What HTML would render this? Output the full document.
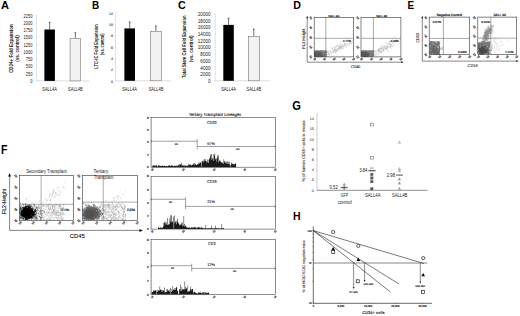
<!DOCTYPE html>
<html><head><meta charset="utf-8"><style>
html,body{margin:0;padding:0;background:#fff;width:520px;height:316px;overflow:hidden}
svg{display:block}
text{font-family:"Liberation Sans",sans-serif}
</style></head><body>
<svg width="520" height="316" viewBox="0 0 520 316">
<rect x="0" y="0" width="520" height="316" fill="#fff"/>
<text x="0.90" y="9.10" font-size="10.8" text-anchor="start" font-weight="bold" fill="#000" textLength="8.0" lengthAdjust="spacingAndGlyphs">A</text>
<text x="92.00" y="9.20" font-size="10.8" text-anchor="start" font-weight="bold" fill="#000" textLength="7.2" lengthAdjust="spacingAndGlyphs">B</text>
<text x="178.10" y="9.30" font-size="10.8" text-anchor="start" font-weight="bold" fill="#000" textLength="7.8" lengthAdjust="spacingAndGlyphs">C</text>
<text x="293.20" y="9.20" font-size="10.8" text-anchor="start" font-weight="bold" fill="#000" textLength="7.7" lengthAdjust="spacingAndGlyphs">D</text>
<text x="407.50" y="9.20" font-size="10.8" text-anchor="start" font-weight="bold" fill="#000" textLength="6.6" lengthAdjust="spacingAndGlyphs">E</text>
<text x="0.90" y="153.90" font-size="12.2" text-anchor="start" font-weight="bold" fill="#000" textLength="6.4" lengthAdjust="spacingAndGlyphs">F</text>
<text x="292.30" y="109.90" font-size="12.4" text-anchor="start" font-weight="bold" fill="#000" textLength="8.6" lengthAdjust="spacingAndGlyphs">G</text>
<text x="293.00" y="220.20" font-size="11.8" text-anchor="start" font-weight="bold" fill="#000" textLength="7.6" lengthAdjust="spacingAndGlyphs">H</text>
<line x1="36.50" y1="15.20" x2="36.50" y2="80.90" stroke="#c4c4c4" stroke-width="0.5"/>
<line x1="36.50" y1="80.90" x2="89.00" y2="80.90" stroke="#c4c4c4" stroke-width="0.6"/>
<line x1="35.50" y1="80.90" x2="36.50" y2="80.90" stroke="#c4c4c4" stroke-width="0.4"/>
<text x="32.50" y="82.92" font-size="4.5" text-anchor="end" font-weight="normal" fill="#222" textLength="2.25" lengthAdjust="spacingAndGlyphs">0</text>
<line x1="35.50" y1="73.66" x2="36.50" y2="73.66" stroke="#c4c4c4" stroke-width="0.4"/>
<text x="32.50" y="75.68" font-size="4.5" text-anchor="end" font-weight="normal" fill="#222" textLength="6.75" lengthAdjust="spacingAndGlyphs">250</text>
<line x1="35.50" y1="66.41" x2="36.50" y2="66.41" stroke="#c4c4c4" stroke-width="0.4"/>
<text x="32.50" y="68.43" font-size="4.5" text-anchor="end" font-weight="normal" fill="#222" textLength="6.75" lengthAdjust="spacingAndGlyphs">500</text>
<line x1="35.50" y1="59.17" x2="36.50" y2="59.17" stroke="#c4c4c4" stroke-width="0.4"/>
<text x="32.50" y="61.19" font-size="4.5" text-anchor="end" font-weight="normal" fill="#222" textLength="6.75" lengthAdjust="spacingAndGlyphs">750</text>
<line x1="35.50" y1="51.92" x2="36.50" y2="51.92" stroke="#c4c4c4" stroke-width="0.4"/>
<text x="32.50" y="53.94" font-size="4.5" text-anchor="end" font-weight="normal" fill="#222" textLength="9.0" lengthAdjust="spacingAndGlyphs">1000</text>
<line x1="35.50" y1="44.68" x2="36.50" y2="44.68" stroke="#c4c4c4" stroke-width="0.4"/>
<text x="32.50" y="46.70" font-size="4.5" text-anchor="end" font-weight="normal" fill="#222" textLength="9.0" lengthAdjust="spacingAndGlyphs">1250</text>
<line x1="35.50" y1="37.43" x2="36.50" y2="37.43" stroke="#c4c4c4" stroke-width="0.4"/>
<text x="32.50" y="39.45" font-size="4.5" text-anchor="end" font-weight="normal" fill="#222" textLength="9.0" lengthAdjust="spacingAndGlyphs">1500</text>
<line x1="35.50" y1="30.19" x2="36.50" y2="30.19" stroke="#c4c4c4" stroke-width="0.4"/>
<text x="32.50" y="32.21" font-size="4.5" text-anchor="end" font-weight="normal" fill="#222" textLength="9.0" lengthAdjust="spacingAndGlyphs">1750</text>
<line x1="35.50" y1="22.94" x2="36.50" y2="22.94" stroke="#c4c4c4" stroke-width="0.4"/>
<text x="32.50" y="24.96" font-size="4.5" text-anchor="end" font-weight="normal" fill="#222" textLength="9.0" lengthAdjust="spacingAndGlyphs">2000</text>
<line x1="35.50" y1="15.70" x2="36.50" y2="15.70" stroke="#c4c4c4" stroke-width="0.4"/>
<text x="32.50" y="17.72" font-size="4.5" text-anchor="end" font-weight="normal" fill="#222" textLength="9.0" lengthAdjust="spacingAndGlyphs">2250</text>
<line x1="49.65" y1="29.50" x2="49.65" y2="22.30" stroke="#111" stroke-width="0.6"/>
<line x1="48.75" y1="22.30" x2="50.55" y2="22.30" stroke="#111" stroke-width="0.6"/>
<rect x="44.40" y="29.50" width="10.50" height="51.40" fill="#000" stroke="none" stroke-width="0.6"/>
<line x1="75.35" y1="38.30" x2="75.35" y2="32.80" stroke="#111" stroke-width="0.6"/>
<line x1="74.45" y1="32.80" x2="76.25" y2="32.80" stroke="#111" stroke-width="0.6"/>
<rect x="70.10" y="38.60" width="10.50" height="42.30" fill="#f2f2f2" stroke="#777" stroke-width="0.6"/>
<text transform="translate(12.60 48.60) rotate(-90)" font-size="5.2" text-anchor="middle" font-weight="bold" fill="#111" textLength="48.5" lengthAdjust="spacingAndGlyphs">CD34+ Fold Expansion</text>
<text transform="translate(19.00 48.50) rotate(-90)" font-size="5.2" text-anchor="middle" font-weight="bold" fill="#111" textLength="26.5" lengthAdjust="spacingAndGlyphs">(vs. control)</text>
<text x="49.60" y="91.30" font-size="4.8" text-anchor="middle" font-weight="normal" fill="#111" textLength="14.6" lengthAdjust="spacingAndGlyphs">SALL4A</text>
<text x="75.40" y="91.30" font-size="4.8" text-anchor="middle" font-weight="normal" fill="#111" textLength="14.6" lengthAdjust="spacingAndGlyphs">SALL4B</text>
<line x1="115.60" y1="12.70" x2="115.60" y2="80.80" stroke="#c4c4c4" stroke-width="0.5"/>
<line x1="115.60" y1="80.80" x2="171.00" y2="80.80" stroke="#c4c4c4" stroke-width="0.6"/>
<line x1="114.60" y1="80.80" x2="115.60" y2="80.80" stroke="#c4c4c4" stroke-width="0.4"/>
<text x="113.00" y="82.50" font-size="3.6" text-anchor="end" font-weight="normal" fill="#222" textLength="1.95" lengthAdjust="spacingAndGlyphs" stroke="#222" stroke-width="0.09" text-rendering="geometricPrecision">0</text>
<line x1="114.60" y1="69.53" x2="115.60" y2="69.53" stroke="#c4c4c4" stroke-width="0.4"/>
<text x="113.00" y="71.23" font-size="3.6" text-anchor="end" font-weight="normal" fill="#222" textLength="1.95" lengthAdjust="spacingAndGlyphs" stroke="#222" stroke-width="0.09" text-rendering="geometricPrecision">2</text>
<line x1="114.60" y1="58.27" x2="115.60" y2="58.27" stroke="#c4c4c4" stroke-width="0.4"/>
<text x="113.00" y="59.96" font-size="3.6" text-anchor="end" font-weight="normal" fill="#222" textLength="1.95" lengthAdjust="spacingAndGlyphs" stroke="#222" stroke-width="0.09" text-rendering="geometricPrecision">4</text>
<line x1="114.60" y1="47.00" x2="115.60" y2="47.00" stroke="#c4c4c4" stroke-width="0.4"/>
<text x="113.00" y="48.70" font-size="3.6" text-anchor="end" font-weight="normal" fill="#222" textLength="1.95" lengthAdjust="spacingAndGlyphs" stroke="#222" stroke-width="0.09" text-rendering="geometricPrecision">6</text>
<line x1="114.60" y1="35.73" x2="115.60" y2="35.73" stroke="#c4c4c4" stroke-width="0.4"/>
<text x="113.00" y="37.43" font-size="3.6" text-anchor="end" font-weight="normal" fill="#222" textLength="1.95" lengthAdjust="spacingAndGlyphs" stroke="#222" stroke-width="0.09" text-rendering="geometricPrecision">8</text>
<line x1="114.60" y1="24.47" x2="115.60" y2="24.47" stroke="#c4c4c4" stroke-width="0.4"/>
<text x="113.00" y="26.16" font-size="3.6" text-anchor="end" font-weight="normal" fill="#222" textLength="3.9" lengthAdjust="spacingAndGlyphs" stroke="#222" stroke-width="0.09" text-rendering="geometricPrecision">10</text>
<line x1="114.60" y1="13.20" x2="115.60" y2="13.20" stroke="#c4c4c4" stroke-width="0.4"/>
<text x="113.00" y="14.90" font-size="3.6" text-anchor="end" font-weight="normal" fill="#222" textLength="3.9" lengthAdjust="spacingAndGlyphs" stroke="#222" stroke-width="0.09" text-rendering="geometricPrecision">12</text>
<line x1="129.70" y1="28.40" x2="129.70" y2="21.90" stroke="#111" stroke-width="0.6"/>
<line x1="128.80" y1="21.90" x2="130.60" y2="21.90" stroke="#111" stroke-width="0.6"/>
<rect x="124.40" y="28.40" width="10.60" height="52.40" fill="#000" stroke="none" stroke-width="0.6"/>
<line x1="155.90" y1="31.00" x2="155.90" y2="26.00" stroke="#111" stroke-width="0.6"/>
<line x1="155.00" y1="26.00" x2="156.80" y2="26.00" stroke="#111" stroke-width="0.6"/>
<rect x="150.50" y="31.30" width="10.80" height="49.50" fill="#f2f2f2" stroke="#777" stroke-width="0.6"/>
<text transform="translate(97.70 46.40) rotate(-90)" font-size="4.8" text-anchor="middle" font-weight="bold" fill="#111" textLength="44.5" lengthAdjust="spacingAndGlyphs">LTC-IC Fold Expansion</text>
<text transform="translate(104.40 44.20) rotate(-90)" font-size="4.8" text-anchor="middle" font-weight="bold" fill="#111" textLength="21.5" lengthAdjust="spacingAndGlyphs">(vs. control)</text>
<text x="129.50" y="91.20" font-size="4.8" text-anchor="middle" font-weight="normal" fill="#111" textLength="14.6" lengthAdjust="spacingAndGlyphs">SALL4A</text>
<text x="156.00" y="91.20" font-size="4.8" text-anchor="middle" font-weight="normal" fill="#111" textLength="14.6" lengthAdjust="spacingAndGlyphs">SALL4B</text>
<line x1="215.20" y1="13.50" x2="215.20" y2="80.80" stroke="#c4c4c4" stroke-width="0.5"/>
<line x1="215.20" y1="80.80" x2="270.00" y2="80.80" stroke="#c4c4c4" stroke-width="0.6"/>
<line x1="214.20" y1="80.80" x2="215.20" y2="80.80" stroke="#c4c4c4" stroke-width="0.4"/>
<text x="210.70" y="82.89" font-size="4.7" text-anchor="end" font-weight="normal" fill="#222" textLength="2.6" lengthAdjust="spacingAndGlyphs">0</text>
<line x1="214.20" y1="74.12" x2="215.20" y2="74.12" stroke="#c4c4c4" stroke-width="0.4"/>
<text x="210.70" y="76.21" font-size="4.7" text-anchor="end" font-weight="normal" fill="#222" textLength="10.4" lengthAdjust="spacingAndGlyphs">2000</text>
<line x1="214.20" y1="67.44" x2="215.20" y2="67.44" stroke="#c4c4c4" stroke-width="0.4"/>
<text x="210.70" y="69.53" font-size="4.7" text-anchor="end" font-weight="normal" fill="#222" textLength="10.4" lengthAdjust="spacingAndGlyphs">4000</text>
<line x1="214.20" y1="60.76" x2="215.20" y2="60.76" stroke="#c4c4c4" stroke-width="0.4"/>
<text x="210.70" y="62.85" font-size="4.7" text-anchor="end" font-weight="normal" fill="#222" textLength="10.4" lengthAdjust="spacingAndGlyphs">6000</text>
<line x1="214.20" y1="54.08" x2="215.20" y2="54.08" stroke="#c4c4c4" stroke-width="0.4"/>
<text x="210.70" y="56.17" font-size="4.7" text-anchor="end" font-weight="normal" fill="#222" textLength="10.4" lengthAdjust="spacingAndGlyphs">8000</text>
<line x1="214.20" y1="47.40" x2="215.20" y2="47.40" stroke="#c4c4c4" stroke-width="0.4"/>
<text x="210.70" y="49.49" font-size="4.7" text-anchor="end" font-weight="normal" fill="#222" textLength="13.0" lengthAdjust="spacingAndGlyphs">10000</text>
<line x1="214.20" y1="40.72" x2="215.20" y2="40.72" stroke="#c4c4c4" stroke-width="0.4"/>
<text x="210.70" y="42.81" font-size="4.7" text-anchor="end" font-weight="normal" fill="#222" textLength="13.0" lengthAdjust="spacingAndGlyphs">12000</text>
<line x1="214.20" y1="34.04" x2="215.20" y2="34.04" stroke="#c4c4c4" stroke-width="0.4"/>
<text x="210.70" y="36.13" font-size="4.7" text-anchor="end" font-weight="normal" fill="#222" textLength="13.0" lengthAdjust="spacingAndGlyphs">14000</text>
<line x1="214.20" y1="27.36" x2="215.20" y2="27.36" stroke="#c4c4c4" stroke-width="0.4"/>
<text x="210.70" y="29.45" font-size="4.7" text-anchor="end" font-weight="normal" fill="#222" textLength="13.0" lengthAdjust="spacingAndGlyphs">16000</text>
<line x1="214.20" y1="20.68" x2="215.20" y2="20.68" stroke="#c4c4c4" stroke-width="0.4"/>
<text x="210.70" y="22.77" font-size="4.7" text-anchor="end" font-weight="normal" fill="#222" textLength="13.0" lengthAdjust="spacingAndGlyphs">18000</text>
<line x1="214.20" y1="14.00" x2="215.20" y2="14.00" stroke="#c4c4c4" stroke-width="0.4"/>
<text x="210.70" y="16.09" font-size="4.7" text-anchor="end" font-weight="normal" fill="#222" textLength="13.0" lengthAdjust="spacingAndGlyphs">20000</text>
<line x1="228.55" y1="24.90" x2="228.55" y2="18.20" stroke="#111" stroke-width="0.6"/>
<line x1="227.65" y1="18.20" x2="229.45" y2="18.20" stroke="#111" stroke-width="0.6"/>
<rect x="223.30" y="24.90" width="10.50" height="55.90" fill="#000" stroke="none" stroke-width="0.6"/>
<line x1="253.80" y1="36.20" x2="253.80" y2="29.20" stroke="#111" stroke-width="0.6"/>
<line x1="252.90" y1="29.20" x2="254.70" y2="29.20" stroke="#111" stroke-width="0.6"/>
<rect x="248.30" y="36.50" width="11.00" height="44.30" fill="#f2f2f2" stroke="#777" stroke-width="0.6"/>
<text transform="translate(186.20 46.70) rotate(-90)" font-size="5.0" text-anchor="middle" font-weight="bold" fill="#111" textLength="62.5" lengthAdjust="spacingAndGlyphs">Total Stem Cell Fold Expansion</text>
<text transform="translate(192.90 48.80) rotate(-90)" font-size="5.0" text-anchor="middle" font-weight="bold" fill="#111" textLength="27.0" lengthAdjust="spacingAndGlyphs">(vs. control)</text>
<text x="228.50" y="91.20" font-size="4.8" text-anchor="middle" font-weight="normal" fill="#111" textLength="14.6" lengthAdjust="spacingAndGlyphs">SALL4A</text>
<text x="253.80" y="91.20" font-size="4.8" text-anchor="middle" font-weight="normal" fill="#111" textLength="14.6" lengthAdjust="spacingAndGlyphs">SALL4B</text>
<line x1="307.20" y1="17.60" x2="307.20" y2="62.20" stroke="#222" stroke-width="0.55"/>
<polygon points="307.20,15.80 306.30,18.20 308.10,18.20" fill="#000" stroke="none" stroke-width="0.6"/>
<line x1="307.20" y1="62.20" x2="401.80" y2="62.20" stroke="#222" stroke-width="0.55"/>
<polygon points="403.60,62.20 401.20,61.30 401.20,63.10" fill="#000" stroke="none" stroke-width="0.6"/>
<path d="M333.9 51.2h0M334.2 49.2h0M327.8 52.6h0M346.2 44.8h0M345.5 44.8h0M339.8 47.5h0M340.8 47.7h0M321.0 52.7h0M328.2 51.9h0M338.9 47.4h0M340.9 45.2h0M339.0 48.4h0M330.2 55.6h0M341.2 49.0h0M330.6 50.1h0M333.1 50.2h0M341.9 46.6h0M332.2 48.8h0M331.5 53.9h0M328.9 53.1h0M340.0 43.7h0M336.6 51.5h0M335.2 47.6h0M340.7 46.5h0M342.2 47.9h0M349.2 43.2h0M337.3 45.5h0M341.7 44.8h0M332.1 48.2h0M327.5 52.1h0M347.8 38.7h0M323.1 56.0h0M349.2 43.7h0M319.1 52.0h0M339.4 45.7h0M326.1 56.1h0M346.1 44.3h0M338.4 48.7h0M350.5 43.1h0M340.9 47.8h0M344.8 45.8h0M318.4 56.4h0M343.8 41.2h0M334.5 52.0h0M341.2 46.1h0M339.1 48.9h0M337.3 50.9h0M330.2 51.0h0M345.6 44.3h0M328.3 54.9h0M349.4 41.3h0M323.8 54.8h0M334.9 48.9h0M348.8 40.3h0M347.5 40.5h0M329.1 53.8h0M346.4 45.7h0M339.3 47.7h0M337.6 49.5h0M334.6 50.3h0M341.4 46.3h0M343.1 46.7h0M332.4 50.0h0M336.1 51.0h0M333.2 51.3h0M352.7 35.0h0M326.1 54.5h0M339.8 47.6h0M332.3 52.3h0M338.7 46.5h0M331.2 51.2h0M334.2 49.8h0M345.3 41.8h0M335.6 51.3h0M343.9 48.3h0M320.9 55.8h0M333.1 51.8h0M346.0 38.1h0M346.0 40.8h0M342.3 42.6h0M337.8 50.7h0M334.9 50.0h0M343.4 45.6h0M335.4 52.6h0M345.6 43.5h0M344.4 44.2h0M337.4 49.8h0M338.2 49.3h0M322.5 52.5h0M341.7 44.0h0M327.0 50.3h0M347.6 44.8h0M349.5 40.2h0M336.2 46.4h0M343.1 48.9h0M328.2 56.3h0M345.1 44.1h0M335.3 48.0h0M339.8 48.0h0M349.7 39.9h0M346.4 47.0h0M349.3 42.0h0M329.5 54.5h0M337.2 48.7h0M349.0 41.9h0M339.1 46.1h0M336.1 50.8h0M336.9 51.4h0M335.6 51.4h0M349.6 45.7h0M330.2 53.8h0M319.3 55.0h0M325.1 54.4h0M334.5 49.7h0M330.9 52.1h0M352.3 40.9h0M341.0 48.7h0M334.4 47.0h0M331.2 53.7h0M321.4 55.0h0M345.3 46.1h0M336.3 50.6h0M337.7 45.6h0M322.1 54.5h0M344.5 43.5h0M328.1 51.3h0M322.4 55.5h0M325.6 55.0h0M330.4 47.6h0M342.7 45.0h0M338.8 46.6h0M343.2 47.0h0M342.2 46.6h0M348.2 44.3h0M340.3 42.3h0M344.3 47.7h0M333.5 49.2h0M340.4 52.1h0M327.9 54.6h0M353.2 40.1h0M341.3 48.3h0M328.0 52.8h0M338.8 49.4h0M335.9 48.6h0M327.1 52.7h0M344.2 45.1h0M328.5 50.9h0M341.9 40.4h0M341.8 47.2h0M351.4 42.3h0M335.6 50.3h0M339.1 45.9h0M348.1 46.9h0M323.6 53.8h0M338.8 48.0h0M332.6 48.6h0M325.5 51.3h0M351.5 43.4h0M352.6 42.5h0M328.4 53.4h0M335.7 50.3h0M329.7 51.9h0M340.3 47.7h0M341.9 46.5h0M333.3 52.1h0M336.6 46.9h0M330.6 51.7h0M335.2 49.7h0M336.2 49.3h0M335.0 46.8h0M340.0 49.3h0M340.1 46.5h0M340.2 44.8h0M327.8 54.7h0M326.4 48.0h0M332.8 47.6h0M329.3 53.5h0M340.7 47.0h0M349.6 43.8h0M336.0 50.3h0M351.1 43.6h0M345.4 41.9h0M334.9 51.2h0M333.5 52.6h0M341.6 48.2h0M334.3 55.4h0M347.4 42.9h0M337.0 54.1h0M333.1 52.3h0M345.0 44.5h0M325.7 54.6h0M339.4 49.7h0M343.2 45.4h0M343.9 46.2h0M338.1 48.1h0M334.0 51.5h0M326.7 52.3h0M336.2 45.7h0" stroke="#b4b4b4" stroke-width="0.55" stroke-linecap="round"/>
<path d="M323.0 56.1h0M319.0 52.7h0M326.3 51.7h0M323.1 54.7h0M314.8 55.9h0M325.2 54.6h0M323.3 55.7h0M316.0 53.9h0M320.5 55.8h0M324.1 55.8h0M321.4 56.2h0M322.6 55.0h0M317.1 50.9h0M315.9 52.9h0M315.6 55.9h0M321.1 54.6h0M321.9 54.9h0M320.3 50.8h0M324.0 55.3h0M320.4 54.0h0M322.3 51.1h0M323.3 52.3h0M315.2 52.4h0M323.2 52.0h0M320.3 53.1h0M320.1 54.9h0M323.7 54.5h0M322.1 51.2h0M316.1 52.3h0M323.4 52.6h0M321.2 50.8h0M315.0 52.4h0M322.5 55.0h0M322.6 52.5h0M320.6 53.6h0M320.0 51.5h0M325.2 52.0h0M326.3 56.5h0M319.8 52.4h0M316.8 56.5h0M316.9 54.3h0M316.0 53.9h0M325.9 51.6h0M324.3 53.9h0M325.1 55.0h0M317.1 56.2h0M320.2 50.9h0M319.8 52.6h0M316.0 52.8h0M318.1 55.9h0M324.6 51.5h0M325.6 55.1h0M325.3 52.5h0M318.8 53.1h0M326.5 54.3h0M318.7 53.4h0M317.6 51.0h0M315.5 55.8h0M317.8 56.5h0M317.3 52.4h0M320.5 51.9h0M318.8 56.6h0M325.1 55.7h0M322.0 56.3h0M325.8 54.1h0M323.1 51.0h0M323.2 53.5h0M323.5 54.7h0M317.8 51.0h0M325.6 51.5h0M320.1 52.8h0M317.9 55.3h0M326.2 52.3h0M322.3 52.6h0M321.1 53.2h0M316.3 51.7h0M316.8 56.3h0M320.4 52.1h0M319.8 51.6h0M316.6 51.3h0M318.5 51.3h0M317.2 52.3h0M321.3 56.2h0M323.5 53.3h0M319.3 53.9h0M318.9 52.8h0M315.0 52.4h0M326.1 51.5h0M320.4 54.6h0M324.8 52.1h0M317.6 52.3h0M319.2 53.5h0M326.0 55.9h0M325.0 50.9h0M314.7 55.1h0M325.2 53.6h0M321.5 50.7h0M319.1 56.4h0M324.4 56.0h0M326.2 52.3h0M315.6 51.7h0M320.7 54.9h0M325.8 55.2h0M322.2 55.4h0M319.9 54.1h0M314.8 55.5h0M317.1 56.4h0M322.2 52.6h0M315.8 52.3h0M322.1 55.0h0M315.7 51.2h0M320.7 54.3h0M319.0 52.1h0M321.6 50.8h0M318.0 53.6h0M326.0 54.7h0M325.1 53.6h0M317.2 52.3h0M326.0 55.1h0M318.0 50.9h0M320.4 54.9h0M319.4 52.3h0M322.4 56.4h0M317.1 50.9h0M318.4 53.3h0M322.6 52.0h0M324.0 55.3h0M320.5 52.0h0M326.2 52.6h0M324.3 52.2h0M317.0 55.4h0M317.9 56.6h0M320.3 51.9h0M317.0 53.3h0M322.4 56.5h0M316.1 53.1h0M316.0 51.1h0M315.0 53.1h0M325.3 56.1h0M325.7 52.8h0M316.6 56.5h0M323.4 50.9h0M322.4 53.1h0M318.9 52.8h0M316.4 50.8h0M317.7 52.9h0M326.0 51.5h0M326.1 52.0h0M318.6 55.8h0M324.3 53.4h0M314.9 53.6h0M318.8 56.4h0M316.6 53.0h0M325.3 50.9h0M319.3 55.7h0M323.7 51.0h0M314.7 51.1h0M325.5 52.3h0M323.4 56.2h0M318.4 52.4h0M326.0 54.5h0M317.5 55.1h0M318.2 52.4h0M325.5 54.6h0M325.8 50.9h0M317.1 53.6h0M326.0 56.6h0M319.0 52.3h0M319.5 53.8h0M325.6 51.9h0M324.1 55.3h0M324.4 55.5h0M321.7 52.7h0M318.2 53.0h0M323.9 51.2h0M316.7 55.3h0M317.3 51.1h0M314.7 54.1h0M317.5 51.3h0M315.5 53.8h0M323.0 53.5h0M317.1 53.3h0M321.9 54.9h0M323.4 55.9h0M322.4 51.5h0M324.6 52.5h0M321.2 53.0h0M323.3 52.0h0M317.3 52.2h0M316.2 56.2h0M321.4 52.7h0M320.5 52.2h0M324.2 54.7h0M326.4 51.4h0M320.1 55.8h0M324.6 56.3h0M314.8 52.5h0M315.7 51.9h0M326.2 54.3h0M325.7 53.0h0M324.9 53.5h0M317.5 55.5h0M325.9 51.4h0M321.6 54.5h0M316.9 53.0h0M316.0 52.0h0M317.4 54.4h0M322.3 52.0h0M322.6 51.9h0M318.1 52.0h0M324.0 54.1h0M315.1 51.4h0M319.1 54.1h0M322.1 51.3h0M316.3 55.0h0M319.3 52.5h0M318.0 56.6h0M318.1 54.2h0M318.7 53.3h0M318.7 51.9h0M323.2 52.0h0M319.5 55.8h0M319.3 56.1h0M319.9 51.7h0M322.1 56.3h0M315.4 54.5h0M318.8 53.8h0M316.1 52.5h0M320.7 56.4h0M315.6 53.7h0M316.7 51.5h0M320.2 51.1h0M325.6 53.1h0M325.3 54.5h0M324.4 51.7h0M323.9 52.1h0M319.2 55.9h0M324.4 51.9h0M316.9 53.2h0M320.6 53.1h0M315.8 52.3h0M323.2 56.2h0M314.8 54.2h0M323.6 51.0h0M324.5 51.5h0M321.6 54.1h0M322.0 52.6h0M319.4 54.3h0M319.5 54.8h0M319.7 53.4h0M314.6 54.5h0M320.3 52.2h0M323.6 55.5h0M319.9 51.8h0M320.1 51.4h0M315.9 53.4h0M315.4 53.4h0M320.5 51.0h0M322.1 51.2h0M323.3 55.5h0M320.5 51.1h0M320.4 53.1h0M325.9 51.6h0M323.2 55.7h0M320.3 56.6h0M325.5 51.8h0M323.9 56.4h0M315.1 52.9h0M323.5 51.7h0M325.3 52.4h0M324.3 51.6h0M320.4 56.4h0M316.8 52.3h0M320.5 52.7h0M314.7 51.9h0M316.3 56.5h0M322.6 56.2h0M316.3 55.5h0M315.7 54.0h0M322.1 52.9h0M325.0 54.1h0M321.4 56.1h0M322.0 53.2h0M324.0 52.4h0M326.4 54.3h0M318.7 55.4h0M319.7 51.8h0M323.4 51.0h0M324.3 52.3h0M321.5 54.8h0M318.1 50.8h0M314.7 51.7h0M321.8 53.4h0M320.6 56.2h0M315.9 52.1h0M322.3 50.9h0M315.6 52.9h0M317.0 54.3h0M321.5 52.0h0M321.9 53.6h0M315.9 56.5h0M317.3 51.7h0M315.5 54.6h0M324.9 55.5h0M319.2 52.4h0M321.2 52.9h0M322.2 53.5h0M325.8 55.2h0M317.3 56.3h0M314.8 54.0h0M319.2 52.2h0M315.0 55.5h0M325.8 51.6h0M316.7 54.5h0M320.5 54.7h0M324.2 51.8h0M318.1 52.6h0M314.9 56.2h0M323.9 55.1h0M323.4 53.6h0M323.4 53.5h0M317.0 51.4h0M317.1 51.0h0M318.4 55.3h0M322.8 55.9h0M323.0 52.4h0M321.1 53.4h0M323.9 53.9h0M317.5 54.7h0M326.1 52.1h0M325.1 50.8h0M317.5 52.2h0M323.4 56.5h0M323.4 52.7h0M325.1 52.8h0M317.2 56.3h0M322.0 55.0h0M320.0 55.9h0M322.8 56.0h0M319.6 55.2h0M321.3 52.6h0M316.9 54.6h0M315.2 56.3h0M316.0 50.9h0M315.6 56.4h0M318.5 51.6h0M314.6 51.0h0M322.8 54.6h0M322.8 55.2h0M315.1 54.4h0M318.7 55.7h0M324.3 56.2h0M315.1 56.1h0M325.5 56.5h0M315.6 52.0h0M315.7 51.0h0M324.7 55.7h0M322.0 55.8h0M322.0 52.5h0M315.5 51.3h0M323.6 52.0h0M318.2 53.3h0M314.5 52.3h0M317.7 55.1h0M318.8 52.7h0M326.1 53.8h0M324.7 54.5h0M314.7 53.3h0M319.6 55.5h0M318.5 55.1h0M320.9 52.1h0M324.8 51.3h0M324.3 51.8h0M320.3 55.6h0M316.5 53.8h0M318.5 55.8h0M317.5 56.5h0M317.8 52.1h0M322.8 53.8h0M315.6 54.6h0M315.3 55.6h0M322.8 55.6h0M322.0 52.9h0M319.2 53.2h0M325.2 51.3h0M325.2 50.9h0M316.8 52.4h0M325.3 53.8h0M318.9 56.1h0M317.1 53.6h0M320.8 55.4h0M323.5 54.7h0M318.5 52.7h0M316.2 55.9h0M322.4 55.3h0M316.4 53.4h0M323.7 54.3h0M315.8 53.6h0M325.1 52.2h0M316.6 52.6h0M322.9 55.9h0M316.2 51.7h0M317.3 52.7h0M320.7 51.7h0M318.3 51.9h0M326.2 55.2h0M315.5 53.1h0M326.3 55.6h0M323.3 53.4h0M316.7 54.6h0M315.6 52.0h0M319.0 50.9h0M319.2 55.6h0M322.8 53.8h0M322.0 53.6h0M316.0 54.4h0M319.2 55.3h0M325.4 53.4h0M321.3 55.3h0M319.4 52.1h0M323.1 56.1h0M323.8 55.0h0M324.7 54.9h0M322.1 53.5h0M318.1 54.6h0M315.5 53.3h0M323.9 55.1h0M322.0 52.3h0M319.5 53.5h0M321.9 53.2h0M322.5 56.4h0M316.5 54.7h0M323.8 53.1h0M314.7 54.1h0M316.2 55.5h0M325.8 53.9h0M315.5 54.3h0M320.9 55.1h0M320.5 54.7h0M324.4 53.9h0M319.3 56.5h0M316.9 54.9h0M319.1 55.4h0M318.6 51.1h0M317.6 53.2h0M319.4 55.0h0M318.6 52.4h0M317.0 55.3h0M325.8 54.0h0M317.0 55.6h0M319.1 52.0h0M315.9 55.5h0M324.2 54.6h0M320.0 54.2h0M318.6 54.6h0M324.3 55.7h0M320.0 52.5h0M321.0 51.5h0M324.5 52.9h0M324.7 52.4h0M318.9 52.3h0M319.5 51.9h0M317.7 52.2h0M318.0 53.7h0" stroke="#808080" stroke-width="0.8" stroke-linecap="round"/>
<path d="M314.9 55.6h0M316.6 53.6h0M321.6 53.5h0M321.6 55.6h0M320.9 53.3h0M317.4 54.5h0M323.1 54.9h0M316.8 53.8h0M318.7 55.2h0M317.0 55.4h0M320.9 53.3h0M314.7 53.2h0M315.4 52.1h0M318.7 52.1h0M316.1 54.3h0M317.8 55.5h0M316.9 54.7h0M316.5 54.9h0M315.1 54.8h0M321.9 54.8h0M314.9 55.1h0M315.6 52.4h0M316.1 55.7h0M318.5 54.6h0M315.7 53.2h0M320.7 55.0h0M315.6 51.7h0M315.2 54.6h0M318.2 54.5h0M317.1 52.8h0M316.0 55.9h0M318.3 56.2h0M315.2 55.5h0M318.5 53.7h0M318.7 53.4h0M315.9 54.7h0M315.5 52.7h0M316.8 55.8h0M316.8 56.5h0M315.1 52.9h0M321.1 55.3h0M319.8 53.5h0M319.5 55.1h0M319.1 54.7h0M320.4 53.8h0M315.6 52.6h0M320.3 53.7h0M315.4 53.4h0M316.7 52.9h0M317.1 53.8h0M316.5 53.4h0M317.8 54.1h0M318.0 55.0h0M318.4 51.6h0M316.5 53.6h0M319.4 52.5h0M316.1 54.3h0M317.0 56.1h0M316.7 56.1h0M320.4 55.3h0M318.8 54.9h0M318.8 53.0h0M319.8 54.0h0M319.9 54.8h0M320.2 54.5h0M316.8 55.0h0M316.8 53.9h0M317.9 54.9h0M321.0 54.8h0M321.5 56.2h0M318.0 54.9h0M317.4 53.7h0M317.6 53.8h0M321.3 55.4h0M316.7 52.0h0M317.6 54.1h0M315.3 53.1h0M317.6 54.5h0M320.9 54.9h0M318.1 54.2h0M316.9 54.7h0M315.8 56.1h0M314.6 55.5h0M315.6 56.2h0M316.1 53.6h0M314.8 56.3h0M321.3 53.9h0M316.0 54.2h0M323.2 56.1h0M316.5 52.2h0M316.2 56.4h0M321.8 54.3h0M316.2 54.0h0M315.3 56.2h0M318.3 53.6h0M319.4 54.7h0M315.1 55.6h0M319.6 52.0h0M321.7 55.4h0M319.4 52.1h0M316.1 54.2h0M320.1 52.7h0M315.8 51.9h0M317.2 55.2h0M319.2 54.3h0M315.1 53.4h0M316.2 54.9h0M318.3 53.2h0M321.1 56.0h0M317.9 53.7h0M319.7 53.6h0M314.8 55.0h0M318.2 55.5h0M315.9 56.1h0M315.5 55.7h0M318.1 55.0h0M319.8 54.7h0M320.1 55.9h0M318.0 53.9h0M316.0 54.0h0M317.3 54.7h0M324.3 55.6h0M319.4 53.5h0M316.1 54.3h0M318.1 53.2h0M321.2 53.9h0M320.1 51.4h0M317.7 55.1h0M318.1 55.5h0M318.3 54.9h0M318.4 54.4h0M315.9 53.9h0M317.6 56.5h0M316.6 53.5h0M316.5 55.0h0M324.4 53.8h0M317.8 55.1h0M317.6 56.0h0M321.6 53.0h0M318.1 54.3h0M318.5 52.6h0M318.9 55.0h0M317.9 51.4h0M316.9 53.6h0M314.6 53.4h0M319.2 55.5h0M317.7 55.4h0M316.4 54.8h0M317.8 55.5h0M317.5 54.5h0M317.4 53.8h0M322.6 55.4h0M320.8 52.5h0M319.2 55.9h0M321.8 56.5h0M319.4 53.1h0M315.8 55.1h0M318.8 53.3h0M316.9 54.1h0M317.8 55.2h0M317.1 53.0h0M317.5 56.1h0M318.7 55.6h0M318.8 53.6h0M319.0 56.1h0M322.1 55.7h0M317.0 53.9h0M315.9 54.9h0M317.6 55.6h0M322.7 54.7h0M319.2 55.4h0M318.3 54.4h0M317.4 53.5h0M318.1 54.7h0M318.4 53.5h0M317.8 54.8h0M319.0 53.2h0M318.6 56.1h0M319.0 54.2h0M316.6 54.4h0M317.4 53.8h0M318.5 55.0h0M315.7 53.7h0M317.5 55.6h0M315.1 53.3h0M318.8 53.0h0M317.9 55.2h0M317.5 53.3h0M317.6 54.2h0M318.4 53.5h0M320.1 52.4h0M317.3 54.7h0M319.8 53.8h0M318.9 53.9h0M316.8 55.3h0M315.7 56.1h0M320.4 54.7h0M315.2 55.3h0M320.2 56.2h0M319.5 52.1h0M315.0 56.3h0M321.8 55.8h0M320.2 54.2h0M315.0 54.6h0M317.3 54.6h0M319.2 54.5h0M318.1 55.3h0M318.7 54.8h0M317.2 53.8h0M320.7 54.9h0" stroke="#5a5a5a" stroke-width="0.7" stroke-linecap="round"/>
<rect x="314.20" y="17.30" width="39.50" height="39.60" fill="none" stroke="#333" stroke-width="0.6"/>
<line x1="325.80" y1="17.30" x2="325.80" y2="56.90" stroke="#555" stroke-width="0.5"/>
<line x1="314.20" y1="38.30" x2="353.70" y2="38.30" stroke="#555" stroke-width="0.5"/>
<text x="333.80" y="16.50" font-size="2.9" text-anchor="middle" font-weight="normal" fill="#222" textLength="11.0" lengthAdjust="spacingAndGlyphs" stroke="#222" stroke-width="0.17" text-rendering="geometricPrecision">SALL 4A</text>
<text x="347.10" y="41.80" font-size="2.9" text-anchor="middle" font-weight="normal" fill="#222" textLength="8.2" lengthAdjust="spacingAndGlyphs" stroke="#222" stroke-width="0.17" text-rendering="geometricPrecision">2.77%</text>
<text transform="translate(310.80 17.80) rotate(50)" font-size="2.6" text-anchor="middle" dy="0.91" fill="#222" stroke="#222" stroke-width="0.2" text-rendering="geometricPrecision">10</text>
<text transform="translate(314.60 59.10) rotate(-50)" font-size="2.6" text-anchor="middle" dy="0.91" fill="#222" stroke="#222" stroke-width="0.2" text-rendering="geometricPrecision">10</text>
<text transform="translate(310.80 27.55) rotate(50)" font-size="2.6" text-anchor="middle" dy="0.91" fill="#222" stroke="#222" stroke-width="0.2" text-rendering="geometricPrecision">10</text>
<text transform="translate(324.32 59.10) rotate(-50)" font-size="2.6" text-anchor="middle" dy="0.91" fill="#222" stroke="#222" stroke-width="0.2" text-rendering="geometricPrecision">10</text>
<text transform="translate(310.80 37.30) rotate(50)" font-size="2.6" text-anchor="middle" dy="0.91" fill="#222" stroke="#222" stroke-width="0.2" text-rendering="geometricPrecision">10</text>
<text transform="translate(334.05 59.10) rotate(-50)" font-size="2.6" text-anchor="middle" dy="0.91" fill="#222" stroke="#222" stroke-width="0.2" text-rendering="geometricPrecision">10</text>
<text transform="translate(310.80 47.05) rotate(50)" font-size="2.6" text-anchor="middle" dy="0.91" fill="#222" stroke="#222" stroke-width="0.2" text-rendering="geometricPrecision">10</text>
<text transform="translate(343.77 59.10) rotate(-50)" font-size="2.6" text-anchor="middle" dy="0.91" fill="#222" stroke="#222" stroke-width="0.2" text-rendering="geometricPrecision">10</text>
<text transform="translate(310.80 56.80) rotate(50)" font-size="2.6" text-anchor="middle" dy="0.91" fill="#222" stroke="#222" stroke-width="0.2" text-rendering="geometricPrecision">10</text>
<text transform="translate(353.50 59.10) rotate(-50)" font-size="2.6" text-anchor="middle" dy="0.91" fill="#222" stroke="#222" stroke-width="0.2" text-rendering="geometricPrecision">10</text>
<path d="M373.3 52.5h0M381.8 48.5h0M392.8 41.5h0M387.4 47.0h0M372.4 54.3h0M382.2 50.4h0M378.9 51.6h0M368.0 54.0h0M390.1 47.6h0M382.9 47.7h0M392.7 39.5h0M375.8 54.0h0M388.9 43.7h0M384.4 46.3h0M383.5 50.6h0M389.7 41.0h0M389.9 41.6h0M393.3 44.6h0M383.0 51.2h0M377.2 50.2h0M379.7 50.4h0M373.3 54.8h0M387.9 46.6h0M398.3 40.5h0M394.8 41.8h0M389.8 41.3h0M384.8 47.6h0M378.5 49.8h0M379.9 48.9h0M378.1 50.2h0M373.5 53.4h0M390.1 44.8h0M378.6 54.1h0M391.8 46.5h0M393.4 43.0h0M381.8 51.9h0M378.0 51.1h0M386.4 48.0h0M380.5 52.3h0M381.4 51.3h0M392.6 45.5h0M389.6 43.1h0M371.2 53.5h0M387.3 50.0h0M372.0 55.1h0M375.3 51.1h0M380.5 51.7h0M384.9 50.5h0M374.1 55.3h0M391.4 44.9h0M387.3 45.5h0M373.2 52.9h0M378.6 54.7h0M384.8 48.7h0M389.7 43.9h0M391.2 45.6h0M388.0 47.4h0M397.3 40.9h0M387.6 48.2h0M374.9 55.6h0M369.9 52.6h0M387.7 44.2h0M382.0 45.8h0M383.6 46.1h0M386.1 44.0h0M387.0 46.3h0M383.6 48.5h0M384.2 45.4h0M374.6 52.1h0M386.8 42.7h0M376.1 51.0h0M373.5 54.4h0M381.7 47.7h0M374.1 55.1h0M377.1 53.1h0M387.0 42.8h0M373.2 53.8h0M386.1 49.1h0M390.2 47.5h0M379.6 50.1h0M390.0 44.5h0M392.5 40.7h0M388.9 45.6h0M385.8 47.5h0M373.3 52.7h0M396.6 40.3h0M372.2 54.0h0M379.5 48.7h0M375.4 55.0h0M378.1 49.0h0M390.1 46.6h0M373.6 55.2h0M366.4 55.2h0M393.1 43.3h0M371.3 55.9h0M391.3 44.7h0M366.7 56.3h0M386.8 48.7h0M399.7 40.0h0M378.7 51.0h0M393.9 41.4h0M394.7 37.0h0M390.2 43.8h0M387.1 48.3h0M372.4 54.0h0M385.2 49.1h0M374.6 50.9h0M381.3 49.3h0M378.2 54.4h0M390.7 45.1h0M389.5 43.2h0M380.1 49.1h0M371.6 54.6h0M381.7 52.7h0M374.7 52.0h0M386.8 47.9h0M383.3 47.7h0M387.5 47.5h0M370.6 52.5h0M384.3 48.4h0M384.0 46.5h0M381.2 47.8h0M386.4 48.7h0M398.8 43.8h0M375.8 51.5h0M374.6 53.8h0M363.2 56.1h0M371.4 55.8h0M383.0 49.5h0M399.0 39.1h0M386.1 45.7h0M364.7 54.7h0M383.4 50.9h0M381.7 48.0h0M376.3 56.4h0M383.2 50.1h0M379.4 51.8h0M390.3 44.9h0M378.9 50.6h0M374.3 52.8h0M380.3 50.7h0M395.0 45.7h0M379.0 52.2h0M385.7 49.2h0M383.2 49.4h0M378.8 49.3h0M390.8 47.8h0M389.0 46.9h0M385.4 46.7h0M384.8 46.8h0M374.3 56.0h0M388.8 51.2h0M376.5 52.1h0M378.4 51.5h0M381.1 48.2h0M392.7 42.4h0M378.4 52.4h0M378.2 50.4h0M386.2 46.5h0M371.8 54.3h0M381.0 53.6h0M373.1 55.9h0M375.9 51.7h0M380.1 51.0h0M390.8 48.8h0M377.3 54.7h0M392.0 46.2h0M376.2 54.3h0M382.0 50.2h0M380.6 51.6h0M393.0 46.3h0M381.2 52.0h0M396.1 40.3h0M396.3 39.4h0M387.9 47.8h0M396.3 42.8h0M378.7 49.3h0M371.7 56.2h0M380.9 48.4h0M387.8 44.8h0M379.1 49.9h0M397.9 44.6h0M381.6 46.2h0M385.5 47.8h0M386.1 48.6h0M380.1 52.4h0M390.5 45.6h0M379.3 49.7h0M389.2 43.4h0M381.6 48.0h0M370.5 56.5h0M382.8 49.1h0M390.9 41.7h0M382.4 49.8h0M390.5 42.8h0M389.4 46.2h0M395.2 45.3h0M387.9 51.1h0M383.0 48.0h0M379.9 48.4h0" stroke="#b4b4b4" stroke-width="0.55" stroke-linecap="round"/>
<path d="M370.2 55.8h0M364.5 51.3h0M372.7 53.3h0M372.5 55.0h0M370.1 55.8h0M368.8 53.5h0M361.7 55.0h0M366.3 53.9h0M372.4 51.5h0M370.4 51.0h0M369.7 55.7h0M364.3 54.1h0M372.9 54.6h0M367.7 52.3h0M361.8 52.9h0M366.1 52.0h0M364.9 51.6h0M369.7 54.8h0M364.0 52.2h0M367.4 53.5h0M372.5 52.9h0M364.7 56.2h0M362.8 54.2h0M365.2 55.7h0M367.8 55.4h0M363.2 54.8h0M368.4 53.6h0M370.5 55.8h0M362.5 52.5h0M365.5 52.0h0M361.8 52.5h0M363.5 55.0h0M366.6 51.4h0M365.1 53.6h0M365.5 51.8h0M362.0 50.8h0M373.2 55.3h0M362.1 55.1h0M373.1 54.2h0M362.4 53.7h0M366.4 51.9h0M367.7 50.8h0M372.3 54.7h0M368.8 56.5h0M369.1 52.3h0M364.1 51.6h0M361.4 55.5h0M371.4 52.6h0M363.4 54.6h0M371.4 56.4h0M363.1 55.5h0M371.2 55.3h0M365.1 51.9h0M371.2 52.7h0M365.6 54.1h0M365.6 55.8h0M364.0 51.0h0M368.0 54.6h0M371.1 55.1h0M372.2 56.5h0M367.1 53.8h0M363.0 52.6h0M368.2 51.2h0M369.5 51.7h0M362.2 51.0h0M366.5 51.9h0M369.9 50.8h0M371.4 56.0h0M370.7 53.3h0M364.5 54.8h0M367.4 53.3h0M365.2 53.4h0M369.2 55.8h0M372.1 51.7h0M364.7 53.5h0M368.0 52.9h0M363.5 51.3h0M365.0 53.6h0M373.0 56.3h0M372.9 54.5h0M371.0 51.1h0M369.4 54.5h0M364.7 54.2h0M372.7 53.7h0M369.0 52.6h0M365.3 56.2h0M361.4 51.9h0M369.4 53.5h0M362.1 54.8h0M365.6 54.3h0M366.2 54.0h0M368.0 53.2h0M362.5 51.8h0M372.0 54.1h0M362.5 56.0h0M364.2 51.3h0M367.6 52.3h0M367.1 54.1h0M363.9 54.2h0M362.5 53.9h0M368.3 51.2h0M366.1 51.2h0M366.5 56.0h0M367.8 55.1h0M370.3 51.4h0M373.2 55.2h0M362.3 55.8h0M365.9 51.8h0M372.8 54.2h0M370.6 51.6h0M370.6 51.1h0M364.0 53.0h0M363.7 52.6h0M369.7 53.3h0M372.0 54.5h0M371.8 54.2h0M372.3 56.1h0M363.1 55.3h0M365.3 55.4h0M369.4 55.8h0M362.6 53.0h0M370.1 56.5h0M369.9 51.0h0M368.5 51.3h0M367.8 55.7h0M362.5 56.4h0M369.3 52.3h0M363.4 53.5h0M371.3 54.3h0M362.5 50.9h0M362.4 55.6h0M363.3 54.1h0M364.6 54.9h0M365.7 51.6h0M371.8 54.0h0M369.5 55.7h0M372.7 50.8h0M365.3 51.7h0M367.2 56.1h0M370.9 51.0h0M363.3 55.7h0M369.4 53.1h0M366.9 51.7h0M371.4 53.1h0M371.8 54.5h0M362.0 52.8h0M363.7 56.2h0M368.3 51.0h0M363.2 52.9h0M366.8 54.3h0M365.8 52.9h0M365.2 50.9h0M361.6 51.6h0M369.3 52.4h0M364.4 53.8h0M364.3 54.2h0M367.5 56.6h0M373.2 50.9h0M367.9 55.5h0M371.8 55.5h0M368.8 54.6h0M365.5 52.5h0M370.8 56.1h0M372.6 54.9h0M364.8 55.4h0M370.1 53.9h0M368.9 52.9h0M367.8 53.2h0M361.8 52.8h0M367.0 53.0h0M364.1 52.2h0M365.4 51.6h0M366.6 53.5h0M368.0 52.6h0M363.1 51.1h0M364.8 52.6h0M370.0 54.1h0M372.6 52.8h0M372.4 54.3h0M362.1 51.8h0M365.4 55.5h0M366.3 56.1h0M361.9 53.7h0M372.1 52.4h0M364.2 50.9h0M363.1 52.4h0M369.7 52.1h0M366.0 52.0h0M368.5 56.0h0M369.0 51.9h0M368.4 51.2h0M371.0 56.1h0M365.3 51.6h0M363.4 54.0h0M371.8 54.7h0M372.4 52.0h0M365.1 55.3h0M369.0 53.2h0M369.4 52.8h0M361.8 53.3h0M361.6 54.6h0M365.2 53.8h0M368.4 52.3h0M366.8 50.8h0M372.4 54.2h0M373.2 51.1h0M368.6 55.2h0M365.1 51.3h0M363.0 51.6h0M370.5 51.3h0M371.0 53.3h0M367.7 54.3h0M367.9 54.8h0M368.4 52.8h0M370.2 52.3h0M369.8 55.4h0M370.6 52.6h0M366.6 52.4h0M367.5 56.5h0M362.7 50.8h0M366.9 54.8h0M370.6 53.0h0M373.2 52.1h0M370.3 51.3h0M361.4 51.6h0M361.8 53.8h0M367.9 51.9h0M372.6 53.0h0M362.9 51.8h0M370.1 56.4h0M363.1 50.9h0M370.6 52.2h0M373.1 53.8h0M368.9 52.8h0M370.9 53.6h0M365.0 56.3h0M362.4 55.2h0M361.9 54.7h0M366.0 56.0h0M361.8 54.2h0M366.1 56.4h0M372.6 54.6h0M363.8 52.3h0M364.3 53.4h0M363.9 52.0h0M370.4 54.7h0M363.7 54.2h0M363.0 56.0h0M371.7 52.4h0M370.3 55.8h0M364.5 52.8h0M367.0 56.2h0M363.1 54.9h0M368.4 53.5h0M368.2 56.1h0M363.6 56.1h0M365.5 55.5h0M371.6 51.9h0M364.7 50.9h0M362.9 55.2h0M362.3 51.8h0M369.4 51.3h0M365.2 56.4h0M369.8 56.1h0M373.1 50.9h0M364.0 55.6h0M369.5 51.0h0M367.3 52.2h0M366.3 51.4h0M365.0 56.1h0M362.6 53.7h0M362.7 53.4h0M363.3 54.9h0M362.9 55.3h0M367.2 51.4h0M365.4 53.8h0M372.3 52.9h0M371.9 55.2h0M364.4 51.8h0M364.3 51.2h0M361.6 53.9h0M366.1 54.1h0M365.5 50.8h0M369.5 54.7h0M367.7 54.1h0M371.8 55.1h0M366.0 52.7h0M365.8 53.1h0M366.1 51.6h0M373.3 50.8h0M368.5 56.4h0M364.2 54.5h0M365.7 52.2h0M363.5 51.5h0M371.4 55.5h0M372.2 51.0h0M369.6 52.7h0M369.0 54.1h0M371.5 53.9h0M363.9 54.6h0M370.2 53.1h0M369.8 53.1h0M367.5 54.5h0M369.4 52.7h0M368.8 54.1h0M363.8 54.5h0M364.3 56.3h0M366.9 55.2h0M367.5 53.7h0M363.8 51.6h0M372.4 54.0h0M367.5 54.0h0M371.0 52.2h0M363.2 55.8h0M366.7 54.7h0M371.2 56.2h0M371.7 51.0h0M365.7 55.8h0M371.1 51.5h0M363.0 52.3h0M362.3 52.9h0M370.9 53.9h0M366.6 51.3h0M369.6 53.5h0M366.9 55.6h0M370.4 51.7h0M369.4 53.0h0M367.5 52.2h0M365.6 52.8h0M365.7 50.8h0M363.5 54.2h0M361.8 51.8h0M369.9 52.4h0M365.0 52.2h0M371.3 51.3h0M368.9 56.0h0M363.5 53.3h0M370.8 54.5h0M365.6 51.0h0M366.5 53.0h0M369.8 52.5h0M366.1 54.7h0M371.0 52.9h0M365.8 54.3h0M372.4 51.9h0M373.0 55.1h0M365.6 54.8h0M365.1 51.2h0M370.3 53.1h0M367.5 53.8h0M372.1 55.4h0M361.4 54.4h0M366.7 53.6h0M371.4 53.3h0M366.9 56.2h0M366.5 53.7h0M367.3 55.8h0M369.3 55.3h0M366.0 51.0h0M369.4 54.1h0M370.5 55.5h0M362.5 52.1h0M362.0 55.7h0M362.3 51.3h0M370.3 54.2h0M361.8 54.9h0M369.8 53.7h0M361.8 55.0h0M366.2 54.3h0M373.3 55.7h0M371.8 51.6h0M365.2 53.9h0M364.4 52.3h0M364.9 52.3h0M371.6 54.1h0M367.3 53.3h0M361.7 52.6h0M371.7 55.6h0M371.6 52.3h0M363.6 51.1h0M367.7 53.0h0M366.8 53.7h0M368.2 53.0h0M370.9 52.0h0M372.3 54.1h0M361.7 52.7h0M367.6 53.2h0M368.0 52.7h0M364.4 55.6h0M364.6 55.1h0M370.9 54.4h0M366.6 56.5h0M366.5 56.1h0M361.8 53.4h0M368.9 51.0h0M371.6 51.2h0M368.4 51.8h0M372.4 54.2h0M370.9 53.8h0M369.3 54.9h0M364.7 52.0h0M371.3 51.6h0M372.3 52.0h0M362.3 51.3h0M370.7 56.6h0M366.2 54.8h0M364.2 56.3h0M369.5 51.7h0M361.8 55.0h0M361.6 55.9h0M364.7 52.2h0M368.2 52.7h0M367.9 51.7h0M372.2 52.7h0M371.4 51.7h0M365.9 50.9h0M365.7 54.7h0M363.8 54.1h0M362.2 53.6h0M370.0 53.4h0M369.4 51.4h0M371.2 51.5h0M372.6 54.0h0M364.6 52.9h0M370.3 53.8h0M372.5 51.3h0M367.0 56.0h0M368.4 54.0h0M362.2 51.6h0M364.4 56.2h0M371.4 52.1h0M372.4 50.9h0M365.3 56.5h0M369.1 51.0h0M365.2 53.5h0M364.1 55.3h0M363.3 55.6h0M364.7 51.2h0M367.9 51.3h0M367.8 55.6h0M368.4 53.6h0M361.5 53.9h0M362.3 54.7h0M362.7 54.3h0M365.4 53.0h0M369.2 51.7h0M363.2 56.5h0M365.1 55.9h0M371.8 53.7h0M362.9 51.3h0M371.8 51.5h0M367.2 54.0h0M362.5 53.6h0M363.1 54.0h0M367.3 53.0h0M363.5 53.2h0M363.6 51.5h0M364.0 56.1h0M367.2 56.2h0M367.1 55.6h0M368.1 55.0h0M363.9 55.3h0M363.0 52.4h0M361.5 53.1h0M367.4 52.5h0M372.0 51.3h0M368.2 52.2h0M368.4 55.5h0M369.8 51.1h0M364.1 54.4h0M373.1 51.0h0M368.6 55.0h0M371.1 52.8h0" stroke="#808080" stroke-width="0.8" stroke-linecap="round"/>
<path d="M365.4 53.3h0M364.8 54.6h0M366.6 54.2h0M363.7 55.0h0M364.0 54.0h0M363.8 55.3h0M365.0 55.6h0M368.4 54.7h0M361.9 54.9h0M365.4 51.7h0M364.5 52.7h0M365.5 56.6h0M366.7 52.7h0M367.4 55.9h0M363.7 55.4h0M367.7 54.3h0M364.5 53.9h0M366.9 51.8h0M367.5 53.4h0M366.5 52.5h0M362.5 53.9h0M366.3 52.5h0M365.8 53.8h0M367.1 54.3h0M365.5 54.5h0M368.3 54.2h0M364.7 55.6h0M362.9 55.0h0M363.1 52.7h0M361.5 56.2h0M365.4 52.7h0M368.3 53.8h0M363.7 55.0h0M362.1 52.5h0M362.9 56.3h0M366.5 52.6h0M367.0 54.7h0M365.6 54.8h0M365.4 53.4h0M362.6 53.8h0M363.7 55.5h0M363.2 53.9h0M366.0 55.3h0M363.8 53.3h0M362.4 52.5h0M366.9 56.2h0M368.5 55.4h0M365.2 55.7h0M366.5 54.4h0M362.5 55.7h0M367.0 54.2h0M365.9 54.6h0M365.1 54.0h0M364.4 54.7h0M364.5 56.0h0M366.7 55.8h0M366.2 53.4h0M367.1 53.4h0M367.2 55.6h0M362.4 56.3h0M363.1 53.7h0M366.7 53.8h0M368.4 55.6h0M363.4 53.1h0M367.3 53.3h0M364.5 54.3h0M364.0 55.4h0M368.9 53.8h0M366.3 56.2h0M363.9 54.5h0M361.7 56.2h0M363.4 53.8h0M364.6 53.5h0M362.3 54.3h0M367.7 54.4h0M365.6 52.7h0M363.7 52.6h0M364.3 55.5h0M365.1 53.5h0M366.2 56.0h0M365.4 54.1h0M364.4 53.8h0M364.2 55.1h0M363.9 56.0h0M370.0 54.0h0M365.2 55.8h0M365.9 54.4h0M363.5 56.1h0M365.8 55.4h0M362.8 55.6h0M366.2 54.4h0M362.0 52.9h0M364.0 55.4h0M364.6 53.1h0M361.4 53.9h0M364.5 53.6h0M362.7 54.5h0M363.3 53.9h0M364.6 54.3h0M365.8 53.1h0M364.3 55.7h0M367.0 55.5h0M364.6 52.6h0M365.9 55.5h0M362.2 53.1h0M364.8 53.3h0M367.9 53.9h0M363.3 55.9h0M365.2 53.5h0M361.9 54.4h0M362.2 52.1h0M365.8 55.6h0M366.6 55.3h0M363.1 53.1h0M362.1 55.7h0M365.5 52.1h0M366.4 56.4h0M364.6 53.1h0M368.3 52.9h0M364.3 52.1h0M361.8 52.4h0M366.8 56.3h0M363.6 52.9h0M364.4 55.2h0M364.3 55.7h0M364.7 55.3h0M361.8 51.3h0M365.2 53.4h0M364.2 54.2h0M365.5 53.6h0M367.6 54.7h0M365.6 55.6h0M366.7 55.3h0M368.5 55.3h0M365.7 55.3h0M363.1 53.8h0M363.1 56.3h0M365.5 53.1h0M368.2 55.2h0M367.1 55.0h0M363.8 54.9h0M362.1 53.1h0M362.6 54.0h0M361.6 54.6h0M368.5 54.6h0M366.4 54.4h0M365.3 54.7h0M363.3 54.8h0M361.3 55.3h0M363.9 53.2h0M363.7 55.5h0M363.0 55.4h0M362.1 54.5h0M365.1 55.7h0M361.3 53.9h0M368.1 54.3h0M369.2 53.7h0M363.9 52.5h0M365.9 55.1h0M368.9 54.9h0M364.0 52.8h0M364.3 56.0h0M366.1 56.4h0M366.4 54.6h0M365.8 54.9h0M365.3 53.2h0M365.3 55.1h0M367.8 53.4h0M365.2 55.2h0M362.1 54.1h0M364.9 55.7h0M369.3 55.1h0M363.2 51.4h0M366.8 54.5h0M364.3 53.3h0M366.1 52.2h0M364.7 54.9h0M365.2 56.5h0M364.3 54.8h0M366.4 52.5h0M363.9 54.8h0M366.6 53.6h0M366.3 55.2h0M361.4 54.9h0M365.0 55.7h0M366.3 53.9h0M366.8 55.8h0M365.5 55.4h0M361.7 55.2h0M362.2 53.0h0M363.7 54.9h0M364.4 54.2h0M362.3 55.0h0M362.9 52.7h0M363.6 53.2h0M363.9 54.4h0M364.8 56.1h0M365.5 52.2h0M362.1 53.0h0M365.4 54.8h0M368.4 54.3h0M365.2 54.8h0M367.3 53.9h0M366.0 54.2h0M364.7 54.9h0M364.5 54.0h0M367.9 54.3h0" stroke="#5a5a5a" stroke-width="0.7" stroke-linecap="round"/>
<rect x="361.00" y="17.30" width="39.90" height="39.60" fill="none" stroke="#333" stroke-width="0.6"/>
<line x1="373.40" y1="17.30" x2="373.40" y2="56.90" stroke="#555" stroke-width="0.5"/>
<line x1="361.00" y1="38.30" x2="400.90" y2="38.30" stroke="#555" stroke-width="0.5"/>
<text x="381.70" y="16.50" font-size="2.9" text-anchor="middle" font-weight="normal" fill="#222" textLength="11.0" lengthAdjust="spacingAndGlyphs" stroke="#222" stroke-width="0.17" text-rendering="geometricPrecision">SALL 4B</text>
<text x="394.60" y="41.80" font-size="2.9" text-anchor="middle" font-weight="normal" fill="#222" textLength="8.2" lengthAdjust="spacingAndGlyphs" stroke="#222" stroke-width="0.17" text-rendering="geometricPrecision">3.33%</text>
<text transform="translate(357.60 17.80) rotate(50)" font-size="2.6" text-anchor="middle" dy="0.91" fill="#222" stroke="#222" stroke-width="0.2" text-rendering="geometricPrecision">10</text>
<text transform="translate(361.40 59.10) rotate(-50)" font-size="2.6" text-anchor="middle" dy="0.91" fill="#222" stroke="#222" stroke-width="0.2" text-rendering="geometricPrecision">10</text>
<text transform="translate(357.60 27.55) rotate(50)" font-size="2.6" text-anchor="middle" dy="0.91" fill="#222" stroke="#222" stroke-width="0.2" text-rendering="geometricPrecision">10</text>
<text transform="translate(371.22 59.10) rotate(-50)" font-size="2.6" text-anchor="middle" dy="0.91" fill="#222" stroke="#222" stroke-width="0.2" text-rendering="geometricPrecision">10</text>
<text transform="translate(357.60 37.30) rotate(50)" font-size="2.6" text-anchor="middle" dy="0.91" fill="#222" stroke="#222" stroke-width="0.2" text-rendering="geometricPrecision">10</text>
<text transform="translate(381.05 59.10) rotate(-50)" font-size="2.6" text-anchor="middle" dy="0.91" fill="#222" stroke="#222" stroke-width="0.2" text-rendering="geometricPrecision">10</text>
<text transform="translate(357.60 47.05) rotate(50)" font-size="2.6" text-anchor="middle" dy="0.91" fill="#222" stroke="#222" stroke-width="0.2" text-rendering="geometricPrecision">10</text>
<text transform="translate(390.87 59.10) rotate(-50)" font-size="2.6" text-anchor="middle" dy="0.91" fill="#222" stroke="#222" stroke-width="0.2" text-rendering="geometricPrecision">10</text>
<text transform="translate(357.60 56.80) rotate(50)" font-size="2.6" text-anchor="middle" dy="0.91" fill="#222" stroke="#222" stroke-width="0.2" text-rendering="geometricPrecision">10</text>
<text transform="translate(400.70 59.10) rotate(-50)" font-size="2.6" text-anchor="middle" dy="0.91" fill="#222" stroke="#222" stroke-width="0.2" text-rendering="geometricPrecision">10</text>
<text transform="translate(304.80 38.70) rotate(-90)" font-size="4.0" text-anchor="middle" font-weight="normal" fill="#222" textLength="20.0" lengthAdjust="spacingAndGlyphs" stroke="#222" stroke-width="0.10" text-rendering="geometricPrecision">FL2-Height</text>
<text x="355.70" y="67.90" font-size="4.0" text-anchor="middle" font-weight="normal" fill="#222" textLength="9.5" lengthAdjust="spacingAndGlyphs" stroke="#222" stroke-width="0.10" text-rendering="geometricPrecision">CD45</text>
<line x1="422.30" y1="17.60" x2="422.30" y2="61.10" stroke="#222" stroke-width="0.55"/>
<polygon points="422.30,15.80 421.40,18.20 423.20,18.20" fill="#000" stroke="none" stroke-width="0.6"/>
<line x1="422.30" y1="61.10" x2="517.00" y2="61.10" stroke="#222" stroke-width="0.55"/>
<polygon points="518.80,61.10 516.40,60.20 516.40,62.00" fill="#000" stroke="none" stroke-width="0.6"/>
<path d="M431.4 48.0h0M430.8 51.5h0M438.8 53.2h0M429.7 52.3h0M435.4 52.0h0M434.8 49.3h0M435.8 51.7h0M430.5 42.0h0M435.3 45.1h0M433.7 41.4h0M437.3 41.7h0M438.2 51.8h0M434.4 42.9h0M436.3 44.0h0M434.1 42.8h0M439.7 48.4h0M433.3 42.6h0M437.1 52.3h0M438.4 42.7h0M433.4 45.3h0M437.5 43.2h0M435.9 54.0h0M437.5 41.4h0M430.5 42.8h0M436.8 49.1h0M435.0 47.2h0M433.9 49.2h0M436.3 53.2h0M437.2 51.6h0M439.0 52.2h0M437.0 41.7h0M436.6 52.3h0M434.1 52.7h0M431.5 53.5h0M434.2 50.5h0M432.3 45.2h0M433.3 45.5h0M430.7 47.1h0M439.7 49.8h0M439.2 51.2h0M438.2 54.2h0M437.4 44.9h0M432.2 46.7h0M429.9 44.3h0M438.7 53.2h0M433.1 51.3h0M437.6 52.8h0M437.8 48.2h0M430.8 52.0h0M432.9 49.4h0M433.4 48.3h0M439.5 43.4h0M435.1 49.7h0M435.2 53.5h0M433.9 53.1h0M436.7 53.8h0M430.6 44.1h0M432.6 53.1h0M429.8 44.7h0M437.0 54.1h0M431.5 47.0h0M436.7 50.3h0M437.3 51.1h0M432.2 44.7h0M430.0 50.3h0M431.8 44.7h0M439.5 49.7h0M435.7 49.8h0M435.8 50.3h0M432.8 42.2h0M430.4 41.5h0M433.4 43.2h0M430.9 47.7h0M439.6 50.2h0M432.5 51.3h0M431.5 42.6h0M432.8 46.6h0M436.7 47.1h0M437.1 42.6h0M439.2 45.8h0M438.2 41.7h0M438.2 44.3h0M438.4 51.7h0M436.5 44.9h0M429.8 43.8h0M438.9 43.4h0M436.4 48.9h0M436.4 43.7h0M431.2 42.6h0M439.7 46.3h0M436.4 48.7h0M432.0 42.2h0M429.9 52.4h0M431.0 53.8h0M433.4 50.7h0M431.1 51.5h0M432.3 46.1h0M435.0 42.8h0M432.2 51.6h0M432.6 46.3h0M437.5 44.2h0M431.7 44.2h0M433.6 46.1h0M436.2 47.4h0M438.6 42.0h0M436.5 52.1h0M432.1 41.7h0M434.2 42.8h0M434.4 50.5h0M430.7 42.9h0M434.6 43.6h0M432.1 47.0h0M430.9 42.2h0M433.4 47.4h0M439.3 48.5h0M430.4 44.2h0M437.3 48.6h0M438.6 53.8h0M438.5 42.8h0M439.3 48.1h0M432.1 43.5h0M438.5 44.1h0M430.5 44.8h0M439.1 47.3h0M437.2 42.3h0M434.3 45.4h0M431.8 49.9h0M433.4 42.9h0M439.7 47.6h0M431.5 41.5h0M436.4 48.0h0M429.9 47.4h0M437.3 48.3h0M432.1 47.8h0M435.9 49.8h0M431.2 51.7h0M439.3 50.9h0M438.4 46.1h0M438.9 43.7h0M432.0 49.1h0M438.9 42.4h0M431.9 41.8h0M434.2 43.2h0M431.7 51.0h0M435.6 53.5h0M433.8 50.1h0M429.8 53.6h0M432.1 47.5h0M434.9 53.6h0M434.7 54.2h0M436.0 44.1h0M438.2 43.9h0M439.9 47.2h0M432.0 53.8h0M433.0 46.6h0M433.2 50.0h0M429.9 46.2h0M431.4 52.0h0M429.7 49.2h0M432.3 47.2h0M435.4 50.5h0M431.1 44.4h0M430.9 53.7h0M431.2 43.1h0M435.0 48.9h0M438.7 42.1h0M432.1 43.5h0M435.7 47.2h0M433.9 52.8h0M436.4 52.5h0M439.5 44.8h0M439.3 46.6h0M430.2 53.2h0M430.8 41.6h0M432.7 45.1h0M439.6 52.6h0M434.0 48.2h0M438.4 51.8h0M436.4 48.0h0M430.9 44.5h0M436.4 48.9h0M437.9 53.0h0M439.5 43.8h0M430.5 52.9h0M435.5 43.7h0M436.8 44.6h0M432.1 46.1h0M435.0 50.1h0M430.4 50.9h0M436.1 47.4h0M436.6 51.7h0M429.8 47.5h0M436.6 50.5h0M436.3 43.7h0M439.5 51.5h0M432.1 46.9h0M439.5 44.0h0M433.9 53.8h0M438.9 44.3h0M437.2 46.0h0M436.5 51.2h0M431.0 44.2h0M431.9 44.8h0M430.1 43.1h0M433.8 46.8h0M430.5 48.9h0M439.3 48.8h0M433.3 50.4h0M434.2 43.6h0M434.6 41.6h0M436.6 43.4h0M433.5 53.8h0M437.5 52.1h0M436.2 49.5h0M436.9 53.8h0M431.7 51.2h0M432.8 44.6h0M438.1 49.1h0M438.4 52.6h0M435.7 43.9h0M429.9 48.3h0M437.1 44.9h0M430.4 41.4h0M431.5 50.3h0M429.7 44.3h0M432.4 50.5h0M439.8 41.6h0M430.9 53.4h0M439.6 43.3h0M433.1 48.1h0M433.0 46.7h0M434.6 44.7h0M430.3 42.4h0M431.4 42.5h0M436.1 50.3h0M432.4 51.6h0M437.1 45.8h0M434.7 43.8h0M439.2 48.6h0M430.2 43.3h0M436.8 46.3h0M437.0 44.3h0M437.8 51.7h0M430.7 48.9h0M431.7 50.5h0M437.9 51.6h0M432.1 42.5h0M436.5 48.6h0M431.1 43.8h0M435.6 42.7h0M436.2 44.5h0M432.3 46.8h0M435.1 50.7h0M430.0 50.7h0M432.0 45.1h0M436.2 50.3h0M436.0 53.0h0M431.8 45.4h0M436.5 44.7h0M431.3 44.3h0M437.6 52.0h0M437.0 53.7h0M437.8 45.3h0M432.9 50.7h0M430.3 49.2h0M430.6 42.0h0M434.9 43.3h0M439.2 52.7h0M434.4 43.9h0M430.9 47.9h0M435.0 46.0h0M437.0 48.2h0M437.6 42.7h0M430.4 46.3h0M434.6 44.6h0M436.5 44.2h0M432.9 47.5h0M437.0 51.3h0M433.5 47.1h0M439.2 53.4h0M436.0 42.7h0M434.3 49.6h0M432.5 41.8h0M439.7 53.1h0M431.0 47.4h0M436.0 45.2h0M430.4 51.0h0M437.6 47.0h0M430.6 46.4h0M430.7 53.8h0M430.2 45.1h0M437.5 43.1h0M430.8 42.3h0M431.4 48.2h0M438.2 43.5h0M431.5 51.2h0M434.0 45.7h0M431.0 44.5h0M439.6 42.9h0M432.3 50.9h0M438.8 53.0h0M434.5 53.7h0M435.9 45.1h0M434.4 50.6h0M437.2 43.0h0M431.7 53.7h0M430.8 51.8h0M433.2 44.5h0M432.3 47.4h0M439.8 43.3h0M438.4 45.5h0M431.5 51.0h0M433.2 43.8h0M434.0 52.0h0M438.5 48.8h0M429.8 51.2h0M435.9 53.0h0M439.4 45.6h0M438.4 51.9h0M432.4 46.1h0M433.5 45.9h0M433.6 42.8h0M432.0 53.1h0M433.9 49.6h0M438.8 51.1h0M432.2 53.2h0M437.9 54.1h0M437.1 51.1h0M438.0 44.6h0M436.4 46.3h0M438.3 43.1h0M435.2 45.7h0M438.1 45.8h0M438.3 52.3h0M438.7 43.1h0M439.3 51.0h0M436.6 49.8h0M430.2 52.6h0M435.3 47.2h0M433.2 51.5h0M437.7 52.6h0M431.9 45.7h0M432.2 42.6h0M433.0 41.7h0M437.8 44.3h0M430.4 42.2h0M437.3 43.9h0M434.4 46.5h0M437.9 53.7h0M432.9 49.5h0M438.8 47.4h0M438.9 50.8h0M432.9 52.6h0M435.5 42.7h0M435.7 52.1h0M435.0 47.6h0M433.9 52.7h0M436.5 44.0h0M433.4 46.0h0M439.5 50.3h0M431.0 53.2h0M430.1 49.0h0M434.1 50.6h0M434.1 42.5h0M435.0 51.9h0M437.7 45.9h0M432.0 51.0h0M437.9 44.2h0M438.7 54.2h0M434.1 46.3h0M436.9 53.4h0M431.8 45.2h0M433.1 50.8h0M431.6 48.4h0M434.8 50.0h0M431.2 53.7h0M439.9 48.6h0M437.8 43.7h0M439.0 48.5h0M437.4 52.6h0M433.4 53.3h0M431.8 41.6h0M434.8 53.0h0M438.9 53.7h0M434.9 53.4h0M435.4 43.2h0M436.1 51.7h0M434.0 49.1h0M432.3 44.9h0M434.0 48.0h0M434.5 42.5h0M429.8 45.7h0M437.0 51.0h0M432.1 44.6h0M435.0 43.6h0M435.8 53.0h0M431.8 48.9h0M437.1 51.0h0M437.0 50.5h0M432.5 52.2h0M439.1 42.0h0M439.3 47.1h0M430.6 42.2h0M437.8 50.1h0M431.1 47.3h0M436.2 54.2h0M433.1 51.2h0M432.2 43.9h0M431.3 46.6h0M436.0 45.3h0M431.4 44.2h0M430.6 43.8h0M432.9 47.9h0M431.6 47.5h0M434.2 53.9h0M434.7 53.5h0M434.5 43.9h0M435.7 43.2h0M431.4 42.3h0M436.9 53.8h0M433.8 45.9h0M434.0 45.9h0M436.7 46.4h0M431.3 52.5h0M435.5 41.4h0M438.4 50.8h0M433.3 49.5h0M439.1 46.5h0M434.1 45.2h0M435.4 49.9h0M437.2 53.6h0M431.2 46.1h0M438.4 51.6h0M435.7 50.1h0M433.2 53.5h0M435.3 46.5h0M431.6 42.8h0M438.9 51.7h0M430.0 45.5h0M434.6 47.7h0M433.4 52.9h0M433.3 48.2h0M439.2 49.6h0M434.6 45.6h0M433.6 49.2h0M437.7 44.7h0M433.5 46.3h0M433.4 53.1h0M435.2 44.9h0M433.1 52.0h0" stroke="#777" stroke-width="0.8" stroke-linecap="round"/>
<path d="M436.2 53.9h0M435.8 50.9h0M438.4 52.4h0M435.3 52.1h0M436.0 51.4h0M433.8 46.7h0M439.3 47.5h0M439.0 53.7h0M432.7 51.4h0M434.1 45.8h0M433.4 51.4h0M437.1 47.7h0M435.0 50.9h0M434.6 51.1h0M433.3 47.3h0M435.3 51.7h0M435.6 53.8h0M431.1 44.9h0M431.9 51.7h0M434.2 52.5h0M442.2 49.4h0M433.8 49.2h0M434.8 52.0h0M431.8 54.0h0M437.1 51.8h0M433.9 50.1h0M430.1 52.3h0M431.8 49.4h0M436.7 48.4h0M432.9 52.8h0M438.8 49.0h0M437.0 49.1h0M435.2 51.9h0M431.4 53.3h0M438.7 50.8h0M434.9 47.8h0M438.7 50.9h0M431.0 52.6h0M430.5 49.0h0M439.7 49.1h0M432.6 49.3h0M432.8 52.1h0M437.8 48.2h0M435.3 46.2h0M438.0 50.5h0M433.9 54.1h0M432.2 50.8h0M435.1 50.2h0M438.0 48.9h0M436.7 54.1h0M431.9 49.3h0M435.2 50.3h0M434.4 49.6h0M434.0 51.9h0M436.1 48.7h0M433.9 48.8h0M433.8 47.1h0M436.6 52.4h0M433.9 49.0h0M433.1 49.0h0M442.4 47.6h0M431.3 52.1h0M435.7 46.8h0M433.0 50.9h0M434.2 49.3h0M433.8 50.0h0M437.3 50.5h0M434.1 49.4h0M432.6 48.9h0M437.0 51.3h0M438.4 53.2h0M434.7 50.3h0M431.5 51.3h0M433.4 46.7h0M434.7 51.9h0M434.7 49.5h0M435.4 53.4h0M433.4 52.0h0M436.8 49.5h0M434.6 48.9h0M435.7 49.8h0M437.1 48.8h0M438.4 49.9h0M432.1 48.4h0M435.9 48.6h0M438.7 53.9h0M435.5 47.1h0M434.1 48.9h0M429.7 51.8h0M439.7 49.4h0M436.2 53.9h0M431.8 49.9h0M434.9 51.9h0M431.3 51.2h0M433.9 53.1h0M430.2 49.3h0M432.9 49.9h0M436.0 49.1h0M441.0 48.9h0M436.3 53.2h0M436.6 50.2h0M432.1 50.1h0M435.9 51.0h0M435.7 52.1h0M432.0 48.4h0M437.8 49.5h0M432.1 48.4h0M436.6 47.9h0M432.0 53.3h0M434.5 50.8h0M432.6 50.1h0M432.9 50.6h0M436.1 47.5h0M431.9 45.5h0M438.0 50.5h0M434.2 50.6h0M436.7 51.5h0M436.3 50.3h0M433.9 50.6h0M429.5 53.4h0M430.3 48.2h0M435.9 50.8h0M438.9 54.2h0M432.0 50.5h0M436.7 50.2h0M433.9 49.8h0M437.6 44.5h0M437.4 53.3h0M434.0 52.1h0M431.8 53.5h0M441.9 48.4h0M437.7 50.6h0M433.4 49.5h0M433.7 47.6h0M434.2 52.1h0M435.0 51.9h0M430.4 48.3h0M435.8 53.2h0M431.3 49.3h0M431.5 52.3h0M435.1 50.8h0M432.6 51.6h0M434.3 48.8h0M435.0 49.0h0M436.6 52.3h0M432.5 52.2h0M434.4 48.9h0M431.9 46.5h0M431.4 51.6h0M437.2 49.1h0M434.6 51.6h0M436.2 51.8h0M437.3 52.6h0M432.3 51.7h0M434.3 52.1h0M433.4 52.8h0M437.5 48.6h0M432.8 51.4h0M435.4 51.1h0M436.3 47.7h0M436.1 53.6h0M437.0 51.8h0M433.6 51.7h0M434.0 46.7h0M432.7 50.6h0M432.9 48.4h0M433.6 49.8h0M434.4 50.6h0M434.6 53.2h0M434.5 51.7h0M431.1 43.3h0M433.2 52.4h0M433.4 49.1h0M431.1 52.9h0M432.9 51.3h0M437.0 52.0h0M439.8 50.4h0M436.6 52.4h0M432.6 50.8h0M432.8 48.1h0M434.9 48.8h0" stroke="#666" stroke-width="0.7" stroke-linecap="round"/>
<rect x="429.20" y="17.10" width="40.50" height="37.60" fill="none" stroke="#333" stroke-width="0.6"/>
<line x1="443.40" y1="17.10" x2="443.40" y2="54.70" stroke="#555" stroke-width="0.5"/>
<line x1="429.20" y1="38.40" x2="469.70" y2="38.40" stroke="#555" stroke-width="0.5"/>
<text x="449.40" y="16.20" font-size="3.2" text-anchor="middle" font-weight="normal" fill="#222" textLength="25.5" lengthAdjust="spacingAndGlyphs" stroke="#222" stroke-width="0.19" text-rendering="geometricPrecision">Negative Control</text>
<text x="437.00" y="22.70" font-size="2.9" text-anchor="middle" font-weight="normal" fill="#222" textLength="8.6" lengthAdjust="spacingAndGlyphs" stroke="#222" stroke-width="0.17" text-rendering="geometricPrecision">0.07%</text>
<text x="462.30" y="52.60" font-size="2.9" text-anchor="middle" font-weight="normal" fill="#222" textLength="8.6" lengthAdjust="spacingAndGlyphs" stroke="#222" stroke-width="0.17" text-rendering="geometricPrecision">0.04%</text>
<text transform="translate(425.80 17.60) rotate(50)" font-size="2.6" text-anchor="middle" dy="0.91" fill="#222" stroke="#222" stroke-width="0.2" text-rendering="geometricPrecision">10</text>
<text transform="translate(429.60 56.90) rotate(-50)" font-size="2.6" text-anchor="middle" dy="0.91" fill="#222" stroke="#222" stroke-width="0.2" text-rendering="geometricPrecision">10</text>
<text transform="translate(425.80 26.85) rotate(50)" font-size="2.6" text-anchor="middle" dy="0.91" fill="#222" stroke="#222" stroke-width="0.2" text-rendering="geometricPrecision">10</text>
<text transform="translate(439.57 56.90) rotate(-50)" font-size="2.6" text-anchor="middle" dy="0.91" fill="#222" stroke="#222" stroke-width="0.2" text-rendering="geometricPrecision">10</text>
<text transform="translate(425.80 36.10) rotate(50)" font-size="2.6" text-anchor="middle" dy="0.91" fill="#222" stroke="#222" stroke-width="0.2" text-rendering="geometricPrecision">10</text>
<text transform="translate(449.55 56.90) rotate(-50)" font-size="2.6" text-anchor="middle" dy="0.91" fill="#222" stroke="#222" stroke-width="0.2" text-rendering="geometricPrecision">10</text>
<text transform="translate(425.80 45.35) rotate(50)" font-size="2.6" text-anchor="middle" dy="0.91" fill="#222" stroke="#222" stroke-width="0.2" text-rendering="geometricPrecision">10</text>
<text transform="translate(459.52 56.90) rotate(-50)" font-size="2.6" text-anchor="middle" dy="0.91" fill="#222" stroke="#222" stroke-width="0.2" text-rendering="geometricPrecision">10</text>
<text transform="translate(425.80 54.60) rotate(50)" font-size="2.6" text-anchor="middle" dy="0.91" fill="#222" stroke="#222" stroke-width="0.2" text-rendering="geometricPrecision">10</text>
<text transform="translate(469.50 56.90) rotate(-50)" font-size="2.6" text-anchor="middle" dy="0.91" fill="#222" stroke="#222" stroke-width="0.2" text-rendering="geometricPrecision">10</text>
<path d="M491.7 25.9h0M485.9 35.8h0M486.0 35.5h0M485.7 31.0h0M481.0 37.2h0M491.3 30.3h0M487.7 31.7h0M486.9 35.2h0M483.7 35.6h0M485.0 40.7h0M484.6 41.0h0M486.1 44.2h0M487.1 34.1h0M490.8 32.2h0M489.7 27.2h0M490.3 35.6h0M487.0 32.4h0M484.5 40.6h0M488.1 32.8h0M484.1 43.0h0M489.6 30.8h0M491.1 25.8h0M489.6 27.6h0M491.0 28.3h0M490.5 28.4h0M488.3 36.2h0M485.0 36.9h0M485.1 39.2h0M485.7 34.4h0M486.8 38.2h0M484.6 37.0h0M486.4 33.0h0M485.3 35.7h0M487.8 28.0h0M487.9 29.1h0M487.3 41.1h0M484.8 36.6h0M486.6 37.7h0M486.1 29.4h0M483.1 39.5h0M488.0 36.4h0M485.9 37.6h0M484.5 41.4h0M487.1 31.7h0M487.8 38.9h0M485.1 32.4h0M484.7 33.2h0M487.2 35.0h0M486.9 34.9h0M490.4 28.9h0M484.0 30.2h0M487.9 30.7h0M486.7 35.8h0M488.5 27.1h0M484.8 37.0h0M486.9 37.9h0M486.0 28.5h0M484.8 38.1h0M484.5 45.3h0M487.9 34.7h0M486.2 42.4h0M488.7 29.6h0M485.8 36.5h0M487.7 30.1h0M491.4 33.4h0M484.9 37.9h0M485.7 34.3h0M489.9 30.9h0M487.0 34.4h0M484.3 41.5h0M485.3 40.4h0M486.1 33.7h0M491.2 29.5h0M485.6 34.0h0M488.9 37.9h0M488.9 30.4h0M484.4 35.1h0M487.0 34.9h0M485.6 40.0h0M484.8 34.4h0M488.6 33.7h0M486.3 38.1h0M483.6 43.6h0M493.0 33.1h0M487.6 39.8h0M487.4 37.9h0M486.8 35.0h0M488.7 26.3h0M486.8 40.0h0M479.7 44.4h0M489.7 31.8h0M487.8 37.6h0M488.2 26.4h0M484.8 35.8h0M487.7 31.8h0M487.0 39.5h0M479.7 46.9h0M489.7 32.7h0M487.3 33.9h0M488.2 33.3h0M485.4 38.6h0M485.2 36.2h0M486.4 31.1h0M488.9 31.5h0M484.3 37.2h0M483.7 42.8h0M488.6 38.6h0M485.8 37.8h0M484.8 34.0h0M487.1 35.3h0M489.7 29.9h0M490.2 33.3h0M485.0 35.9h0M484.9 42.2h0M485.9 38.4h0M489.7 29.9h0M486.0 36.4h0M485.3 32.0h0M484.8 37.9h0M487.8 38.9h0M482.6 41.2h0M484.3 41.2h0M489.1 31.9h0M491.1 27.8h0M485.9 32.0h0M485.6 36.2h0M489.0 35.7h0M486.6 32.2h0M486.4 33.4h0M486.1 33.9h0M485.0 36.3h0M486.0 34.8h0M483.7 38.6h0M488.8 34.0h0M485.9 31.7h0M483.9 34.0h0M485.6 34.7h0M482.7 41.6h0M483.3 36.4h0M485.4 38.7h0M492.0 26.7h0M486.6 33.3h0M486.8 33.8h0M487.0 31.5h0M488.2 30.9h0M488.8 28.3h0M492.7 27.6h0M482.7 41.6h0M486.1 31.4h0M488.4 30.6h0M489.2 29.6h0M489.6 31.3h0M488.2 33.1h0M486.4 33.7h0M488.5 34.6h0M486.3 42.3h0M490.1 30.0h0M487.9 30.4h0M491.5 25.8h0M487.1 31.6h0M492.3 31.6h0M483.9 36.4h0M488.2 31.1h0M486.4 31.3h0M487.9 29.4h0M489.4 38.8h0M486.5 40.1h0M488.3 30.3h0M486.4 31.7h0M487.6 35.6h0M489.7 29.8h0M484.2 37.3h0M491.6 29.3h0M487.1 27.2h0M486.2 36.8h0M484.9 41.1h0M485.8 32.7h0M485.8 35.2h0M489.9 28.7h0M482.7 39.1h0M488.6 37.0h0M484.4 42.0h0M489.0 33.0h0M485.3 33.3h0M484.9 39.7h0M487.9 36.5h0M492.0 28.0h0M487.2 40.0h0M484.0 36.4h0M486.4 33.7h0M487.7 30.6h0M490.3 25.6h0M485.2 30.8h0M483.7 40.0h0M488.9 31.1h0M489.5 33.0h0M485.8 35.4h0M488.2 39.0h0M486.2 36.3h0M488.7 35.9h0M488.4 35.8h0M484.6 36.2h0M482.4 39.7h0M493.3 27.1h0M487.5 34.3h0M487.7 29.0h0M485.5 35.3h0M487.7 30.4h0M487.0 31.7h0M483.9 35.8h0M485.2 39.0h0M490.7 31.3h0M486.8 32.6h0M483.3 37.0h0M491.3 32.5h0M487.9 32.2h0M487.3 35.1h0M487.3 35.1h0M485.3 36.3h0M486.4 38.3h0M484.1 41.8h0M487.1 32.4h0M487.4 34.0h0M486.7 35.8h0M485.8 30.1h0M489.1 31.4h0M491.6 29.7h0M482.2 44.0h0M485.5 37.7h0M493.0 30.2h0M484.5 36.9h0M483.2 40.9h0M488.7 28.7h0M488.5 35.3h0M489.4 29.0h0M485.5 32.3h0M484.0 38.8h0M487.4 37.8h0M488.0 31.8h0M483.7 43.2h0M487.7 33.1h0M484.7 33.6h0M488.9 28.6h0M488.8 33.9h0M486.3 29.7h0M488.4 36.9h0M485.2 32.3h0M490.1 30.7h0M485.7 39.6h0M486.6 36.0h0M486.3 32.6h0M487.9 30.3h0M482.8 37.6h0M490.5 33.3h0M492.9 30.0h0M491.4 29.4h0M486.2 36.6h0M484.9 39.1h0M486.2 36.0h0M485.1 36.0h0M489.8 29.9h0M485.6 36.8h0M489.5 30.4h0M484.3 32.5h0M483.9 41.4h0M487.1 35.5h0M490.0 31.2h0M488.5 30.6h0M483.2 40.8h0M487.1 35.9h0M484.6 36.6h0M487.6 37.6h0M486.7 34.9h0M481.9 42.9h0M486.2 39.2h0M487.1 32.8h0M488.4 31.6h0M486.0 40.3h0M489.8 31.0h0M489.4 33.8h0M488.8 32.1h0M487.5 34.8h0M488.7 33.1h0M485.9 35.2h0M488.5 29.2h0M487.3 36.2h0M487.7 32.3h0M487.2 32.3h0M489.8 29.5h0M483.1 35.2h0M488.1 33.5h0M486.1 31.1h0M486.9 31.6h0M485.6 35.8h0M485.3 37.1h0M485.4 34.6h0M486.7 39.1h0M491.3 31.8h0M485.4 36.1h0M489.6 33.4h0M483.2 38.7h0M485.4 38.4h0M488.9 30.0h0M492.8 26.1h0M493.5 25.5h0M487.1 40.0h0M486.0 33.9h0M491.1 29.0h0M488.5 28.3h0M491.9 31.2h0M488.2 34.8h0M486.0 33.8h0M483.3 39.9h0M490.4 32.5h0M489.6 33.1h0M485.0 32.6h0M488.9 32.3h0M489.8 29.8h0M485.1 37.9h0M485.9 30.4h0M485.8 32.9h0M484.5 35.5h0M489.7 38.1h0M491.7 27.0h0M490.2 29.9h0" stroke="#8a8a8a" stroke-width="0.6" stroke-linecap="round"/>
<path d="M494.8 42.2h0M492.4 38.4h0M501.6 41.8h0M495.7 42.5h0M494.1 40.3h0M491.0 48.2h0M495.7 37.4h0M497.0 39.8h0M494.2 46.7h0M489.7 43.6h0M491.6 46.3h0M497.3 50.0h0M494.4 52.4h0M488.2 51.5h0M491.5 47.7h0M492.2 45.1h0M488.3 46.2h0M502.7 45.3h0M492.7 44.8h0M496.3 44.0h0M492.8 45.6h0M499.2 48.4h0M487.6 42.4h0M492.9 48.0h0M497.5 44.0h0M503.2 44.1h0M499.7 50.2h0M500.6 45.5h0M495.6 39.0h0M484.1 42.4h0M496.3 48.8h0M492.3 48.7h0M495.6 50.6h0M485.0 41.6h0M488.1 40.8h0M500.9 41.3h0M488.7 43.3h0M497.1 43.0h0M496.4 46.9h0M489.7 35.8h0M488.3 40.0h0M500.8 42.0h0M487.6 46.2h0M493.1 41.2h0M498.2 48.2h0M494.2 41.9h0M488.5 37.0h0M494.7 46.3h0M488.3 44.9h0M508.9 40.5h0M484.4 47.1h0M490.7 42.9h0M495.8 44.3h0M497.7 46.7h0M498.5 45.2h0M482.2 49.9h0M484.5 48.7h0M494.0 39.5h0M493.1 48.1h0M487.8 44.9h0" stroke="#aaa" stroke-width="0.5" stroke-linecap="round"/>
<path d="M485.7 48.0h0M482.0 49.2h0M489.7 44.3h0M482.1 41.9h0M479.3 42.5h0M483.1 52.0h0M486.3 53.6h0M487.9 49.0h0M484.9 41.9h0M482.7 45.0h0M485.4 42.6h0M484.5 46.4h0M483.9 46.7h0M479.4 50.7h0M487.5 49.1h0M479.6 49.1h0M488.3 53.9h0M487.0 42.3h0M488.4 49.9h0M481.4 53.0h0M487.8 52.7h0M481.1 48.8h0M482.6 45.4h0M487.0 49.3h0M482.1 48.4h0M489.0 48.7h0M488.8 48.7h0M489.7 42.1h0M483.5 48.5h0M486.6 53.6h0M485.4 47.6h0M485.6 48.3h0M486.4 53.4h0M478.4 45.7h0M488.4 42.5h0M487.4 42.2h0M485.7 51.6h0M481.0 46.4h0M480.8 50.4h0M484.3 49.2h0M482.0 49.0h0M489.3 51.3h0M489.2 44.8h0M484.2 46.5h0M482.2 51.6h0M480.2 48.6h0M487.2 53.2h0M478.4 45.1h0M483.9 53.2h0M480.1 52.1h0M482.8 48.5h0M488.9 42.6h0M482.0 43.7h0M479.8 45.5h0M486.3 48.9h0M479.6 51.6h0M484.1 43.5h0M487.7 51.8h0M480.7 53.3h0M487.6 44.6h0M478.2 52.4h0M487.8 43.0h0M487.1 51.2h0M485.5 52.0h0M489.6 45.8h0M487.9 53.1h0M481.8 50.1h0M486.1 52.2h0M484.8 45.2h0M481.1 48.4h0M479.8 52.3h0M488.5 44.7h0M486.3 50.0h0M479.6 51.3h0M487.1 45.5h0M479.4 45.2h0M487.1 47.5h0M487.6 43.7h0M479.5 46.1h0M488.4 43.8h0M479.1 51.0h0M479.3 50.0h0M479.2 44.8h0M485.9 52.5h0M483.0 47.3h0M478.6 45.9h0M481.0 51.4h0M486.5 51.4h0M484.4 50.3h0M479.7 46.5h0M481.6 45.2h0M486.8 44.4h0M482.0 45.2h0M488.2 49.6h0M483.8 46.4h0M488.9 53.3h0M483.4 48.7h0M488.2 44.9h0M481.2 43.0h0M484.0 51.2h0M480.0 47.1h0M489.7 47.7h0M482.6 52.1h0M488.5 46.4h0M479.6 49.6h0M486.8 53.1h0M485.9 45.5h0M484.2 45.3h0M483.4 47.5h0M488.8 52.9h0M488.9 47.6h0M489.4 43.5h0M488.9 49.6h0M488.3 46.8h0M489.7 42.1h0M488.0 51.8h0M482.5 51.9h0M480.7 51.0h0M483.6 46.8h0M480.5 51.6h0M486.7 42.9h0M489.5 44.5h0M482.6 46.9h0M484.9 52.7h0M489.1 49.5h0M482.4 43.1h0M479.0 48.1h0M485.0 47.3h0M489.6 46.8h0M482.3 46.9h0M480.2 53.3h0M485.1 48.4h0M483.1 44.8h0M481.9 47.8h0M483.4 53.8h0M484.7 44.3h0M478.8 43.7h0M482.2 51.4h0M488.5 44.7h0M487.2 47.2h0M484.4 48.3h0M478.7 42.6h0M485.9 50.2h0M482.6 53.0h0M487.7 45.5h0M479.0 48.6h0M485.8 44.5h0M478.7 47.7h0M478.6 50.8h0M485.5 45.2h0M483.4 44.6h0M480.4 44.0h0M487.6 47.3h0M486.5 46.0h0M487.5 49.1h0M485.8 46.6h0M484.7 44.1h0M489.5 50.0h0M484.4 49.6h0M479.4 45.9h0M480.9 52.1h0M478.4 47.2h0M488.3 51.4h0M486.5 45.5h0M480.9 50.4h0M481.7 50.6h0M482.3 51.1h0M484.8 51.8h0M489.6 46.4h0M489.6 41.9h0M488.4 42.1h0M484.5 46.5h0M487.1 45.6h0M480.6 51.4h0M484.6 51.0h0M483.9 42.2h0M487.1 44.4h0M483.7 41.8h0M481.2 49.9h0M487.1 49.6h0M483.3 50.7h0M486.0 44.3h0M484.4 49.1h0M486.6 44.2h0M481.8 46.0h0M479.3 46.0h0M486.7 48.8h0M480.2 50.7h0M479.6 51.0h0M479.9 43.0h0M481.1 48.1h0M481.3 52.6h0M489.1 45.2h0M486.9 50.3h0M484.7 44.9h0M489.2 53.5h0M478.4 45.8h0M481.9 44.2h0M483.2 52.8h0M478.5 52.0h0M481.8 41.9h0M488.6 45.1h0M480.7 43.2h0M482.5 43.2h0M480.3 44.8h0M484.9 47.2h0M481.7 48.2h0M487.2 50.6h0M482.2 53.0h0M487.4 48.7h0M483.7 45.8h0M479.8 52.6h0M485.3 43.0h0M488.9 52.6h0M478.6 50.4h0M481.0 48.3h0M487.9 46.1h0M484.0 49.9h0M480.4 49.4h0M483.1 53.8h0M480.4 50.5h0M478.7 45.1h0M479.6 43.6h0M484.3 43.9h0M487.4 43.0h0M485.4 52.3h0M479.7 44.4h0M487.1 47.5h0M489.0 45.9h0M482.8 53.5h0M482.2 53.6h0M488.5 44.2h0M484.5 53.3h0M479.6 52.2h0M487.2 51.0h0M485.2 43.0h0M489.3 43.0h0M487.3 50.6h0M481.9 50.2h0M483.0 51.0h0M478.7 53.2h0M482.7 51.6h0M483.7 51.7h0M481.7 48.5h0M478.5 47.8h0M479.1 52.3h0M486.0 47.0h0M489.5 53.4h0M489.3 42.8h0M486.4 50.7h0M485.2 42.0h0M488.9 47.1h0M485.1 51.8h0M481.4 42.1h0M488.9 45.1h0M478.7 43.5h0M489.7 50.8h0M480.6 43.6h0M488.6 49.9h0M485.0 43.4h0M483.0 53.4h0M478.3 46.9h0M478.9 54.0h0M479.4 53.5h0M487.9 50.7h0M478.7 50.3h0M483.9 47.8h0M479.9 48.0h0M487.5 43.4h0M488.3 46.9h0M481.3 44.7h0M483.5 49.7h0M484.8 52.7h0M484.1 48.1h0M489.7 44.4h0M478.4 45.8h0M481.8 43.3h0M483.1 42.2h0M488.9 47.7h0M488.4 50.3h0M486.7 51.1h0M481.7 50.7h0M480.6 48.6h0M485.1 51.3h0M480.2 46.0h0M487.7 51.6h0M489.5 43.2h0M480.6 43.1h0M486.6 50.9h0M485.7 51.3h0M484.2 48.7h0M488.9 49.7h0M485.8 49.0h0M483.9 51.0h0M484.8 43.4h0M483.1 46.9h0M483.2 48.6h0M482.4 46.6h0M483.2 46.3h0M489.5 42.9h0M478.4 50.6h0M482.8 47.3h0M485.1 46.3h0M481.0 42.0h0M488.3 53.3h0M481.5 47.5h0M482.0 42.5h0M488.5 52.0h0M481.0 44.9h0M486.3 51.5h0M483.6 46.5h0M480.9 51.6h0M488.2 52.3h0M479.5 49.0h0M489.6 50.5h0M483.5 43.6h0M478.9 50.7h0M479.0 51.7h0M485.9 47.6h0M488.5 53.2h0M485.3 43.0h0M485.0 46.9h0M481.1 53.1h0M486.7 43.3h0M480.9 46.0h0M484.8 45.8h0M483.3 51.7h0M480.3 50.6h0M482.0 53.3h0M489.2 45.8h0M485.2 43.1h0M483.0 49.4h0M485.6 46.0h0M478.6 43.3h0M484.7 43.9h0M481.8 49.3h0M488.6 48.1h0M481.2 49.0h0M481.4 51.4h0M480.0 45.0h0M483.3 52.9h0M480.1 44.1h0M479.7 44.4h0M482.1 46.6h0M487.0 46.7h0M483.7 46.6h0M487.2 52.8h0M483.1 53.1h0M481.1 53.7h0M484.3 50.1h0M482.6 45.1h0M479.8 52.6h0M482.4 50.3h0M483.5 48.2h0M480.6 43.9h0M482.1 50.1h0M484.5 41.8h0M486.4 47.1h0M479.0 45.0h0M480.7 51.9h0M484.6 45.8h0M481.1 45.3h0M481.5 46.0h0M487.4 51.4h0M486.3 52.6h0M485.8 43.2h0M478.7 43.8h0M481.2 48.2h0M487.7 48.9h0M483.2 44.7h0M489.6 51.0h0M482.2 42.3h0M489.6 44.9h0M488.0 43.2h0M485.8 46.1h0M488.5 45.4h0M479.4 44.2h0M487.5 53.8h0M485.7 50.1h0M481.5 45.1h0M479.2 53.8h0M478.7 49.3h0M482.3 44.1h0M483.3 53.2h0M481.1 43.8h0M485.5 49.8h0M484.1 44.0h0M488.3 43.1h0M480.2 44.7h0M484.2 47.6h0M484.6 50.7h0M488.6 47.5h0M478.7 51.9h0M478.4 45.7h0M479.9 49.2h0M487.3 43.4h0M481.6 52.2h0M486.2 43.1h0M486.2 51.5h0M482.9 43.7h0M485.8 45.7h0M479.8 43.8h0M482.9 43.3h0M482.7 48.5h0M484.6 46.7h0M487.5 42.9h0M482.0 53.2h0M488.2 53.1h0M487.1 48.3h0M487.3 48.8h0M479.6 44.9h0M479.3 52.5h0M481.9 46.8h0M484.4 43.0h0M486.4 51.5h0M487.4 52.6h0M481.9 43.6h0M487.0 50.3h0M482.5 46.0h0M480.0 52.0h0M483.5 51.7h0M482.1 45.7h0M484.2 50.9h0M488.4 46.1h0M486.2 46.7h0M488.2 51.1h0M484.6 46.2h0M481.4 52.6h0M487.5 45.5h0M479.2 44.2h0M489.4 42.3h0M487.6 48.3h0M484.6 48.4h0M483.0 48.6h0M479.3 53.0h0M479.4 43.5h0M486.0 49.6h0M487.5 50.3h0M489.0 42.4h0M478.3 44.7h0M487.2 43.6h0M484.4 51.2h0M480.0 48.2h0M488.6 50.9h0M482.8 47.6h0M481.4 53.5h0M487.3 50.1h0M481.7 50.7h0M483.8 51.6h0M482.4 52.6h0" stroke="#707070" stroke-width="0.8" stroke-linecap="round"/>
<path d="M481.2 48.2h0M478.1 49.0h0M487.6 50.9h0M481.7 47.9h0M483.1 49.6h0M480.2 54.1h0M483.4 48.5h0M485.9 50.6h0M483.5 51.1h0M485.2 52.2h0M481.5 52.4h0M481.3 51.0h0M486.3 48.1h0M479.8 49.7h0M481.1 53.9h0M486.2 49.6h0M482.8 49.8h0M483.9 52.3h0M484.1 52.6h0M487.0 50.3h0M484.0 50.2h0M482.4 51.2h0M482.2 51.5h0M480.2 50.3h0M480.8 47.9h0M480.6 49.5h0M481.9 46.9h0M481.7 47.9h0M480.3 51.2h0M485.0 51.4h0M481.1 49.6h0M485.6 46.7h0M485.1 47.0h0M480.7 50.8h0M483.5 50.6h0M484.6 50.8h0M480.3 53.4h0M486.0 53.8h0M481.3 52.6h0M478.3 48.2h0M485.2 51.9h0M481.5 43.6h0M483.4 50.2h0M482.3 51.3h0M484.1 50.1h0M480.1 49.8h0M487.1 49.0h0M484.9 51.0h0M484.1 50.0h0M480.1 53.1h0M481.7 49.8h0M483.1 50.2h0M481.5 48.5h0M482.9 51.5h0M486.8 50.6h0M487.9 49.6h0M480.3 50.3h0M481.8 47.0h0M483.7 48.6h0M485.4 51.2h0M481.0 50.1h0M484.7 49.4h0M483.3 53.1h0M480.1 49.3h0M483.4 50.7h0M482.0 49.4h0M485.6 46.8h0M482.4 50.9h0M482.4 47.3h0M482.0 51.1h0M480.6 51.5h0M482.5 51.7h0M481.9 49.6h0M482.8 53.4h0M484.5 50.5h0M481.2 53.3h0M483.6 52.9h0M481.6 48.6h0M482.8 49.2h0M485.1 52.8h0M485.6 53.2h0M481.1 48.6h0M484.7 53.2h0M482.4 47.9h0M478.6 51.4h0M480.3 49.0h0M483.4 53.3h0M485.5 50.6h0M481.5 52.3h0M479.5 47.7h0M484.8 50.7h0M484.8 49.7h0M479.4 46.6h0M483.0 52.9h0M483.2 50.6h0M481.3 53.4h0M482.2 47.2h0M485.7 49.1h0M483.3 50.7h0M484.9 51.3h0M485.3 51.2h0M481.2 49.5h0M483.9 48.7h0M484.6 50.1h0M480.0 48.6h0M484.2 50.7h0M481.6 50.7h0M481.3 54.0h0M482.7 49.6h0M482.8 48.3h0M479.7 50.3h0M487.2 48.0h0M482.0 46.8h0M482.7 51.2h0M484.1 47.4h0M480.8 49.1h0M481.8 50.6h0M481.1 52.7h0M488.6 53.5h0M486.1 48.1h0M484.9 50.8h0M485.4 53.3h0M483.9 46.6h0M482.6 49.5h0M483.4 50.8h0M484.9 46.8h0M480.5 50.5h0M483.1 49.7h0M482.2 50.8h0M484.9 50.4h0M482.9 46.2h0M483.2 45.0h0M483.3 50.5h0M482.3 48.9h0M481.3 52.7h0M483.2 50.6h0M481.1 51.2h0M485.2 50.7h0M481.4 47.8h0M482.5 48.4h0M478.8 52.8h0M480.8 45.7h0M482.0 47.4h0M479.6 52.5h0M483.3 51.2h0M481.8 51.9h0M486.1 51.9h0M481.9 47.3h0M483.9 47.6h0M482.8 53.9h0M480.7 51.9h0M478.4 46.4h0M483.2 52.4h0M481.4 50.6h0M481.3 53.6h0M479.2 49.0h0M478.5 48.5h0M482.2 50.8h0M486.7 50.2h0M483.2 51.6h0M482.9 54.3h0M482.6 51.1h0M482.0 50.7h0M482.2 53.1h0M482.3 50.9h0M482.2 52.6h0M481.1 53.0h0M480.9 52.4h0M487.0 51.3h0M482.1 47.8h0M484.1 50.7h0M484.5 49.1h0M483.3 49.9h0M479.1 50.7h0M483.9 52.2h0M479.5 48.2h0M479.9 48.2h0M481.6 51.4h0M487.0 51.2h0M485.9 46.6h0M486.1 52.7h0M483.4 52.7h0M484.3 46.4h0M482.1 54.0h0M481.5 49.1h0M481.5 51.5h0M482.8 49.2h0M483.6 52.2h0M480.0 48.0h0M482.3 49.0h0M480.8 50.4h0M482.4 52.1h0M484.4 51.8h0M485.1 48.3h0M483.8 51.6h0M479.7 49.0h0M483.4 50.9h0M479.2 49.3h0M486.1 52.8h0M482.5 54.0h0M480.1 50.3h0M484.7 49.9h0M479.5 52.1h0M486.3 44.4h0M482.7 47.6h0M481.6 47.2h0M488.7 49.0h0M482.4 49.0h0M479.9 49.6h0M479.7 50.9h0M481.2 46.8h0M491.5 50.1h0M482.9 48.8h0M480.9 48.1h0M484.8 49.7h0M481.9 51.1h0M479.3 51.3h0M481.9 51.8h0M481.3 50.8h0M483.6 53.1h0M480.6 53.1h0M479.9 50.2h0M482.6 51.1h0M481.8 53.0h0M483.6 50.7h0M483.0 53.0h0M480.3 52.2h0M484.9 50.1h0M480.2 48.1h0M483.4 48.7h0M488.4 52.1h0M479.1 50.0h0M486.1 52.4h0M479.8 53.3h0M480.9 52.2h0M483.7 49.6h0M481.9 53.6h0M483.5 50.6h0M484.6 51.9h0M483.1 46.8h0M482.6 49.5h0M484.1 49.2h0M483.4 48.1h0M484.5 48.9h0M482.2 52.1h0M481.5 50.7h0M484.0 53.0h0M481.1 50.9h0M481.8 47.8h0M478.5 47.5h0M485.5 49.7h0M487.1 52.3h0M483.2 52.3h0M484.3 53.0h0M479.9 49.3h0M480.9 51.0h0M481.7 47.7h0" stroke="#4a4a4a" stroke-width="0.7" stroke-linecap="round"/>
<rect x="477.80" y="17.10" width="38.90" height="37.60" fill="none" stroke="#333" stroke-width="0.6"/>
<line x1="490.80" y1="17.10" x2="490.80" y2="54.70" stroke="#555" stroke-width="0.5"/>
<line x1="477.80" y1="38.20" x2="516.70" y2="38.20" stroke="#555" stroke-width="0.5"/>
<text x="499.70" y="16.20" font-size="3.2" text-anchor="middle" font-weight="normal" fill="#222" textLength="12.6" lengthAdjust="spacingAndGlyphs" stroke="#222" stroke-width="0.19" text-rendering="geometricPrecision">SALL 4A</text>
<text x="485.60" y="22.70" font-size="2.9" text-anchor="middle" font-weight="normal" fill="#222" textLength="8.6" lengthAdjust="spacingAndGlyphs" stroke="#222" stroke-width="0.17" text-rendering="geometricPrecision">0.25%</text>
<text x="509.30" y="52.60" font-size="2.9" text-anchor="middle" font-weight="normal" fill="#222" textLength="8.6" lengthAdjust="spacingAndGlyphs" stroke="#222" stroke-width="0.17" text-rendering="geometricPrecision">1.11%</text>
<text transform="translate(474.40 17.60) rotate(50)" font-size="2.6" text-anchor="middle" dy="0.91" fill="#222" stroke="#222" stroke-width="0.2" text-rendering="geometricPrecision">10</text>
<text transform="translate(478.20 56.90) rotate(-50)" font-size="2.6" text-anchor="middle" dy="0.91" fill="#222" stroke="#222" stroke-width="0.2" text-rendering="geometricPrecision">10</text>
<text transform="translate(474.40 26.85) rotate(50)" font-size="2.6" text-anchor="middle" dy="0.91" fill="#222" stroke="#222" stroke-width="0.2" text-rendering="geometricPrecision">10</text>
<text transform="translate(487.77 56.90) rotate(-50)" font-size="2.6" text-anchor="middle" dy="0.91" fill="#222" stroke="#222" stroke-width="0.2" text-rendering="geometricPrecision">10</text>
<text transform="translate(474.40 36.10) rotate(50)" font-size="2.6" text-anchor="middle" dy="0.91" fill="#222" stroke="#222" stroke-width="0.2" text-rendering="geometricPrecision">10</text>
<text transform="translate(497.35 56.90) rotate(-50)" font-size="2.6" text-anchor="middle" dy="0.91" fill="#222" stroke="#222" stroke-width="0.2" text-rendering="geometricPrecision">10</text>
<text transform="translate(474.40 45.35) rotate(50)" font-size="2.6" text-anchor="middle" dy="0.91" fill="#222" stroke="#222" stroke-width="0.2" text-rendering="geometricPrecision">10</text>
<text transform="translate(506.93 56.90) rotate(-50)" font-size="2.6" text-anchor="middle" dy="0.91" fill="#222" stroke="#222" stroke-width="0.2" text-rendering="geometricPrecision">10</text>
<text transform="translate(474.40 54.60) rotate(50)" font-size="2.6" text-anchor="middle" dy="0.91" fill="#222" stroke="#222" stroke-width="0.2" text-rendering="geometricPrecision">10</text>
<text transform="translate(516.50 56.90) rotate(-50)" font-size="2.6" text-anchor="middle" dy="0.91" fill="#222" stroke="#222" stroke-width="0.2" text-rendering="geometricPrecision">10</text>
<text transform="translate(419.30 38.00) rotate(-90)" font-size="4.0" text-anchor="middle" font-weight="normal" fill="#222" textLength="9.6" lengthAdjust="spacingAndGlyphs" stroke="#222" stroke-width="0.10" text-rendering="geometricPrecision">CD33</text>
<text x="472.60" y="66.60" font-size="4.0" text-anchor="middle" font-weight="normal" fill="#222" textLength="10.2" lengthAdjust="spacingAndGlyphs" stroke="#222" stroke-width="0.10" text-rendering="geometricPrecision">CD19</text>
<line x1="9.60" y1="175.00" x2="9.60" y2="230.40" stroke="#222" stroke-width="0.55"/>
<polygon points="9.60,173.20 8.10,176.40 11.10,176.40" fill="#000" stroke="none" stroke-width="0.6"/>
<line x1="9.60" y1="230.40" x2="140.90" y2="230.40" stroke="#222" stroke-width="0.55"/>
<polygon points="142.70,230.40 139.50,228.90 139.50,231.90" fill="#000" stroke="none" stroke-width="0.6"/>
<path d="M41.8 217.7h0M62.2 219.1h0M63.7 205.8h0M44.4 211.7h0M40.1 216.3h0M61.1 206.8h0M48.2 219.8h0M60.6 211.7h0M35.2 211.8h0M48.6 217.0h0M37.9 209.1h0M63.7 204.9h0M51.6 206.2h0M56.1 211.3h0M61.7 208.2h0M60.2 208.2h0M33.4 206.0h0M34.3 210.8h0M63.2 210.2h0M55.0 205.2h0M48.5 213.1h0M35.0 213.7h0M46.3 209.8h0M58.7 215.5h0M35.7 206.3h0M33.5 208.8h0M52.4 219.8h0M63.1 218.2h0M35.9 217.1h0M56.5 212.1h0M64.0 214.0h0M35.7 208.1h0M36.0 214.2h0M52.0 218.1h0M63.3 208.8h0M40.4 218.2h0M35.4 217.1h0M60.8 213.5h0M51.5 204.8h0M51.4 214.3h0M56.8 212.8h0M35.5 208.2h0M52.9 205.9h0M35.3 208.6h0M57.6 213.2h0M43.4 219.8h0M50.6 208.4h0M50.1 218.1h0M43.8 211.5h0M52.5 207.5h0M50.7 209.7h0M47.1 215.8h0M42.0 214.0h0M58.4 212.0h0M52.2 209.2h0M40.1 212.7h0M49.1 208.2h0M56.6 212.5h0M43.3 208.6h0M58.9 218.8h0M62.2 208.6h0M34.1 214.6h0M53.8 209.9h0M46.1 215.4h0M37.0 210.4h0M57.3 215.3h0M50.8 206.3h0M38.9 208.7h0M50.4 219.1h0M49.8 219.0h0M47.0 212.8h0M40.9 211.9h0M62.1 212.3h0M38.2 214.4h0M48.3 212.1h0M61.8 216.6h0M34.7 205.2h0M54.5 214.0h0M52.9 212.5h0M58.8 214.1h0M61.1 213.2h0M37.2 215.7h0M61.7 218.2h0M52.7 217.3h0M34.7 211.9h0M58.0 210.0h0M36.5 218.2h0M54.6 204.8h0M33.9 213.4h0M62.7 214.3h0M60.1 206.3h0M50.5 207.5h0M42.6 207.0h0M46.8 205.4h0M53.1 214.8h0M61.1 216.7h0M34.3 218.3h0M49.4 219.3h0M47.7 206.0h0M54.6 207.4h0M63.6 213.1h0M61.0 212.4h0M42.4 215.0h0M54.8 211.9h0M40.8 211.3h0M54.9 208.3h0M36.9 212.2h0M53.1 205.7h0M40.6 219.9h0M40.5 216.8h0M41.7 206.0h0M47.6 218.3h0M57.0 205.4h0M54.6 214.4h0M47.4 215.1h0M48.7 207.5h0M54.3 206.7h0M41.9 218.0h0M50.2 212.7h0M54.8 212.4h0M44.3 213.3h0M61.2 214.9h0M37.0 218.1h0M41.0 217.3h0M52.9 214.1h0M55.8 208.9h0M58.8 213.2h0M56.3 217.8h0M40.1 211.1h0M43.5 205.9h0M60.1 215.4h0M47.7 213.2h0M60.3 205.8h0M43.4 215.4h0M49.1 212.5h0M40.2 208.2h0M53.5 210.0h0M62.1 218.8h0M63.2 209.0h0M48.5 206.3h0M43.5 205.8h0M48.1 219.6h0M56.5 210.4h0M40.8 219.2h0M33.6 217.9h0M59.5 205.8h0M62.6 214.8h0M44.4 211.3h0M51.5 212.9h0M59.9 218.7h0M42.4 204.8h0M57.0 214.8h0M53.0 205.8h0M34.3 218.7h0M43.6 212.1h0M63.3 207.7h0M52.4 205.6h0M50.0 216.2h0M36.9 216.6h0M63.1 217.6h0M57.4 219.5h0M55.0 213.2h0M58.5 217.3h0M52.2 215.1h0M37.6 210.0h0M42.4 218.1h0M57.1 209.2h0M64.0 205.6h0M33.8 209.8h0M34.3 219.5h0M43.4 210.8h0M59.5 213.0h0M52.2 211.6h0M46.7 219.6h0M40.8 212.9h0M47.3 206.9h0M36.6 212.6h0M57.6 211.4h0M33.8 219.3h0M36.3 218.5h0M33.3 214.8h0M36.6 208.8h0M45.5 216.5h0M45.9 211.2h0M44.8 212.8h0M40.9 219.6h0M38.0 206.8h0M49.6 210.2h0M55.2 205.3h0M53.7 210.4h0M61.8 209.4h0M45.8 209.6h0M49.1 209.1h0M53.5 211.1h0M54.7 209.2h0M46.6 213.4h0M55.1 214.9h0M45.7 206.0h0M35.5 207.0h0M37.8 207.5h0M53.2 210.0h0M61.2 208.3h0M39.8 207.5h0M36.5 215.3h0M50.5 208.6h0M58.0 215.2h0M45.7 214.2h0M53.1 211.6h0M34.8 210.4h0M62.4 210.5h0M52.5 206.1h0M56.9 218.2h0M43.9 210.5h0M48.4 208.6h0M38.6 206.7h0M54.0 212.6h0M62.7 219.7h0M60.1 219.5h0M58.9 205.1h0M36.0 219.9h0M60.1 214.3h0M51.9 211.5h0M45.6 207.0h0M49.6 209.0h0M35.8 218.3h0M50.4 218.4h0M41.3 213.7h0M40.8 217.7h0M38.6 214.8h0M49.8 209.8h0M34.4 212.3h0M48.7 217.5h0M38.4 207.6h0M41.7 217.2h0M39.3 214.6h0M54.7 212.5h0M35.5 212.1h0M62.2 210.8h0M49.8 211.3h0M48.2 205.4h0M60.4 213.7h0M43.1 209.1h0M37.9 219.3h0M59.0 210.6h0M51.3 213.3h0M38.3 205.2h0M55.6 207.2h0M50.1 204.9h0M53.0 214.3h0M63.9 215.0h0M48.7 204.9h0M62.8 212.3h0M59.6 205.3h0M58.8 212.1h0M38.9 211.0h0M34.3 213.8h0M38.9 215.7h0M37.5 215.5h0M51.8 215.8h0M62.6 209.3h0M53.9 210.9h0M60.7 217.6h0M56.5 214.1h0M40.3 218.9h0M63.1 219.5h0M42.8 217.5h0M53.8 217.8h0M57.8 211.8h0M44.6 217.1h0M53.0 213.1h0M60.1 205.2h0M35.0 217.9h0M34.7 218.5h0M39.1 206.8h0M56.2 215.3h0M45.1 214.0h0M49.7 219.5h0M48.2 213.1h0M46.8 211.1h0M54.1 206.4h0M54.2 219.2h0M56.4 213.2h0M43.3 206.2h0M34.8 213.1h0M60.3 218.2h0M37.8 216.4h0M57.9 212.2h0M59.6 207.6h0M42.7 212.7h0M55.3 211.7h0M41.6 218.2h0M44.5 211.2h0M39.1 212.2h0M54.7 210.3h0M53.2 212.4h0M41.2 213.2h0M62.8 207.9h0M33.9 207.9h0M36.8 218.0h0M48.6 205.3h0M40.6 212.7h0M37.5 209.5h0M61.1 211.6h0M39.4 214.0h0M35.5 212.8h0M52.8 206.1h0M49.6 209.5h0M55.9 214.3h0M61.2 214.2h0M37.8 207.6h0M54.6 217.4h0M33.9 211.2h0M41.0 212.0h0M60.0 213.4h0M55.9 216.6h0M40.8 214.4h0M44.0 212.1h0M49.0 215.1h0M37.3 217.8h0M37.1 209.6h0M43.7 219.6h0M38.3 205.2h0M56.5 207.2h0M56.1 204.8h0M35.9 210.3h0M34.6 212.0h0M43.0 216.2h0M47.8 219.8h0M59.1 207.4h0M61.5 218.7h0M50.1 212.9h0M37.3 209.7h0M39.0 207.7h0M51.7 209.8h0M56.6 213.6h0M58.6 206.0h0M59.2 212.6h0M52.3 208.4h0M54.3 211.0h0M55.2 213.8h0M36.4 209.4h0M56.1 204.9h0M52.3 213.2h0M54.9 209.8h0M47.3 212.1h0M56.0 205.8h0M48.3 208.7h0M50.9 208.7h0M38.5 208.3h0M60.8 210.4h0M60.3 216.2h0M40.5 213.3h0M52.2 206.4h0M48.6 212.4h0M53.5 209.2h0M61.2 214.4h0M34.2 217.5h0M60.4 209.4h0M54.8 218.1h0M60.3 205.8h0M58.9 208.6h0M57.8 215.4h0M46.9 218.8h0M62.8 213.6h0M55.6 215.2h0M44.8 212.5h0M48.3 208.1h0M40.3 217.9h0M59.2 215.6h0M54.1 212.7h0M50.4 215.1h0M63.2 207.9h0M46.9 205.9h0M40.1 217.6h0M57.6 218.3h0M40.2 219.2h0M43.9 211.7h0M62.6 213.2h0M53.8 206.4h0M35.3 217.6h0M39.9 219.7h0M53.8 207.7h0M54.8 209.7h0M48.9 205.9h0M58.7 217.0h0M50.6 215.5h0M42.8 206.7h0M42.4 216.3h0M50.0 206.8h0M39.6 212.1h0M46.4 206.8h0M60.6 206.7h0M56.1 217.1h0M42.0 213.2h0M63.9 214.3h0M44.4 219.9h0M40.2 219.6h0M41.9 211.3h0M42.0 214.9h0M60.4 215.5h0M55.2 212.6h0M59.3 206.4h0M51.2 217.0h0M56.9 215.2h0M33.9 212.2h0M40.5 214.2h0M44.7 211.8h0M49.2 213.9h0M60.6 209.1h0M40.7 207.6h0M35.5 218.0h0M61.6 206.6h0M43.5 218.8h0M59.8 220.0h0M63.9 209.4h0M34.0 208.6h0M48.1 204.9h0M40.0 212.1h0M53.9 207.1h0M35.8 209.8h0M34.8 206.6h0M35.2 217.2h0M60.2 205.3h0M57.8 217.9h0M52.9 209.4h0M58.3 206.0h0M33.4 219.6h0" stroke="#999" stroke-width="0.5" stroke-linecap="round"/>
<path d="M54.8 200.9h0M52.1 195.0h0M60.4 192.5h0M58.3 195.1h0M49.6 195.7h0M47.2 199.8h0M58.8 187.8h0M48.5 194.5h0M65.5 188.6h0M53.5 191.1h0M45.1 199.0h0M52.3 191.9h0M50.5 200.8h0M52.2 196.2h0M51.1 194.5h0M42.7 202.5h0M45.2 199.3h0M58.2 188.9h0M54.2 189.7h0M56.0 194.8h0M49.5 200.6h0M46.2 200.4h0M63.4 187.6h0M55.7 192.5h0M54.0 191.9h0M59.8 194.8h0M46.4 201.6h0M64.3 182.7h0M52.4 193.7h0M51.4 196.7h0M53.9 197.3h0M55.5 196.7h0M58.9 194.4h0M47.5 200.5h0M49.6 195.2h0M65.2 187.3h0M52.4 189.2h0M50.5 199.5h0M50.7 195.3h0M62.0 187.8h0M49.8 197.3h0M50.5 200.4h0M55.9 193.0h0M49.6 197.0h0M63.4 186.7h0M56.5 187.9h0M54.2 196.5h0M60.6 190.7h0M55.9 194.1h0M59.2 197.0h0M53.4 192.5h0M56.1 192.7h0M56.4 195.2h0M53.1 193.9h0M54.1 190.6h0M53.9 191.9h0M55.1 194.1h0M50.6 193.3h0M52.4 193.6h0M51.1 198.8h0M58.5 187.3h0M58.3 195.6h0M59.6 191.3h0M51.5 201.8h0" stroke="#aaa" stroke-width="0.5" stroke-linecap="round"/>
<path d="M27.0 207.0h0M29.0 214.1h0M23.4 208.3h0M38.4 213.4h0M32.4 210.7h0M21.0 212.3h0M35.2 210.4h0M27.2 213.1h0M23.4 211.8h0M25.8 216.4h0M29.3 216.4h0M28.3 204.7h0M32.9 216.4h0M28.2 206.0h0M26.1 214.6h0M35.4 211.7h0M25.8 210.0h0M33.6 216.4h0M24.0 207.3h0M20.6 210.2h0M22.4 210.4h0M29.3 214.6h0M26.2 206.8h0M26.5 210.3h0M21.3 206.2h0M36.1 216.7h0M35.8 213.5h0M26.5 212.7h0M21.8 215.9h0M29.9 211.8h0M36.7 218.7h0M32.9 211.6h0M29.2 215.2h0M29.5 217.1h0M25.2 203.9h0M21.7 215.6h0M33.9 213.0h0M31.2 213.3h0M29.4 211.2h0M26.5 217.7h0M27.2 212.8h0M34.5 216.8h0M26.6 214.0h0M23.5 213.5h0M30.1 213.0h0M29.4 214.4h0M28.9 211.1h0M23.8 212.1h0M36.6 212.1h0M25.3 211.1h0M22.6 214.9h0M23.7 216.6h0M33.1 215.2h0M33.7 212.7h0M19.8 212.7h0M31.7 207.0h0M22.5 217.3h0M30.7 218.3h0M31.9 213.3h0M30.7 216.3h0M28.4 212.2h0M30.1 211.8h0M40.6 210.0h0M21.0 207.9h0M33.8 211.4h0M29.4 212.2h0M29.9 207.3h0M29.0 210.8h0M34.0 215.4h0M22.3 209.2h0M31.4 217.7h0M32.4 212.4h0M34.1 203.8h0M25.9 209.2h0M23.4 215.2h0M30.0 214.1h0M27.9 215.4h0M32.5 210.8h0M33.2 209.4h0M37.4 207.9h0M27.1 208.8h0M28.8 218.2h0M24.8 220.0h0M35.6 214.5h0M25.6 216.5h0M33.4 212.8h0M41.0 210.4h0M21.9 212.2h0M31.5 219.7h0M19.7 213.6h0M34.9 210.4h0M26.3 208.3h0M32.4 216.3h0M31.5 214.0h0M33.5 212.5h0M32.2 216.2h0M35.1 215.0h0M29.0 215.8h0M20.8 206.1h0M36.7 213.5h0M23.3 210.7h0M27.8 213.3h0M24.7 216.9h0M23.1 219.5h0M31.9 206.4h0M22.4 213.2h0M29.9 211.3h0M28.6 213.6h0M22.8 213.2h0M40.1 210.5h0M23.4 215.6h0M35.4 217.1h0M25.4 212.7h0M29.6 212.2h0M30.6 217.3h0M31.3 213.0h0M32.3 213.3h0M34.7 216.6h0M39.2 205.9h0M29.1 211.8h0M24.9 213.3h0M31.3 215.1h0M27.9 207.8h0M31.4 215.4h0M39.4 216.7h0M28.7 208.5h0M42.4 210.3h0M29.6 216.0h0M31.1 218.2h0M23.3 210.3h0M29.5 208.1h0M25.4 218.5h0M30.1 212.6h0M25.7 213.2h0M28.4 208.7h0M32.6 208.0h0M35.1 211.7h0M30.0 209.6h0M37.8 218.5h0M39.4 216.5h0M35.5 210.6h0M35.2 211.3h0M28.3 207.6h0M28.9 214.6h0M28.3 208.6h0M33.2 216.6h0M28.1 216.1h0M33.6 209.1h0M28.4 205.6h0M23.2 214.7h0M24.0 214.6h0M30.4 204.8h0M26.1 219.0h0M28.6 213.5h0M24.9 206.6h0M27.6 209.5h0M29.1 205.3h0M35.8 219.8h0M24.7 214.3h0M23.9 216.4h0M24.2 212.4h0M35.3 215.1h0M26.9 207.0h0M20.3 217.8h0M31.2 213.2h0M35.1 213.6h0M24.8 212.6h0M28.1 212.9h0M41.5 215.3h0M30.0 212.0h0M25.0 209.0h0M20.7 205.6h0M23.7 204.9h0M35.7 218.0h0M32.0 202.9h0M28.7 209.0h0M34.5 214.8h0M21.0 210.4h0M24.6 217.6h0M28.1 209.1h0M23.8 205.1h0M24.2 216.6h0M28.0 216.3h0M22.6 216.6h0M20.1 212.9h0M27.5 213.5h0M23.4 216.4h0M40.8 219.0h0M23.6 210.7h0M32.3 213.5h0M24.6 217.9h0M31.2 217.1h0M27.6 218.1h0M26.1 208.5h0M28.5 207.4h0M35.1 215.9h0M19.8 213.7h0M33.0 211.6h0M30.7 210.7h0M28.2 212.7h0M31.1 209.1h0M22.6 214.3h0M25.9 215.1h0M25.9 207.7h0M32.4 214.1h0M32.4 211.6h0M26.7 218.1h0M19.7 220.0h0M31.2 212.8h0M29.0 215.4h0M24.5 214.1h0M23.5 205.6h0M29.6 213.4h0M31.9 215.2h0M32.2 216.2h0M23.0 217.9h0M42.5 210.7h0M21.9 215.7h0M33.3 217.1h0M36.5 207.4h0M30.5 214.9h0M35.1 209.4h0M28.7 211.5h0M27.7 212.4h0M27.7 205.9h0M28.3 213.3h0M26.5 198.8h0M24.9 210.4h0M24.0 219.4h0M33.4 212.3h0M23.5 214.9h0M25.4 219.0h0M34.3 212.5h0M31.7 209.8h0M20.2 216.4h0M37.1 211.8h0M25.8 205.8h0M39.8 208.2h0M23.5 212.2h0M34.9 213.2h0M28.4 213.1h0M33.0 212.9h0M29.3 212.7h0M22.7 218.4h0M24.9 207.7h0M26.2 213.1h0M32.8 207.1h0M21.9 213.7h0M30.5 208.6h0M22.6 213.7h0M27.8 206.5h0M23.9 219.0h0M23.0 217.2h0M20.5 219.0h0M36.9 210.5h0M24.9 215.5h0M22.0 215.2h0M34.9 214.1h0M30.2 212.4h0M33.8 209.7h0M36.8 212.9h0M26.8 206.4h0M26.2 214.0h0M35.0 206.5h0M27.8 210.2h0M22.2 213.0h0M24.5 216.5h0M31.2 211.6h0M29.2 209.1h0M23.0 210.0h0M28.2 209.6h0M26.3 209.5h0M29.7 208.4h0M28.4 213.4h0M33.5 210.0h0M22.5 207.0h0M32.5 210.5h0M33.7 212.7h0M27.1 205.5h0M25.0 216.2h0M25.3 215.7h0M19.9 217.1h0M43.0 217.5h0M30.2 208.0h0M25.8 210.4h0M29.5 204.9h0M24.0 216.2h0M29.3 216.0h0M33.0 208.4h0M21.5 214.9h0M28.7 213.3h0M24.3 217.1h0M31.1 217.6h0M26.7 215.8h0M28.2 209.2h0M28.1 206.4h0M27.6 213.7h0M32.1 208.8h0M21.6 210.1h0M42.2 213.6h0M24.5 210.3h0M37.7 208.3h0M27.9 212.7h0M24.7 210.1h0M19.7 209.6h0M35.3 218.7h0M27.0 215.8h0M30.9 213.4h0M27.8 217.9h0M31.5 212.1h0M27.3 216.7h0M25.4 210.1h0M27.1 211.0h0M35.1 214.4h0M28.0 210.9h0M35.9 214.8h0M39.4 216.6h0M27.4 210.8h0M27.0 213.7h0M32.6 215.0h0M36.7 206.9h0M28.6 207.3h0M23.1 210.6h0M25.1 209.1h0M20.6 217.6h0M26.8 216.9h0M22.7 203.7h0M25.4 216.5h0M25.6 214.6h0M22.9 218.6h0M30.8 217.2h0M27.1 218.1h0M28.9 211.0h0M25.2 213.2h0M23.8 208.2h0M29.2 215.8h0M27.0 216.4h0M36.8 207.9h0M29.8 209.1h0M25.1 213.7h0M32.9 215.2h0M26.6 217.4h0M36.0 215.0h0M27.0 206.5h0M28.2 216.0h0M27.1 212.3h0M36.2 210.5h0M23.6 213.2h0M34.3 215.4h0M28.9 211.0h0M34.9 216.5h0M31.7 210.5h0M21.8 211.8h0M25.8 205.9h0M28.4 217.7h0M21.9 211.6h0M38.0 213.7h0M25.6 213.8h0M32.6 209.0h0M28.0 206.4h0M20.2 206.8h0M32.9 214.2h0M32.3 217.9h0M28.7 213.9h0M30.6 214.9h0M22.9 211.9h0M27.7 213.1h0M24.6 212.5h0M30.0 213.7h0M31.6 216.3h0M31.4 216.9h0M32.9 218.6h0M31.8 210.5h0M40.6 217.5h0M35.0 215.9h0M28.7 208.4h0M30.8 211.6h0M26.4 204.4h0M36.6 208.3h0M22.8 214.9h0M31.5 209.8h0M28.5 214.0h0M29.3 215.1h0M32.5 211.5h0M26.5 209.0h0M32.4 215.3h0M28.3 214.2h0M30.2 212.1h0M30.2 207.8h0M33.1 211.4h0M25.5 207.0h0M27.9 212.3h0M25.2 206.7h0M29.3 214.7h0M34.4 215.1h0M36.4 217.8h0M27.9 208.8h0M30.8 216.8h0M20.4 208.0h0M32.1 210.8h0M36.1 213.9h0M25.6 207.7h0M31.6 206.1h0M21.7 207.7h0M37.4 219.8h0M27.3 211.5h0M32.2 218.0h0M27.4 217.5h0M27.4 207.9h0M38.7 210.2h0M28.5 208.0h0M32.0 213.8h0M27.0 211.4h0M25.5 210.1h0M21.1 217.8h0M33.2 207.4h0M22.4 214.6h0M40.3 212.2h0M26.9 212.0h0M29.8 212.3h0M34.2 216.9h0M31.4 219.3h0M27.3 210.8h0M44.0 205.2h0M20.4 203.5h0M30.4 208.7h0M34.0 204.6h0M27.8 211.4h0M22.9 217.5h0M26.4 214.8h0M25.7 213.6h0M26.2 213.3h0M28.0 210.3h0M30.8 212.3h0M23.4 208.8h0M30.8 218.3h0M21.6 211.3h0M30.8 217.2h0M32.2 208.2h0M28.7 216.6h0M29.7 212.1h0M22.3 213.7h0M28.2 213.1h0M36.3 217.8h0M24.4 213.9h0M26.9 213.4h0M37.0 216.7h0M28.7 210.4h0M27.6 214.5h0M25.9 217.4h0M28.6 208.3h0M39.2 201.4h0M27.1 212.5h0M33.7 217.5h0M36.1 219.3h0M30.2 213.5h0M33.8 212.9h0M21.9 211.2h0M32.0 215.5h0" stroke="#333" stroke-width="0.55" stroke-linecap="round"/>
<path d="M23.9 216.5h0M28.3 208.6h0M28.8 215.9h0M29.0 212.1h0M24.8 216.3h0M28.0 213.0h0M26.1 210.0h0M21.5 212.0h0M30.7 215.2h0M25.2 217.4h0M26.6 210.1h0M30.3 217.0h0M26.1 209.4h0M27.1 205.9h0M27.5 217.4h0M28.2 210.9h0M29.5 211.6h0M31.2 212.0h0M33.6 212.0h0M27.9 210.3h0M23.3 214.0h0M28.4 210.2h0M29.0 211.8h0M25.6 212.8h0M28.5 215.1h0M31.1 214.1h0M25.0 211.0h0M28.4 209.5h0M26.8 211.9h0M27.0 213.5h0M30.5 217.8h0M30.1 215.9h0M24.0 216.0h0M31.3 209.1h0M35.2 211.4h0M19.9 218.1h0M27.5 210.7h0M25.5 216.1h0M28.1 211.9h0M30.9 210.3h0M24.7 211.4h0M25.0 215.0h0M26.6 209.9h0M25.9 207.2h0M27.8 213.3h0M29.2 212.3h0M28.5 210.3h0M27.4 213.4h0M23.5 214.7h0M27.7 213.1h0M25.8 218.8h0M27.3 210.8h0M24.7 214.7h0M26.6 210.7h0M25.0 215.7h0M27.6 216.1h0M27.2 209.6h0M30.0 213.9h0M25.3 212.1h0M24.3 215.4h0M26.0 214.4h0M28.1 212.2h0M28.5 212.3h0M23.6 211.8h0M23.6 215.2h0M29.3 211.3h0M29.2 213.7h0M30.3 210.3h0M27.4 210.1h0M25.2 217.0h0M21.1 210.3h0M28.8 215.3h0M24.9 207.1h0M22.0 214.1h0M30.7 215.6h0M25.0 216.9h0M26.7 214.8h0M26.7 217.6h0M25.7 206.8h0M26.3 213.5h0M28.2 210.9h0M26.6 209.7h0M26.6 213.2h0M28.0 217.8h0M21.1 214.5h0M28.6 209.6h0M27.5 213.0h0M24.2 215.1h0M33.2 214.9h0M29.7 216.1h0M26.9 215.8h0M24.8 213.5h0M29.5 216.8h0M26.4 212.2h0M28.7 212.8h0M27.7 215.3h0M24.9 215.5h0M28.5 212.2h0M23.4 211.2h0M27.2 215.7h0M21.2 215.1h0M27.9 209.7h0M29.9 214.1h0M28.6 210.2h0M23.9 215.6h0M31.6 214.1h0M26.7 211.7h0M22.0 215.8h0M27.0 216.6h0M25.1 216.0h0M25.1 214.7h0M31.5 211.0h0M30.1 213.0h0M24.4 213.6h0M29.3 210.9h0M26.5 211.4h0M24.9 212.4h0M29.8 211.6h0M31.1 211.9h0M25.2 216.1h0M31.6 211.1h0M29.1 209.7h0M26.0 211.9h0M29.5 209.4h0M25.7 211.0h0M27.6 209.5h0M28.0 208.7h0M29.9 209.2h0M21.5 217.8h0M31.1 210.6h0M23.9 214.4h0M33.5 214.7h0M29.3 209.6h0M21.8 214.1h0M30.4 213.4h0M27.3 217.0h0M24.7 216.1h0M29.8 211.2h0M27.7 213.3h0M29.1 210.2h0M26.6 213.3h0M27.4 213.1h0M28.1 212.4h0M25.8 216.0h0M25.3 212.1h0M24.6 209.7h0M28.7 212.9h0M26.9 214.3h0M26.8 214.9h0M32.8 214.0h0M26.5 217.7h0M29.5 208.2h0M31.4 213.6h0M29.9 209.7h0M24.7 211.1h0M29.0 209.8h0M25.1 215.7h0M25.3 213.3h0M24.6 208.1h0M27.0 212.7h0M22.9 215.8h0M29.8 215.5h0M25.7 209.7h0M27.0 213.5h0M26.8 211.3h0M24.3 210.9h0M27.0 211.6h0M32.4 212.2h0M28.7 211.7h0M26.7 210.2h0M25.8 208.7h0M21.0 216.8h0M24.1 214.2h0M26.9 211.4h0M29.5 211.4h0M28.6 211.9h0M30.3 215.7h0M27.5 216.1h0M28.8 217.4h0M26.9 208.6h0M27.9 213.7h0M26.2 212.4h0M26.5 209.4h0M32.5 210.8h0M24.0 208.5h0M24.7 212.9h0M31.8 214.7h0M25.1 209.5h0M23.9 212.8h0M29.9 211.6h0M32.2 218.5h0M27.8 206.8h0M30.6 212.7h0M29.3 215.8h0M24.2 213.2h0M27.8 210.9h0M29.4 212.6h0M26.1 218.3h0M27.8 217.6h0M26.8 215.9h0M25.0 213.4h0M30.6 206.8h0M28.9 212.2h0M30.6 213.5h0M27.1 209.4h0M36.2 210.9h0M26.3 210.9h0M26.4 213.6h0M23.2 216.0h0M26.5 214.7h0M20.9 211.5h0M26.4 211.9h0M25.3 213.9h0M28.5 210.2h0M21.3 215.1h0M26.3 216.0h0M29.9 212.7h0M23.0 212.0h0M25.1 216.5h0M22.2 215.6h0M22.6 211.4h0M23.0 211.0h0M25.9 214.0h0M25.5 214.9h0M32.6 213.4h0M23.8 212.5h0M27.0 212.0h0M30.8 216.3h0M33.3 214.5h0M29.3 210.7h0M25.5 215.6h0M27.7 209.8h0M25.5 204.2h0M27.3 209.5h0M27.1 209.6h0M24.5 211.5h0M35.7 209.6h0M23.7 211.5h0M30.5 215.3h0M29.4 212.1h0M27.7 210.8h0M26.7 210.7h0M22.9 210.2h0M33.1 214.1h0M25.0 212.7h0M25.9 216.5h0M27.2 211.2h0M29.3 213.9h0M25.2 210.8h0M27.7 208.3h0M24.5 215.9h0M29.9 216.2h0M25.9 211.3h0M26.5 211.6h0M31.1 212.4h0M31.4 211.0h0M28.4 217.6h0M25.0 211.1h0M25.5 208.4h0M26.4 211.2h0M33.9 211.6h0M20.8 215.7h0M30.1 212.9h0M28.1 215.0h0M25.6 213.1h0M27.7 217.7h0M31.5 213.5h0M23.2 215.5h0M27.1 216.3h0M27.4 213.5h0M29.2 210.9h0M25.3 219.5h0M24.6 215.6h0M29.3 215.3h0M31.4 209.2h0M30.1 207.1h0M27.4 213.9h0M30.4 216.1h0M24.4 212.2h0M26.8 211.0h0M24.8 211.1h0M30.7 216.9h0M29.5 217.8h0M27.5 209.9h0M25.3 213.6h0M30.4 216.4h0M24.6 215.7h0M25.7 214.7h0M30.0 217.2h0M25.7 213.7h0M28.6 211.8h0M27.5 214.7h0M22.3 211.2h0M34.2 214.3h0M25.6 207.8h0M24.4 214.5h0M29.3 214.3h0M29.0 211.3h0M32.1 209.8h0M28.8 212.2h0M22.1 215.6h0M26.4 215.0h0M31.1 213.5h0M25.3 212.4h0M27.1 217.1h0M29.8 217.5h0M29.5 210.8h0M30.1 215.8h0M26.9 214.3h0M26.3 209.4h0M27.0 215.2h0M26.2 206.6h0M24.8 216.1h0M27.9 216.2h0M25.0 211.8h0M24.2 210.8h0M28.8 213.4h0M25.8 213.8h0M23.3 211.9h0M22.7 208.7h0M23.2 209.9h0M32.0 216.9h0M31.0 211.3h0M29.1 209.8h0M25.6 213.7h0M22.4 213.6h0M29.1 207.1h0M19.9 212.2h0M26.9 213.4h0M23.8 214.6h0M27.6 210.9h0M32.2 213.7h0M29.5 218.3h0M25.8 212.4h0M22.0 212.3h0M28.9 213.6h0M23.4 210.6h0M21.7 209.1h0M27.6 213.8h0M24.5 212.4h0M24.8 214.8h0M29.2 211.4h0M25.9 209.5h0M25.8 219.2h0M27.2 215.5h0M29.0 217.2h0M26.3 210.4h0M30.4 215.6h0M25.3 216.1h0M27.2 212.9h0M32.8 214.5h0M28.2 212.1h0M27.9 216.0h0M28.6 210.8h0M28.6 212.7h0M28.2 212.4h0M20.7 208.4h0M26.1 206.7h0M22.7 218.8h0M29.3 211.7h0M28.2 206.6h0M28.0 215.8h0M27.8 209.2h0M30.2 211.5h0M25.5 213.6h0M26.3 218.8h0M26.8 219.2h0M28.6 209.4h0M27.2 213.1h0M31.6 216.7h0M35.0 211.1h0M25.9 219.7h0M24.5 214.0h0M32.1 210.1h0M26.2 210.9h0M28.8 214.1h0M27.1 214.9h0M24.9 211.9h0M28.7 218.8h0M27.1 213.2h0M31.2 213.2h0M31.2 213.7h0M30.7 213.5h0M24.5 210.5h0M28.5 218.4h0M32.9 212.1h0M34.8 209.8h0M24.7 215.7h0M22.6 215.6h0M28.4 214.8h0M23.6 214.1h0M30.1 212.8h0M30.4 213.1h0M28.3 212.1h0M23.1 212.5h0M28.8 210.8h0M21.3 208.5h0M31.2 212.4h0M24.9 216.6h0M26.7 208.7h0M25.9 210.5h0M26.7 210.4h0M27.5 214.3h0M25.5 212.4h0M26.8 215.4h0M25.1 215.2h0M31.0 212.4h0M24.3 212.1h0M21.9 211.4h0M23.6 212.5h0M26.1 214.5h0M27.6 214.2h0M27.1 213.8h0M23.8 214.9h0M31.2 216.2h0M23.2 214.2h0M22.3 215.2h0M26.6 211.7h0M25.0 212.3h0M27.2 210.2h0M27.4 213.7h0M28.9 212.9h0M27.2 219.7h0M30.3 213.9h0M23.0 214.8h0M29.0 205.3h0M26.8 214.1h0M27.4 213.3h0M26.8 217.0h0M28.4 212.2h0M26.6 219.0h0M24.6 211.5h0M28.2 213.4h0M28.2 216.9h0M30.7 214.2h0M27.4 212.8h0M26.6 215.9h0M23.4 210.0h0M25.9 210.2h0M25.0 216.5h0M20.4 214.7h0M23.3 212.3h0M25.5 210.1h0M22.7 213.2h0M26.1 216.2h0M32.9 212.2h0M24.8 212.2h0M28.7 215.7h0M24.3 214.4h0M27.2 216.3h0M26.0 212.4h0M24.7 209.2h0M28.1 215.1h0M30.7 213.8h0M25.9 210.3h0M23.7 210.9h0M28.3 213.3h0M20.3 212.7h0M26.4 210.0h0M27.2 214.5h0M24.1 209.1h0M26.3 213.8h0M26.5 217.5h0M27.7 210.1h0M29.6 211.1h0M29.4 213.3h0M31.0 210.1h0M29.5 214.2h0M24.5 215.0h0M34.2 214.0h0M24.9 212.6h0M31.3 213.7h0M31.8 211.1h0M31.3 208.4h0M26.8 212.1h0M25.8 216.6h0M25.4 214.0h0M33.0 215.4h0M26.0 210.9h0M21.1 214.1h0M30.0 216.2h0M28.0 219.3h0M29.6 206.3h0M24.6 215.3h0M26.0 215.4h0M35.1 210.8h0M34.1 212.8h0M22.8 213.3h0M30.1 211.3h0M32.1 210.5h0M26.7 215.7h0M26.6 211.4h0M27.2 214.9h0M32.6 216.9h0M33.0 212.9h0M22.2 212.9h0M26.0 210.1h0M25.7 212.8h0M27.4 215.7h0M24.5 216.3h0M27.4 215.1h0M31.1 209.4h0M32.2 210.9h0M28.5 216.2h0M30.1 208.5h0M27.8 216.3h0M26.9 212.8h0M27.5 217.8h0M25.6 210.3h0M23.9 211.5h0M26.6 214.0h0M27.0 208.0h0M22.4 215.0h0M29.5 209.1h0M30.2 205.9h0M34.5 214.7h0M22.2 214.5h0M27.2 211.7h0M26.2 212.4h0M27.0 210.4h0M25.5 214.6h0M28.9 209.1h0M25.8 217.5h0M29.5 217.8h0M23.1 210.0h0M20.6 207.4h0M26.1 210.0h0M23.9 211.0h0M26.7 215.4h0M29.0 207.9h0M31.9 212.0h0M24.2 212.9h0M26.1 209.0h0M32.1 211.3h0M25.4 214.6h0M32.5 214.4h0M24.5 214.3h0M30.7 214.1h0M29.3 211.6h0M27.1 208.1h0M25.1 209.7h0M27.3 217.3h0M20.3 209.2h0M24.4 212.7h0M30.9 210.7h0M24.9 216.5h0M28.5 214.5h0M29.9 210.8h0M28.0 211.1h0M25.1 213.4h0M28.6 209.3h0M24.9 214.8h0M27.8 214.9h0M26.3 210.7h0M29.7 214.7h0M24.9 214.9h0M32.2 212.2h0M24.3 213.7h0M27.6 214.6h0M22.9 213.7h0M30.1 215.0h0M29.3 216.5h0M24.7 216.6h0M27.9 210.1h0M26.4 213.8h0M28.3 216.9h0M27.9 211.5h0M34.1 212.0h0M24.7 215.7h0M26.0 210.7h0M24.0 216.5h0M24.0 213.3h0M25.9 212.4h0M24.8 213.4h0M29.2 216.1h0M26.2 209.6h0M22.7 213.0h0M27.4 213.4h0M23.0 211.1h0M25.0 215.0h0M26.0 214.8h0M28.9 207.4h0M26.6 216.7h0M25.7 213.4h0M26.9 209.4h0M34.1 212.6h0M29.3 211.7h0M31.7 216.4h0M31.0 215.8h0M29.5 217.0h0M28.6 213.4h0M29.8 210.4h0M27.8 211.0h0M26.5 210.2h0M24.7 213.6h0M27.7 215.4h0M27.0 214.9h0M29.4 211.0h0M22.0 211.0h0M26.5 211.5h0M34.2 211.0h0M28.8 210.8h0M29.4 209.4h0M30.3 213.6h0M26.1 209.6h0M32.5 211.3h0M31.8 206.0h0M23.6 218.3h0M32.8 213.1h0M30.4 214.8h0M26.2 213.4h0M23.7 209.1h0M27.7 215.1h0M27.8 209.5h0M29.9 213.3h0M29.6 212.2h0M26.5 216.1h0M31.6 209.5h0M23.9 215.8h0M28.4 213.2h0M24.3 216.0h0M27.9 213.7h0M28.5 211.5h0M28.5 213.4h0M29.5 214.1h0M23.3 211.0h0M26.5 216.4h0M25.3 216.3h0M30.7 215.6h0M34.3 213.0h0M28.3 216.6h0M28.6 215.9h0M26.9 217.1h0M28.4 207.5h0M30.7 212.5h0M24.6 212.2h0M26.4 216.4h0M28.3 212.8h0M27.3 210.4h0M25.3 211.7h0M26.6 209.7h0M26.1 215.9h0M28.7 213.0h0M28.4 212.3h0M23.6 215.6h0M34.3 214.5h0M23.5 214.6h0M26.2 212.2h0M22.1 212.8h0M28.5 208.4h0M26.6 211.6h0M24.2 214.9h0M32.4 214.2h0M30.5 215.2h0M27.1 214.7h0M31.4 211.8h0M26.8 209.1h0M21.5 210.7h0M30.1 214.1h0M28.1 216.8h0M21.8 217.0h0M27.6 215.3h0M31.6 210.7h0M24.6 214.2h0M27.1 211.4h0M26.9 211.0h0M27.7 211.9h0M32.6 210.0h0M29.1 213.3h0M32.2 210.3h0M25.9 218.0h0M25.3 211.9h0M26.1 210.2h0M31.1 217.4h0M26.8 210.9h0M23.1 214.9h0M25.6 214.6h0M19.8 211.8h0M29.3 214.2h0M27.7 213.0h0M26.2 211.8h0M27.7 214.5h0M30.2 212.4h0M31.1 210.4h0M33.3 215.8h0M31.8 217.6h0M23.6 212.7h0M28.8 216.1h0M27.5 209.3h0M31.1 212.6h0M28.7 212.1h0M27.0 209.1h0M29.4 211.2h0M21.8 214.2h0M27.2 215.8h0M29.9 209.6h0M26.8 213.0h0M27.6 210.0h0M27.5 215.9h0M31.2 217.2h0M29.7 205.8h0M26.5 211.5h0M30.1 213.0h0M28.4 214.4h0M26.6 217.0h0M33.0 215.4h0M25.6 213.8h0M30.3 215.1h0M25.2 215.8h0M29.6 214.7h0M26.0 213.0h0M21.4 212.9h0M25.9 212.2h0M26.4 212.1h0M27.6 213.3h0M25.4 212.7h0M27.0 214.4h0M28.7 212.0h0M24.7 208.3h0M23.4 214.2h0M24.4 217.6h0M26.8 211.9h0M26.8 211.5h0M25.3 213.2h0M22.8 213.4h0M27.0 210.4h0M30.5 214.1h0M30.7 211.1h0M23.4 209.6h0M22.4 207.6h0M32.2 211.7h0M27.9 211.5h0M26.9 217.5h0M21.9 210.2h0M27.7 210.4h0M29.5 216.7h0M30.1 215.2h0M26.8 215.9h0M24.8 209.6h0M26.5 212.3h0M31.1 210.2h0M30.9 210.8h0M23.4 208.2h0M27.2 208.9h0M28.0 213.2h0M26.1 207.5h0M25.7 214.3h0M21.8 215.0h0M27.4 211.5h0M27.9 214.9h0M27.2 210.8h0M29.7 211.1h0M28.4 215.8h0M31.4 217.6h0M30.5 213.4h0M26.7 213.6h0M29.3 210.7h0M32.0 208.5h0M30.4 209.4h0M23.9 211.6h0M26.4 209.2h0M29.2 212.7h0M31.5 210.1h0M21.7 215.0h0M26.6 215.8h0M20.0 209.4h0M27.6 218.6h0M23.5 207.6h0M25.9 217.1h0M32.2 209.1h0M25.4 207.7h0M24.7 210.3h0M28.6 216.3h0M34.7 212.0h0M29.8 213.6h0M27.7 218.6h0M29.5 217.5h0M28.2 215.5h0M28.9 212.7h0M25.1 211.9h0M27.3 211.9h0M26.2 211.0h0M30.0 212.3h0M26.9 212.4h0M31.4 211.5h0M31.7 210.5h0M32.1 214.8h0M25.8 214.3h0M30.8 210.3h0M26.6 213.9h0M26.7 212.2h0M27.4 213.9h0M29.7 217.2h0M26.3 218.1h0M26.9 208.9h0M26.0 212.0h0M30.6 207.2h0M25.3 212.6h0M29.3 214.1h0M30.0 212.6h0M26.6 216.5h0M32.6 214.1h0M27.8 210.6h0M33.8 214.2h0M29.2 208.4h0M29.2 220.0h0M26.8 212.4h0M32.1 212.5h0M29.9 218.6h0M23.7 210.6h0M29.4 213.3h0M27.4 212.5h0M27.7 214.0h0M25.8 212.2h0M28.0 209.9h0M28.7 206.7h0M29.3 212.7h0M23.7 216.9h0M23.7 218.9h0M25.1 216.5h0M27.1 217.6h0M26.6 216.0h0M26.3 207.6h0M28.5 214.4h0M28.6 217.8h0M25.0 208.9h0M28.1 211.0h0M27.0 213.0h0M24.8 216.1h0M26.9 218.2h0M28.1 216.0h0M26.4 211.1h0M25.7 210.5h0M28.7 213.4h0M24.0 208.6h0M24.7 207.8h0M24.6 208.7h0M29.5 209.7h0M25.5 212.7h0M27.4 214.2h0M29.7 214.9h0M26.3 216.6h0M28.5 211.0h0M31.9 209.6h0M28.8 216.6h0M27.7 214.0h0M27.7 214.9h0M28.0 213.0h0M29.5 207.6h0M28.1 212.1h0M33.4 213.8h0M25.3 214.9h0M26.1 209.6h0M26.5 214.5h0M31.0 216.0h0M28.0 212.5h0M27.9 216.5h0M26.9 216.3h0M24.9 213.0h0M29.7 215.0h0M27.9 211.5h0M21.8 211.8h0M24.7 211.9h0M32.2 210.8h0M29.9 213.0h0M23.9 213.3h0M29.6 209.6h0M23.8 211.9h0M29.5 211.3h0M28.6 214.3h0M27.4 214.3h0M31.2 212.5h0M28.3 210.0h0M25.1 212.7h0M29.8 211.1h0M23.1 215.7h0M34.6 205.6h0M24.1 213.4h0M28.8 210.3h0M28.3 216.2h0M26.5 215.1h0M27.7 210.3h0M25.4 211.3h0M31.4 216.3h0M28.1 208.5h0M25.8 211.9h0M21.4 212.9h0M28.2 209.2h0M26.0 211.7h0M32.9 214.9h0M29.7 213.3h0M23.4 215.7h0M25.3 207.5h0M29.5 212.0h0M27.3 214.5h0M26.6 214.2h0M31.2 212.1h0M26.2 213.1h0M29.3 211.9h0M27.6 211.1h0M27.1 214.6h0M24.8 212.5h0M22.9 211.0h0M27.5 214.5h0M24.2 212.7h0M24.5 213.9h0M28.1 214.3h0M26.7 208.9h0M25.6 209.2h0M25.3 212.8h0M30.6 211.2h0M25.0 213.6h0M21.1 218.7h0M22.6 215.9h0M30.3 215.8h0M27.0 215.1h0M26.3 215.7h0M25.3 210.7h0M28.5 211.7h0M29.3 210.5h0M28.1 210.2h0M27.0 219.1h0M24.1 209.5h0M22.5 212.4h0M32.2 211.7h0M30.1 212.5h0M25.4 218.7h0M30.6 207.7h0M24.4 214.2h0M29.3 212.4h0M28.3 214.5h0M26.3 215.9h0M24.7 215.2h0M30.1 213.6h0M26.3 213.0h0M20.6 213.7h0M23.0 207.2h0M29.6 210.4h0M28.4 213.1h0M22.0 210.4h0M26.5 214.3h0M27.5 209.4h0M25.7 213.3h0M23.5 211.7h0M25.7 206.9h0M32.5 215.5h0M25.9 215.7h0M24.2 217.4h0M26.2 213.4h0M25.6 213.3h0M28.3 213.1h0M24.8 215.2h0M29.0 213.0h0M30.5 210.9h0M31.1 212.5h0M31.9 211.7h0M26.5 213.6h0M30.6 217.1h0M25.9 210.9h0M29.6 216.5h0M29.4 212.1h0M31.1 212.9h0M27.8 214.8h0M25.6 206.5h0M28.0 215.0h0M28.6 214.6h0M27.8 216.0h0M27.7 217.3h0M27.5 215.3h0M25.7 213.9h0M28.6 213.4h0M31.9 213.1h0M30.7 214.0h0M30.6 210.4h0M26.2 215.8h0M24.9 214.1h0M29.0 213.6h0M28.6 214.5h0M26.6 214.2h0M25.8 211.7h0M22.5 212.7h0M22.2 213.1h0M27.9 209.9h0M27.5 213.8h0M26.3 210.4h0M27.0 214.2h0" stroke="#000" stroke-width="0.8" stroke-linecap="round"/>
<rect x="19.40" y="175.40" width="53.90" height="44.90" fill="none" stroke="#333" stroke-width="0.6"/>
<line x1="41.10" y1="175.40" x2="41.10" y2="220.30" stroke="#555" stroke-width="0.5"/>
<line x1="19.40" y1="204.30" x2="73.30" y2="204.30" stroke="#555" stroke-width="0.5"/>
<text x="46.40" y="173.20" font-size="4.6" text-anchor="middle" font-weight="normal" fill="#222" textLength="40.5" lengthAdjust="spacingAndGlyphs">Secondary Transplant</text>
<text x="65.00" y="211.40" font-size="3.3" text-anchor="middle" font-weight="normal" fill="#333" textLength="8.2" lengthAdjust="spacingAndGlyphs" stroke="#333" stroke-width="0.20" text-rendering="geometricPrecision">2.74%</text>
<path d="M104.8 218.7h0M112.3 217.9h0M121.8 207.7h0M106.0 218.6h0M106.3 213.7h0M124.1 211.4h0M111.1 219.8h0M122.3 219.3h0M118.3 207.3h0M101.5 203.9h0M123.8 212.7h0M122.8 219.8h0M106.3 220.0h0M107.2 206.5h0M124.2 209.5h0M112.5 217.5h0M120.8 218.8h0M109.5 207.4h0M113.3 219.4h0M115.9 218.3h0M105.3 212.1h0M123.6 213.2h0M120.5 217.2h0M111.5 215.2h0M117.9 211.0h0M113.5 217.3h0M109.6 215.0h0M114.3 218.0h0M106.4 211.4h0M106.8 217.2h0M118.4 203.6h0M103.0 205.9h0M115.3 216.7h0M109.0 204.9h0M115.2 213.9h0M111.2 208.1h0M109.1 207.5h0M121.0 210.0h0M118.4 212.8h0M106.1 208.3h0M117.3 218.2h0M123.6 206.1h0M106.9 205.2h0M105.1 210.1h0M118.6 219.1h0M115.3 206.0h0M109.8 205.9h0M107.4 213.3h0M113.0 206.4h0M107.3 218.7h0M116.3 213.7h0M108.5 208.6h0M119.7 203.8h0M116.9 219.8h0M116.5 204.3h0M101.1 216.8h0M105.0 210.7h0M116.9 215.0h0M107.6 215.1h0M123.6 211.5h0M110.4 215.2h0M122.5 215.2h0M123.9 216.8h0M124.6 207.8h0M117.4 207.1h0M103.2 209.3h0M124.4 208.5h0M108.1 219.3h0M125.3 216.4h0M109.2 217.5h0M101.9 203.7h0M101.9 209.2h0M106.4 218.1h0M111.6 218.0h0M112.7 209.8h0M108.9 204.3h0M111.8 219.7h0M125.0 219.3h0M102.7 211.0h0M121.5 206.1h0M101.9 207.0h0M102.4 216.1h0M101.5 215.4h0M120.5 206.5h0M120.4 204.7h0M105.0 214.7h0M104.6 210.9h0M104.1 205.1h0M112.6 212.7h0M121.9 203.6h0M109.3 204.7h0M114.3 206.3h0M108.7 220.0h0M116.8 214.9h0M115.7 206.9h0M117.7 220.0h0M102.5 217.8h0M109.0 206.9h0M117.0 218.0h0M104.5 206.9h0M113.0 207.0h0M100.9 210.8h0M105.4 206.3h0M115.3 219.6h0M112.2 213.0h0M118.1 218.1h0M124.9 209.2h0M104.8 219.1h0M115.7 218.5h0M104.0 216.9h0M103.3 205.7h0M103.3 209.7h0M110.8 214.7h0M124.2 210.8h0M115.0 210.5h0M110.0 208.0h0M100.4 207.8h0M118.7 217.1h0M117.7 211.0h0M110.7 206.7h0M115.2 210.4h0M113.9 211.9h0M107.7 210.6h0M111.2 218.8h0M123.0 208.4h0M111.9 207.3h0M124.5 205.8h0M112.5 203.7h0M112.0 211.3h0M100.6 206.1h0M113.0 211.6h0M108.0 204.4h0M108.5 209.4h0M102.9 213.7h0M105.9 212.5h0M118.3 203.7h0M112.9 214.3h0M123.1 215.2h0M121.6 214.8h0M106.0 217.3h0M119.5 211.8h0M123.8 204.3h0M123.4 209.6h0M114.1 217.0h0M104.5 211.9h0M100.6 204.1h0M124.6 207.2h0M111.1 205.5h0M124.0 212.1h0M122.1 208.1h0M112.1 207.7h0M115.3 215.5h0M114.9 213.4h0M108.2 219.7h0M100.7 206.3h0M121.9 207.7h0M124.3 211.3h0M114.8 214.5h0M116.0 218.5h0M123.2 208.9h0M123.0 208.9h0M117.7 206.2h0M116.5 208.6h0M125.6 214.8h0M110.1 219.9h0M103.2 216.2h0M116.8 203.8h0M112.0 205.5h0M125.7 205.2h0M116.5 212.7h0M103.4 219.4h0M114.9 214.0h0M107.0 206.1h0M108.6 204.1h0M105.4 211.9h0M110.2 216.4h0M103.9 207.0h0M113.6 215.2h0M108.3 207.0h0M103.4 209.7h0M109.9 217.0h0M106.4 209.3h0M119.3 207.0h0M123.6 208.9h0M107.5 211.3h0M105.6 216.9h0M122.8 215.6h0M110.4 217.8h0M124.1 206.6h0M117.3 206.4h0M125.4 217.0h0M110.7 216.1h0M107.7 204.6h0M113.3 204.8h0M111.9 218.0h0M115.0 208.0h0M105.7 213.0h0M113.2 218.9h0M104.6 211.4h0M111.7 209.9h0M105.0 210.0h0M114.1 206.8h0M108.4 212.5h0M124.2 211.7h0M109.1 204.1h0M113.5 209.3h0M103.2 211.6h0M116.0 209.5h0M119.0 214.2h0M101.8 204.3h0M113.7 213.8h0M114.5 207.4h0M109.0 215.7h0M110.4 212.5h0M106.1 214.2h0M112.5 203.5h0M119.5 217.2h0M125.4 219.5h0M118.2 211.4h0M107.0 215.5h0M110.9 209.0h0M103.2 213.8h0M118.4 216.6h0M104.1 207.0h0M116.5 205.7h0M122.9 219.3h0M116.3 207.9h0M114.6 216.5h0M109.0 214.5h0M115.6 218.9h0M120.0 214.9h0M114.1 218.6h0M115.6 215.2h0M108.2 205.3h0M114.5 207.3h0M125.0 207.3h0M123.1 209.2h0M105.1 213.3h0M116.0 205.2h0M108.2 205.4h0M112.8 212.5h0M108.3 214.9h0M111.6 217.4h0M117.6 207.9h0M121.4 204.0h0M106.2 204.0h0M124.5 212.6h0M102.6 218.8h0M100.8 215.4h0M120.5 210.0h0M122.9 216.5h0M112.9 208.3h0M104.3 204.8h0M114.1 212.4h0M105.0 212.5h0M102.3 208.6h0M117.3 206.1h0M113.6 205.8h0M122.7 207.1h0M124.0 219.1h0M124.9 208.3h0M117.6 204.7h0M125.0 215.3h0M101.2 205.9h0M102.9 209.4h0M124.1 216.9h0M108.6 217.3h0M100.5 212.8h0M110.2 204.8h0M123.7 214.7h0M125.6 214.4h0M116.1 205.7h0M112.4 218.7h0M114.5 214.3h0M112.0 209.6h0M100.5 207.2h0M105.0 205.1h0M101.6 216.3h0M125.6 215.4h0M121.4 207.1h0M121.9 210.0h0M122.0 207.5h0M107.9 212.5h0M106.0 207.9h0M118.8 216.9h0M125.3 214.6h0M109.2 211.5h0M115.2 213.6h0M123.6 213.1h0M124.8 211.6h0M111.6 204.0h0M108.5 211.7h0M100.5 211.0h0M103.2 208.0h0M122.8 219.1h0M103.2 213.5h0M112.7 204.4h0M107.8 212.6h0M111.1 213.2h0M101.9 213.9h0M115.8 206.7h0M114.7 219.4h0M123.0 214.0h0M113.5 216.2h0M111.8 215.5h0M109.8 212.9h0M119.0 213.4h0M115.6 210.0h0M109.2 214.6h0M111.6 211.0h0M109.9 208.4h0M116.2 218.4h0M105.2 214.5h0M113.8 214.3h0M117.2 210.3h0M100.5 209.7h0M113.5 214.2h0M123.9 214.7h0M116.9 209.5h0M120.5 205.7h0M122.8 211.8h0M111.8 215.3h0M103.3 204.6h0M115.4 207.3h0M113.7 208.5h0M109.5 207.3h0M106.7 205.8h0M125.1 216.0h0M109.4 205.4h0M125.1 218.6h0M102.7 218.3h0M111.5 210.9h0M100.5 213.3h0M106.3 218.5h0M106.0 218.5h0M108.8 217.2h0M118.5 219.4h0M114.9 209.6h0M107.0 207.5h0M102.9 208.6h0M108.3 217.5h0M100.4 212.0h0M113.2 206.2h0M117.9 207.0h0M119.2 206.4h0M122.7 208.8h0M102.7 206.1h0M105.5 205.7h0M109.8 210.2h0M119.5 204.8h0M102.5 218.3h0M108.6 206.5h0M104.9 216.1h0M125.2 210.3h0M118.4 211.3h0M105.4 208.9h0M108.9 207.8h0M120.5 205.0h0M110.1 216.0h0M101.1 219.9h0M115.9 214.6h0M105.2 207.0h0M100.6 217.4h0M105.3 204.8h0M115.5 205.1h0M121.7 217.9h0M107.5 206.0h0M113.3 216.2h0M101.2 215.5h0M103.4 209.9h0M104.5 204.9h0M113.9 208.6h0M123.5 218.9h0M118.8 212.2h0M116.7 209.2h0M112.2 212.8h0M111.0 211.1h0M119.0 218.1h0M108.0 204.8h0M105.9 212.0h0M119.7 216.0h0M123.6 216.7h0M107.9 204.4h0M112.5 209.1h0M122.4 218.9h0M114.0 216.7h0M118.8 212.3h0M111.5 219.7h0M120.6 213.2h0M125.4 206.0h0M119.9 212.9h0M108.4 205.7h0M115.1 218.3h0M104.7 218.8h0M125.4 206.8h0M114.3 211.7h0M108.8 205.5h0M107.1 219.5h0M121.7 219.7h0M113.0 212.0h0M101.8 210.8h0M101.9 214.7h0" stroke="#9a9a9a" stroke-width="0.5" stroke-linecap="round"/>
<path d="M118.3 199.8h0M113.7 198.2h0M110.9 201.4h0M118.2 198.7h0M123.2 195.2h0M122.1 194.1h0M121.1 197.9h0M115.2 197.6h0M114.2 199.8h0M115.7 197.8h0M117.3 196.7h0M117.7 195.9h0M125.5 191.1h0M120.6 198.2h0M113.3 200.1h0M123.7 194.1h0M112.3 200.3h0M117.4 196.4h0M114.4 197.3h0M118.9 196.8h0M117.7 196.0h0M118.5 196.0h0M117.5 196.9h0M112.7 197.7h0M106.6 200.5h0" stroke="#b0b0b0" stroke-width="0.5" stroke-linecap="round"/>
<path d="M83.6 210.9h0M90.1 209.7h0M96.6 209.7h0M90.5 211.5h0M94.4 208.8h0M92.4 214.2h0M93.5 214.9h0M91.7 207.7h0M89.5 210.4h0M93.4 212.8h0M91.7 217.1h0M90.5 219.0h0M94.8 208.7h0M88.4 217.5h0M88.7 217.4h0M88.5 213.1h0M95.6 208.4h0M91.3 212.0h0M91.8 219.1h0M93.2 209.1h0M95.3 212.0h0M91.7 217.3h0M89.6 216.7h0M91.8 210.6h0M89.6 209.1h0M96.3 214.1h0M95.4 209.9h0M94.8 209.6h0M92.3 213.5h0M88.3 214.5h0M91.2 210.7h0M87.6 209.2h0M97.2 214.0h0M89.4 215.8h0M87.1 209.7h0M92.6 218.7h0M92.4 214.0h0M98.9 208.4h0M104.8 209.9h0M90.7 209.1h0M85.5 212.7h0M102.0 210.4h0M88.2 214.4h0M86.4 212.7h0M94.7 206.3h0M89.6 212.5h0M88.7 213.1h0M82.9 212.1h0M88.7 210.1h0M94.6 210.7h0M97.4 215.1h0M87.3 215.5h0M88.4 215.4h0M95.1 217.3h0M86.3 213.1h0M91.0 209.5h0M92.9 215.8h0M84.8 211.7h0M86.0 209.3h0M86.2 218.0h0M88.0 212.2h0M95.5 216.9h0M97.3 206.7h0M94.4 207.7h0M88.1 212.1h0M88.4 220.0h0M90.2 217.4h0M90.2 213.3h0M93.3 215.0h0M93.3 207.8h0M93.3 214.6h0M93.7 213.3h0M92.8 209.2h0M96.1 209.5h0M97.3 216.8h0M90.7 212.5h0M94.5 212.5h0M85.6 214.4h0M85.5 212.0h0M99.1 216.2h0M89.0 213.3h0M88.1 213.5h0M84.5 215.8h0M91.1 211.5h0M89.0 211.9h0M88.4 211.9h0M96.9 215.7h0M92.9 214.7h0M85.9 205.5h0M97.8 215.9h0M92.0 214.4h0M91.9 213.6h0M89.8 206.1h0M93.6 213.7h0M95.4 214.5h0M89.7 215.5h0M91.8 212.0h0M89.3 212.1h0M89.7 212.0h0M90.5 217.2h0M88.9 213.0h0M87.7 209.0h0M87.2 211.8h0M91.7 212.4h0M85.6 212.3h0M97.8 210.6h0M91.3 216.8h0M87.4 211.6h0M104.0 217.6h0M88.6 214.0h0M91.5 214.0h0M93.1 212.5h0M91.7 209.0h0M89.5 218.5h0M92.1 211.3h0M91.6 217.0h0M83.3 209.4h0M88.0 212.0h0M90.6 211.6h0M91.5 213.8h0M85.8 211.4h0M85.4 214.5h0M92.2 215.7h0M87.1 211.7h0M83.7 214.6h0M95.9 215.0h0M93.8 214.3h0M92.7 216.6h0M89.8 216.3h0M94.9 214.9h0M92.2 209.3h0M95.9 210.6h0M88.1 210.7h0M93.5 210.3h0M93.1 215.4h0M91.5 212.4h0M93.7 217.8h0M88.9 210.0h0M88.3 210.6h0M89.9 213.0h0M87.3 212.1h0M86.4 214.3h0M94.8 207.5h0M92.0 218.5h0M89.7 216.5h0M92.4 210.4h0M95.5 211.5h0M92.6 212.2h0M90.0 214.0h0M96.9 207.9h0M86.0 213.8h0M95.4 212.9h0M90.2 215.2h0M98.1 210.5h0M83.8 212.6h0M94.4 209.2h0M96.1 216.6h0M94.5 210.7h0M85.2 215.7h0M92.2 215.8h0M84.9 203.8h0M96.0 216.8h0M89.8 213.5h0M93.0 216.0h0M90.1 211.8h0M86.6 216.9h0M91.4 202.3h0M92.5 211.6h0M85.3 211.8h0M85.3 212.0h0M88.5 215.2h0M86.5 207.5h0M88.3 209.0h0M94.3 212.8h0M83.5 210.6h0M90.9 213.4h0M82.7 213.1h0M92.3 216.8h0M95.9 213.1h0M85.2 212.3h0M93.9 210.5h0M96.7 210.3h0M85.9 216.2h0M90.5 214.6h0M89.6 213.6h0M88.4 219.7h0M93.9 213.1h0M93.1 216.2h0M88.6 214.1h0M91.9 211.6h0M87.5 212.8h0M89.6 212.2h0M93.9 213.7h0M98.7 216.3h0M89.4 211.3h0M93.2 212.3h0M83.7 213.9h0M89.7 212.8h0M93.7 214.1h0M100.1 211.1h0M90.6 214.5h0M89.0 211.8h0M98.8 208.7h0M92.6 207.7h0M92.5 207.2h0M85.8 217.2h0M97.9 213.9h0M92.1 209.9h0M89.4 209.2h0M90.6 213.2h0M91.5 216.1h0M88.1 206.3h0M85.8 209.4h0M89.3 212.1h0M90.8 218.0h0M91.1 210.0h0M89.6 210.6h0M89.9 215.4h0M85.9 215.8h0M99.0 218.5h0M98.3 213.8h0M90.8 214.3h0M89.4 210.4h0M93.8 208.9h0M84.8 215.3h0M89.3 210.7h0M93.2 218.2h0M89.7 213.1h0M93.5 216.6h0M95.6 215.7h0M88.0 215.2h0M91.0 207.9h0M96.5 215.4h0M97.1 213.3h0M94.3 213.3h0M91.7 216.5h0M91.3 215.5h0M90.8 217.5h0M93.9 208.1h0M98.4 214.9h0M88.7 211.5h0M99.9 213.8h0M93.3 215.4h0M88.3 219.2h0M100.4 211.0h0M96.1 208.2h0M89.5 213.7h0M91.2 215.4h0M92.8 214.7h0M90.4 214.5h0M88.5 219.9h0M91.3 217.5h0M91.5 213.0h0M90.2 209.3h0M100.3 214.9h0M91.6 212.0h0M96.7 212.4h0M88.9 211.7h0M97.9 214.5h0M90.3 211.4h0M96.7 214.4h0M89.5 216.4h0M94.9 210.3h0M96.1 217.1h0M89.9 209.2h0M95.9 212.4h0M90.1 212.6h0M89.8 216.2h0M86.1 215.2h0M96.2 216.9h0M94.2 214.4h0M90.1 213.1h0M87.1 218.9h0M90.5 210.2h0M94.7 218.4h0M92.3 212.5h0M86.1 215.6h0M89.9 211.4h0M93.7 209.3h0M94.3 205.6h0M88.3 208.9h0M89.9 216.1h0M85.2 217.9h0M88.0 211.9h0M95.4 211.1h0M97.5 212.8h0M90.6 210.4h0M96.1 213.3h0M88.9 210.4h0M88.2 213.2h0M87.9 216.1h0M90.9 211.5h0M93.1 218.1h0M95.8 213.9h0M94.7 208.5h0M87.7 216.8h0M90.6 213.7h0M93.8 214.7h0M93.0 211.9h0M89.7 217.7h0M88.9 208.9h0M89.5 216.4h0M99.0 214.0h0M88.3 215.5h0M92.4 217.3h0M93.4 215.9h0M93.3 214.9h0M87.0 213.0h0M98.1 217.8h0M95.3 214.8h0M90.6 214.6h0M89.6 217.0h0M89.7 211.1h0M84.0 218.5h0M87.8 210.7h0M92.9 219.3h0M94.0 212.4h0M93.6 210.8h0M90.0 213.6h0M91.2 216.0h0M93.5 219.6h0M94.8 212.6h0M92.2 210.8h0M88.4 212.4h0M95.6 211.3h0M84.3 210.2h0M85.8 212.9h0M89.8 209.8h0M87.6 212.2h0M92.8 215.5h0M96.9 212.7h0M93.9 213.8h0M86.3 211.5h0M100.7 213.0h0M98.3 216.2h0M98.4 212.9h0M95.2 212.5h0M86.3 209.8h0M93.1 208.3h0M92.7 210.7h0M92.7 209.1h0M94.9 212.8h0M84.5 208.9h0M91.4 208.3h0M92.6 215.1h0M88.3 218.0h0M97.5 214.5h0M93.2 215.0h0M90.0 217.7h0M88.8 205.4h0M91.3 214.9h0M94.8 210.0h0M97.2 210.9h0M93.9 215.9h0M91.9 217.1h0M93.3 212.2h0M102.5 213.5h0M84.1 218.1h0M97.9 211.7h0M86.9 217.1h0M91.4 210.4h0M89.1 213.7h0M95.5 218.5h0M88.5 218.4h0M84.6 215.8h0M90.6 214.9h0M89.3 211.2h0M92.4 217.1h0M89.4 210.1h0M85.3 215.2h0M93.6 215.6h0M88.5 212.1h0M98.9 212.3h0M91.7 216.7h0M98.5 214.7h0M92.7 219.7h0M89.4 207.7h0M87.9 212.5h0M96.9 214.5h0M96.4 213.8h0M91.4 211.7h0M85.8 215.1h0M92.8 215.4h0M88.9 212.2h0M92.8 215.5h0M99.9 210.7h0M95.5 216.4h0M90.0 214.0h0M90.9 218.4h0M102.3 214.5h0M90.1 216.6h0M93.3 212.9h0M94.5 216.3h0M89.5 216.2h0M89.8 214.0h0M84.9 218.3h0M89.5 214.0h0M91.0 215.9h0M88.7 215.9h0M87.6 208.7h0M93.4 214.0h0M95.0 207.3h0M91.7 211.4h0M90.4 212.2h0M89.6 211.4h0M95.6 208.0h0M83.9 214.6h0M99.9 211.0h0M87.3 209.7h0M86.8 217.5h0M94.2 216.4h0M92.7 214.3h0M88.7 210.4h0M89.6 217.6h0M88.1 213.6h0M98.6 213.3h0M94.0 211.7h0M99.4 209.5h0M93.6 212.7h0M92.0 214.7h0M96.9 216.3h0M95.8 214.7h0M86.5 217.8h0M97.9 215.1h0M94.6 212.8h0M84.9 216.7h0M88.0 219.7h0M94.2 213.4h0M88.5 213.9h0M86.8 212.3h0M98.1 212.6h0M99.2 213.2h0M93.0 210.5h0M89.9 212.1h0M85.1 219.8h0M93.8 213.2h0M86.4 213.6h0M86.6 210.4h0M83.6 215.3h0M88.8 204.1h0M85.0 213.1h0M91.4 211.1h0M98.9 215.2h0M88.4 208.2h0M91.9 211.3h0M95.6 210.1h0M96.4 212.0h0M92.0 212.6h0M93.9 217.2h0M88.8 210.6h0M99.4 216.6h0M99.5 216.6h0M91.8 218.8h0M88.2 212.1h0M89.4 215.7h0M87.4 212.9h0M87.5 212.7h0M96.1 217.1h0M88.1 215.0h0M89.1 206.3h0M86.0 217.5h0M90.6 214.4h0M96.6 213.6h0M88.4 211.5h0M87.0 215.3h0M89.1 215.2h0M84.6 212.1h0M100.2 214.7h0M90.7 217.4h0M92.4 218.5h0M86.1 216.0h0M86.5 215.7h0M101.9 218.5h0M87.4 214.9h0M93.1 211.2h0M92.2 210.0h0M95.4 216.5h0M90.4 215.7h0M101.6 213.0h0M83.0 214.6h0M89.2 211.0h0M95.1 216.8h0M93.7 218.8h0M88.4 212.2h0M93.0 204.7h0M90.2 213.7h0M86.9 214.2h0M95.8 211.5h0M93.6 213.0h0M90.4 213.9h0M97.7 215.2h0M94.1 214.0h0M91.0 213.8h0M88.9 208.5h0M97.6 219.5h0M98.0 207.5h0M93.5 209.7h0M90.3 211.8h0M88.4 211.0h0M89.0 216.0h0M98.2 216.5h0M91.1 213.0h0M90.0 213.4h0M88.4 212.9h0M94.8 212.8h0M87.5 213.1h0M91.5 213.3h0M90.0 215.8h0M90.9 210.2h0M93.6 211.2h0M94.5 216.2h0M93.2 214.5h0M85.2 212.9h0M91.6 215.6h0M86.2 213.0h0M84.3 214.1h0M91.4 213.9h0M98.4 215.9h0M90.2 211.6h0M89.1 216.1h0M95.1 211.9h0M90.6 212.1h0M94.1 214.1h0M87.9 210.6h0M96.8 209.0h0M83.1 203.5h0M100.0 211.8h0M94.8 215.3h0M94.8 217.2h0M89.0 213.5h0M95.4 215.3h0M87.7 211.0h0M84.7 214.4h0M88.7 208.4h0M88.6 214.6h0M91.9 212.8h0M91.8 215.6h0M85.8 210.9h0M95.4 215.9h0M84.9 211.2h0M97.5 216.0h0M90.4 216.8h0M97.1 218.1h0M84.9 209.3h0M88.8 213.3h0M89.5 214.3h0M97.6 217.1h0M95.5 213.5h0M98.4 215.0h0M92.2 213.4h0M91.0 216.4h0M101.1 212.9h0M85.9 216.8h0M92.2 210.4h0M95.4 213.5h0M86.9 205.3h0M86.7 214.8h0M86.5 216.7h0M100.8 214.5h0M92.1 213.3h0M94.9 213.6h0M95.7 218.1h0M94.9 210.4h0M94.0 212.7h0M92.5 216.7h0M88.1 214.2h0M97.6 210.8h0M90.2 215.9h0M90.1 216.8h0M86.6 208.6h0M92.8 213.1h0M92.5 216.6h0M95.8 212.4h0M89.4 207.2h0M86.8 214.3h0M92.0 208.7h0M94.6 213.4h0M96.0 212.4h0M95.4 209.9h0M82.8 210.9h0M94.2 214.8h0M94.1 218.9h0M94.6 215.2h0M84.1 214.7h0M89.4 210.4h0M86.6 213.1h0M93.7 211.4h0M92.4 215.8h0M91.0 219.7h0M89.7 211.1h0M94.1 212.9h0M92.5 213.1h0M95.0 213.5h0M92.1 213.3h0M87.1 206.3h0M93.5 209.5h0M92.8 215.6h0M99.5 211.1h0M91.7 216.6h0M88.1 211.6h0M95.9 216.6h0M86.8 215.6h0M96.2 209.4h0M91.1 212.9h0M93.9 207.9h0M94.2 213.5h0M89.9 206.7h0M94.0 214.9h0M94.4 208.0h0M92.0 217.9h0M84.2 215.6h0M87.8 215.3h0M91.5 208.3h0M86.4 217.6h0M90.6 217.5h0M92.6 216.4h0M89.3 214.2h0M89.4 216.4h0M88.5 217.1h0M98.1 209.6h0M90.3 215.3h0M99.0 217.2h0M91.5 207.9h0M94.8 211.6h0M91.9 214.8h0M84.8 216.9h0M95.2 215.4h0M93.7 214.7h0M84.8 211.9h0M94.7 212.4h0M91.2 214.7h0M91.5 214.3h0M93.2 213.5h0M86.2 212.6h0M95.3 211.3h0M93.2 214.5h0M87.1 204.4h0M91.0 211.0h0M88.3 216.5h0M87.6 214.6h0M91.6 214.1h0M99.9 207.2h0M95.4 213.0h0M89.8 211.4h0M91.2 213.7h0M87.0 218.8h0M87.8 213.1h0M85.4 214.0h0M92.7 217.0h0M95.4 211.9h0M98.2 213.2h0M98.0 219.0h0M89.3 210.1h0M93.5 218.1h0M92.8 217.0h0M93.7 216.4h0M96.9 212.6h0M84.8 213.1h0M87.6 209.7h0M90.3 215.8h0M82.9 208.6h0M94.6 210.7h0M89.3 217.8h0M96.0 214.7h0M93.5 204.8h0M93.5 214.7h0M84.9 214.1h0M93.1 213.1h0M94.6 216.3h0M91.3 212.7h0M85.8 217.2h0M88.5 214.5h0M97.9 216.0h0M85.4 213.2h0M87.9 208.2h0M87.5 215.4h0M92.6 212.8h0M91.8 209.8h0M87.7 213.0h0M94.6 212.5h0M90.3 214.6h0M97.6 209.5h0M93.4 214.1h0M90.7 214.3h0M90.0 209.6h0M94.8 213.1h0M89.5 215.9h0M87.0 211.2h0M94.7 216.3h0M100.0 212.0h0M84.6 208.8h0M85.7 213.8h0M90.0 211.3h0M86.6 211.3h0M89.4 217.3h0M93.8 217.9h0M94.7 215.9h0M96.3 215.0h0M97.9 217.1h0M99.1 214.2h0M89.8 215.2h0M89.4 211.3h0M93.0 209.9h0M90.3 218.0h0M91.6 216.1h0M93.9 214.7h0M91.5 215.5h0M86.8 215.4h0M86.3 211.1h0M88.4 209.2h0M93.3 215.6h0M100.8 214.1h0M94.4 211.1h0M94.2 209.9h0M99.8 210.4h0M89.2 215.9h0M86.8 214.1h0M95.4 214.0h0M95.2 211.9h0M93.7 206.5h0M97.7 211.4h0M87.2 213.6h0M98.6 211.2h0M90.9 212.3h0M86.9 209.3h0M93.6 215.8h0M87.7 214.2h0M93.0 214.7h0M90.3 213.6h0M92.3 210.1h0M90.4 216.0h0M88.5 217.7h0M90.0 210.0h0M89.7 209.2h0M93.7 208.4h0M91.1 212.7h0M89.7 214.9h0M92.3 211.7h0M94.7 212.1h0M95.0 217.8h0M92.7 216.5h0M85.1 215.3h0M84.4 212.9h0M94.1 204.9h0M87.6 211.0h0M86.8 213.6h0M93.8 209.8h0M88.3 207.6h0M87.9 206.8h0M84.3 215.0h0M94.9 210.9h0M92.6 211.0h0M95.8 219.1h0M88.2 212.0h0M97.9 218.5h0M91.0 215.5h0M84.0 212.6h0M89.7 213.0h0M92.3 208.5h0M83.3 213.7h0M94.2 215.1h0M91.3 208.3h0M88.9 208.5h0M99.7 214.7h0M94.2 214.2h0M89.3 217.3h0M94.9 215.5h0M93.6 215.9h0M89.8 214.9h0M91.4 212.7h0M89.1 217.3h0M86.5 212.9h0M95.6 213.3h0M92.6 209.6h0M85.9 218.8h0M91.7 213.2h0M84.9 210.2h0M86.4 213.3h0M90.5 211.6h0M88.0 213.9h0M96.2 209.0h0M84.7 217.1h0M84.7 212.2h0M91.5 219.3h0M90.6 216.9h0M91.6 210.9h0M91.8 206.9h0M94.7 218.2h0M90.1 216.1h0M86.3 218.2h0M88.1 210.9h0M87.6 207.8h0M94.0 219.9h0M84.7 212.9h0M93.0 211.7h0M84.1 214.6h0M95.5 213.8h0M86.3 212.5h0M96.4 217.1h0M90.6 214.9h0M88.7 213.9h0M88.4 214.0h0M88.7 214.1h0M94.1 213.4h0M85.3 215.1h0M89.9 211.9h0M93.5 210.8h0M95.1 215.3h0M87.9 211.3h0M90.5 210.6h0M95.2 206.3h0M91.7 212.4h0M86.1 215.5h0M88.9 215.0h0M89.1 212.6h0M93.3 216.6h0M95.4 213.4h0M97.6 212.4h0M85.0 207.5h0M84.6 210.7h0M83.1 214.6h0M91.1 213.4h0M92.1 213.2h0M89.9 212.5h0M91.2 209.9h0M96.7 218.4h0M86.7 216.4h0M83.8 215.4h0M87.7 216.7h0M91.5 216.6h0M93.7 215.2h0M89.8 218.6h0M92.6 215.1h0M97.4 212.7h0M98.7 217.0h0M91.4 208.8h0M96.4 212.5h0M91.4 213.9h0M95.2 215.5h0M82.9 211.4h0M92.6 214.1h0M94.5 215.3h0M98.2 211.2h0M96.8 214.7h0M92.3 215.7h0M89.5 215.8h0M90.1 215.8h0M87.7 217.3h0M84.3 211.4h0M90.8 214.3h0M87.5 212.2h0M92.1 216.9h0M96.7 212.0h0M90.7 212.5h0M84.3 212.1h0M96.0 209.2h0M103.7 216.7h0M98.7 214.1h0M98.1 211.7h0M96.6 215.9h0M94.5 215.9h0M93.6 215.6h0M96.3 214.9h0M93.8 214.9h0M91.6 210.7h0M83.1 210.2h0M85.5 208.8h0M94.1 212.4h0M94.4 212.0h0M92.7 212.9h0M98.1 217.6h0M92.3 219.2h0M94.7 216.4h0M85.9 211.5h0M91.8 212.8h0M88.7 207.1h0M87.7 213.2h0M92.4 210.1h0M90.4 219.3h0M91.7 207.2h0M90.2 213.5h0M96.6 214.1h0M97.1 214.6h0M96.2 217.9h0M97.8 214.1h0M85.6 214.2h0M93.1 211.2h0M94.7 213.0h0M94.5 214.1h0M86.9 216.9h0M99.9 216.5h0M92.3 208.0h0M92.5 213.4h0M87.5 207.3h0M93.0 216.7h0M90.9 218.1h0M90.9 210.4h0M90.8 214.9h0M87.8 211.0h0M92.2 216.3h0M90.0 215.1h0M88.8 212.4h0M91.9 216.6h0M98.1 213.1h0M93.0 219.9h0M94.7 212.4h0M92.9 208.9h0M87.9 209.2h0M95.6 212.1h0M91.4 213.8h0M90.2 209.7h0M99.6 207.1h0M90.9 215.8h0M90.2 213.2h0M92.4 214.3h0M89.6 217.0h0M93.3 218.4h0M91.5 207.1h0M83.8 211.9h0M93.1 208.2h0M88.6 217.6h0M92.5 211.2h0M90.6 213.9h0M89.2 212.5h0M88.3 214.2h0M98.0 218.2h0M90.5 209.0h0M84.5 214.0h0M92.1 211.5h0M87.5 212.8h0M92.2 215.7h0M93.5 205.8h0M88.5 214.4h0M92.7 216.1h0M84.5 218.6h0M85.8 212.9h0M89.0 212.0h0M87.7 216.2h0M94.5 214.7h0M85.5 211.5h0M90.8 214.8h0M88.6 212.7h0M102.6 213.7h0M89.8 205.6h0M87.8 218.8h0M94.8 209.7h0M94.5 214.1h0M87.6 216.1h0M88.4 212.5h0M91.2 214.2h0M89.2 214.5h0M91.1 214.2h0M92.8 211.5h0M85.1 213.3h0M96.5 214.6h0M92.1 211.1h0M86.1 209.5h0M87.1 212.3h0M84.3 213.1h0M84.2 215.6h0M91.0 207.8h0M88.7 214.3h0M92.7 216.0h0M89.5 213.0h0M90.1 215.3h0M88.1 213.0h0M91.7 212.4h0M86.4 217.9h0M93.3 210.6h0M99.7 211.0h0M87.3 212.3h0M93.4 218.4h0M97.1 215.3h0M91.4 215.7h0M87.7 211.2h0M93.4 214.2h0M92.1 210.2h0M92.2 208.9h0M95.1 213.6h0M88.3 212.0h0M88.0 218.0h0M91.2 214.4h0M86.9 209.3h0M92.1 212.1h0M93.3 217.0h0M90.6 215.3h0M91.8 214.3h0M88.8 214.3h0M93.0 213.8h0M89.1 208.8h0M86.4 218.6h0M95.5 214.5h0M92.4 213.0h0M94.0 216.6h0M90.0 214.5h0M95.2 208.4h0M87.0 211.7h0M86.0 212.1h0M87.4 212.2h0M93.2 209.7h0M91.5 218.0h0M91.9 209.6h0M88.5 217.3h0M89.9 211.5h0M94.5 211.2h0M86.2 215.5h0M91.2 211.4h0M93.1 217.1h0M95.8 213.9h0M93.1 215.1h0M84.6 218.9h0M88.2 211.7h0M87.5 210.4h0M95.8 213.5h0M88.6 207.6h0M91.8 213.4h0M86.6 213.2h0M83.2 215.6h0M85.8 215.1h0M91.5 206.7h0M86.2 211.4h0M94.5 215.5h0M93.8 218.9h0M89.8 211.9h0M83.0 210.2h0M93.5 210.8h0M87.3 216.6h0M96.7 207.7h0M93.1 213.5h0M95.0 212.4h0M90.6 218.1h0M88.5 214.9h0M93.8 213.2h0M94.9 215.2h0M94.7 208.0h0M86.6 214.5h0M96.1 218.2h0M91.2 211.1h0M86.4 207.2h0M88.9 215.4h0M90.8 208.8h0M90.7 213.7h0M87.9 218.2h0M93.0 217.1h0M91.5 210.4h0M95.8 217.1h0M88.6 209.2h0M94.6 211.7h0M86.1 213.3h0M93.5 211.1h0M91.2 216.8h0M94.3 208.5h0M94.2 219.3h0M95.1 213.3h0M92.7 208.4h0M88.6 211.9h0M100.1 213.5h0M86.9 219.0h0M96.4 208.2h0M90.2 208.1h0M95.6 206.2h0M99.1 210.1h0M93.4 214.7h0M94.8 210.3h0M94.9 212.6h0M93.3 214.3h0M97.1 209.4h0M85.1 215.7h0M101.3 215.3h0M90.4 215.7h0M85.9 213.8h0M83.9 213.9h0M94.2 219.0h0M88.9 216.6h0M96.9 210.1h0M89.9 207.5h0M87.3 215.0h0M94.2 218.2h0M88.4 206.1h0M86.7 215.5h0M91.0 215.8h0M89.8 215.7h0M86.9 210.4h0M90.4 207.9h0M96.4 212.7h0M86.9 210.7h0M86.9 213.9h0M89.5 216.3h0M86.1 213.3h0M84.6 212.0h0M96.9 213.1h0M94.9 213.3h0M86.4 210.7h0M86.2 214.6h0M98.3 216.3h0M86.9 213.9h0M88.0 217.3h0M85.3 216.0h0M85.8 212.0h0M91.8 214.0h0M90.8 213.3h0M87.4 213.2h0M90.8 210.5h0M93.5 214.1h0M87.8 217.8h0M88.6 207.3h0M96.5 212.3h0M97.4 214.9h0M87.3 217.2h0M93.1 216.5h0M91.3 218.6h0M95.1 212.4h0M84.6 213.4h0M91.4 210.3h0M90.3 218.4h0M89.0 217.2h0M87.1 210.4h0M95.1 213.0h0M92.0 216.9h0M98.1 209.5h0M93.6 214.3h0M91.7 219.4h0M90.0 211.6h0M93.2 206.9h0M92.7 210.6h0M92.5 211.1h0M93.3 212.7h0M88.0 215.3h0M94.3 208.3h0M85.5 212.7h0M89.4 217.9h0M97.9 215.1h0M95.8 212.5h0M85.2 214.5h0M83.5 218.9h0M92.2 217.3h0M88.3 208.2h0M90.2 215.1h0M90.1 211.9h0M91.4 212.9h0M97.1 209.2h0M92.2 208.5h0M90.9 215.0h0M92.5 214.5h0M87.8 208.8h0M95.2 212.4h0M85.2 218.6h0M94.2 204.3h0M102.2 214.0h0M84.1 216.7h0M92.5 217.6h0M91.1 208.1h0M90.3 212.1h0M92.3 212.9h0M93.5 209.5h0M88.7 211.8h0M92.8 207.9h0M83.3 216.9h0M91.5 216.8h0M91.3 214.4h0M92.6 215.0h0M85.9 213.1h0M98.9 218.2h0M87.4 210.4h0M90.3 217.0h0M95.0 211.6h0M83.9 217.4h0M97.4 215.7h0M93.6 215.4h0M99.0 217.1h0M97.3 209.8h0M88.8 213.5h0M91.0 213.3h0M101.9 212.9h0M90.2 213.1h0M89.6 208.9h0M95.9 213.6h0M92.6 213.6h0M87.7 208.3h0M89.8 215.3h0M90.5 215.9h0M87.6 212.6h0M91.7 213.2h0M91.8 218.2h0M89.2 214.0h0M88.2 215.3h0M92.0 211.1h0M86.7 209.6h0M89.8 214.0h0M88.9 213.1h0M91.6 214.2h0M99.4 214.8h0M93.9 211.9h0M88.7 216.1h0M88.4 211.3h0M84.6 214.5h0M90.6 215.3h0M87.3 209.4h0M95.8 213.6h0M94.4 209.7h0M85.4 205.2h0M92.3 216.8h0M96.8 219.3h0M83.2 209.9h0M88.7 210.9h0M90.1 210.9h0M84.7 213.4h0M91.6 211.0h0M91.2 209.2h0M89.6 212.4h0M89.0 213.3h0M85.5 209.1h0M87.4 215.9h0M86.9 210.4h0M99.6 212.7h0M89.4 210.6h0M97.4 215.2h0M92.1 218.7h0M85.9 208.0h0M95.8 214.9h0M88.8 216.1h0M90.6 219.9h0M85.5 214.7h0M95.2 216.4h0M89.4 212.2h0M89.1 215.8h0M89.3 213.1h0M95.4 213.1h0M92.1 213.1h0M91.0 206.2h0M86.9 214.7h0M88.2 211.5h0M87.7 210.4h0M83.2 215.0h0" stroke="#666" stroke-width="0.8" stroke-linecap="round"/>
<path d="M89.8 212.2h0M88.6 217.2h0M93.4 215.5h0M93.9 217.2h0M88.5 216.7h0M90.5 216.6h0M85.8 215.5h0M88.3 213.5h0M89.9 214.4h0M95.7 214.4h0M90.8 217.4h0M95.1 211.9h0M91.0 210.9h0M91.7 218.3h0M88.2 213.7h0M94.0 215.7h0M92.7 213.3h0M88.9 213.5h0M95.3 210.4h0M88.3 218.7h0M89.8 211.5h0M90.8 213.9h0M89.6 215.9h0M92.7 210.4h0M90.7 218.6h0M85.5 214.2h0M86.1 216.3h0M87.1 213.6h0M88.6 215.7h0M85.6 210.7h0M90.6 218.2h0M88.3 215.6h0M90.9 214.8h0M89.9 213.0h0M89.2 217.8h0M91.5 218.0h0M87.5 214.8h0M87.8 210.9h0M93.0 213.7h0M90.8 210.6h0M89.1 214.2h0M88.7 217.3h0M91.5 214.9h0M90.8 213.3h0M87.6 213.7h0M86.6 214.0h0M89.6 217.6h0M88.2 214.9h0M89.9 212.8h0M89.8 209.7h0M93.7 212.9h0M89.9 209.5h0M91.9 211.0h0M94.6 211.6h0M87.5 216.3h0M94.3 209.1h0M84.3 218.9h0M91.5 210.3h0M88.5 216.4h0M88.7 218.6h0M87.6 215.0h0M93.9 218.6h0M90.8 216.1h0M88.9 214.3h0M88.1 215.6h0M92.8 211.7h0M86.1 214.6h0M96.7 215.1h0M90.4 214.4h0M84.4 212.5h0M95.0 208.7h0M96.0 211.2h0M95.0 214.1h0M92.0 213.0h0M88.5 215.1h0M88.9 211.5h0M89.0 216.3h0M87.4 215.5h0M85.5 214.8h0M86.1 216.6h0M86.5 216.2h0M83.3 215.0h0M93.7 212.2h0M90.2 212.1h0M91.6 216.6h0M93.8 218.2h0M94.3 212.5h0M90.4 216.0h0M90.6 210.9h0M90.2 207.3h0M96.1 214.0h0M97.6 211.6h0M91.7 216.7h0M85.1 213.6h0M91.6 216.3h0M91.3 207.3h0M95.3 210.2h0M91.3 217.1h0M86.7 210.1h0M90.9 213.3h0M89.6 213.9h0M89.6 215.3h0M88.2 214.4h0M88.1 212.1h0M91.1 212.2h0M91.8 214.4h0M93.6 216.1h0M83.2 214.4h0M92.2 214.8h0M90.1 217.5h0M92.2 210.8h0M90.3 217.3h0M90.5 211.0h0M92.6 216.2h0M93.8 215.0h0M90.3 216.9h0M86.3 219.2h0M91.3 215.1h0M92.5 216.7h0M89.6 212.3h0M93.0 217.1h0M91.2 212.8h0M90.3 211.8h0M98.4 212.7h0M92.9 219.0h0M87.1 213.0h0M85.5 214.9h0M89.2 214.5h0M90.1 213.2h0M90.3 214.3h0M87.6 213.6h0M88.0 210.9h0M89.9 209.3h0M91.7 214.4h0M90.5 217.7h0M93.2 213.3h0M91.1 217.8h0M89.4 215.5h0M91.4 211.6h0M90.9 213.4h0M89.1 215.7h0M92.2 212.0h0M89.1 213.9h0M86.8 215.5h0M89.3 212.5h0M93.1 214.3h0M86.1 214.2h0M89.3 215.3h0M97.5 216.0h0M94.8 214.0h0M91.5 215.9h0M89.6 215.2h0M88.4 216.4h0M86.9 219.2h0M89.5 215.5h0M90.4 210.0h0M91.4 212.0h0M90.6 213.3h0M89.0 210.3h0M85.6 212.9h0M86.4 215.2h0M85.3 215.1h0M91.8 212.4h0M86.7 213.5h0M92.6 218.3h0M97.2 214.7h0M92.0 215.0h0M89.9 211.5h0M88.8 217.6h0M94.6 212.8h0M84.5 219.7h0M90.1 215.7h0M89.4 209.5h0M91.0 211.8h0M89.0 212.8h0M95.0 209.1h0M84.8 213.1h0M87.7 216.6h0M95.2 212.5h0M91.9 213.9h0M83.3 217.7h0M95.8 212.2h0M92.1 213.1h0M89.6 213.2h0M89.5 214.6h0M87.9 215.3h0M85.6 216.7h0M86.8 209.3h0M92.7 213.5h0M88.2 217.0h0M89.8 219.9h0M91.4 210.5h0M88.3 212.6h0M89.0 219.2h0M99.1 219.2h0M91.5 216.0h0M90.5 208.3h0M88.2 214.4h0M87.6 213.9h0M87.0 211.3h0M94.0 209.1h0M93.4 211.3h0M89.1 208.9h0M92.1 211.7h0M98.3 211.9h0M90.8 216.3h0M86.7 212.2h0M86.4 216.0h0M90.9 217.3h0M85.1 211.9h0M89.6 213.2h0M91.0 217.6h0M90.4 212.3h0M89.8 212.5h0M87.8 219.7h0M92.2 219.6h0M89.2 214.3h0M85.7 215.2h0M92.4 216.4h0M86.1 214.8h0M93.0 213.2h0M92.3 213.1h0M89.9 212.9h0M85.0 212.2h0M90.5 213.7h0M89.9 212.9h0M92.9 214.0h0M91.3 213.2h0M94.3 214.2h0M91.4 210.2h0M87.7 215.4h0M85.5 210.4h0M89.6 210.1h0M93.6 215.7h0M88.9 217.8h0M87.7 211.2h0M93.0 214.5h0M89.2 217.4h0M89.5 216.3h0M90.7 217.7h0M91.8 213.2h0M95.0 213.5h0M95.8 211.0h0M90.1 208.3h0M91.7 218.2h0M88.6 215.8h0M89.2 218.5h0M91.1 215.5h0M93.7 210.3h0M92.3 214.9h0M94.3 214.6h0M92.0 214.3h0M86.7 213.1h0M89.4 210.8h0M89.8 213.2h0M96.1 213.8h0M90.4 214.8h0M92.3 210.0h0M84.1 218.9h0M87.2 212.0h0M93.9 215.3h0M87.3 216.6h0M86.2 219.0h0M88.9 215.4h0M89.9 219.8h0M86.8 214.2h0M97.2 208.8h0M88.3 215.3h0M89.3 215.7h0M93.9 211.3h0M87.8 218.1h0M96.5 207.1h0M91.8 217.3h0M87.7 212.1h0M86.2 213.9h0M86.1 216.5h0M87.7 215.9h0M84.7 217.0h0M92.2 217.1h0M93.2 214.6h0M95.4 213.5h0M90.5 219.0h0M88.4 214.5h0M90.8 215.0h0M89.2 217.3h0M97.2 213.4h0M85.1 213.2h0M85.4 211.0h0M86.5 217.4h0M90.5 216.5h0M89.6 217.3h0M88.6 218.1h0M93.0 215.1h0M85.1 211.4h0M90.9 211.6h0M89.4 214.1h0M94.6 212.6h0M90.4 213.2h0M87.5 215.7h0M93.2 210.5h0M90.5 215.9h0M86.5 213.4h0M91.0 214.3h0M94.6 212.1h0M89.2 216.0h0M89.8 213.8h0M89.6 215.6h0M92.5 211.6h0M87.0 211.4h0M91.5 209.4h0M98.2 213.0h0M90.0 215.9h0M89.4 213.8h0M96.9 209.0h0M90.9 212.5h0M88.9 214.3h0M83.9 216.2h0M90.7 216.0h0M88.0 216.6h0M88.4 216.6h0M94.5 216.2h0M85.2 214.7h0M86.5 219.9h0M90.7 211.0h0M84.9 218.2h0M86.7 215.6h0M88.9 214.1h0M88.5 214.5h0M95.4 212.1h0M91.7 215.8h0M87.8 211.5h0M87.0 216.1h0M90.6 217.3h0M91.2 214.8h0M90.1 215.1h0M90.2 216.4h0M87.1 217.5h0M95.5 214.3h0M91.9 211.3h0M90.4 210.6h0M93.3 214.6h0M93.6 217.6h0M87.6 216.8h0M89.7 216.0h0M87.9 216.3h0M92.0 218.5h0M89.5 214.7h0M91.7 214.0h0M96.9 208.4h0M84.3 213.1h0M92.3 214.6h0M91.4 210.3h0M92.0 216.0h0M95.5 216.8h0M88.0 212.5h0M86.2 213.2h0M89.7 218.0h0M95.6 214.7h0M92.0 214.1h0M85.7 216.0h0M87.6 210.1h0M87.2 218.6h0M86.1 218.3h0M85.4 214.3h0M91.7 213.4h0M86.8 214.5h0M95.6 216.3h0M90.7 216.1h0M94.0 218.2h0M89.1 212.1h0M86.7 214.7h0M89.0 214.5h0M87.7 218.4h0M87.1 212.4h0M86.1 211.5h0M84.5 212.3h0M89.2 216.4h0M84.0 215.7h0M89.6 214.5h0M82.8 215.8h0M92.3 217.7h0M89.0 217.9h0M90.3 212.0h0M91.8 217.2h0M90.8 214.4h0M89.2 216.4h0M83.9 215.3h0M85.7 213.1h0M90.7 217.9h0M90.0 212.0h0M99.2 215.4h0M87.5 212.9h0M90.4 210.8h0M92.9 214.8h0M88.6 215.1h0M86.1 215.1h0M91.2 217.8h0M96.8 212.8h0M91.3 212.4h0M90.4 217.7h0M92.2 213.7h0M96.1 217.0h0M94.2 214.7h0M94.5 214.1h0M93.0 214.6h0M90.0 210.3h0M93.3 216.1h0M87.9 214.7h0M92.1 216.3h0M83.0 218.6h0M86.5 219.7h0M93.9 214.9h0M90.7 215.3h0M88.6 218.7h0M87.7 213.1h0M89.2 210.2h0M93.5 211.3h0M95.2 217.1h0M96.9 212.9h0M89.0 213.3h0M92.7 212.1h0M88.9 208.2h0M90.2 215.1h0M96.8 212.2h0M93.3 216.1h0M93.0 211.5h0M93.3 215.0h0M87.6 213.4h0M95.3 209.9h0M91.2 218.7h0M92.5 214.4h0M88.1 209.5h0M91.8 212.8h0M88.7 215.4h0M83.0 214.3h0M89.6 217.6h0M86.6 210.1h0M93.1 213.6h0M85.4 217.5h0M91.8 209.8h0M90.4 210.8h0M87.2 218.4h0M95.2 216.4h0M84.8 216.8h0M87.2 213.1h0M88.3 217.5h0M91.8 216.1h0M88.5 213.1h0M93.7 212.8h0M89.1 216.1h0M89.4 217.3h0M92.0 216.3h0M98.0 213.0h0M97.3 210.9h0M87.3 207.6h0M87.7 212.3h0M92.5 218.1h0M98.1 213.0h0M93.7 214.0h0M83.6 202.8h0M88.8 209.1h0M93.0 211.9h0M92.3 212.6h0M91.7 211.8h0M91.4 219.6h0M91.3 210.7h0M87.3 214.9h0M92.8 211.0h0M86.9 210.0h0M96.1 215.3h0M91.2 213.3h0M96.7 216.1h0M89.7 218.0h0M92.1 213.7h0" stroke="#555" stroke-width="0.6" stroke-linecap="round"/>
<rect x="82.40" y="175.40" width="55.20" height="44.90" fill="none" stroke="#333" stroke-width="0.6"/>
<line x1="103.20" y1="175.40" x2="103.20" y2="220.30" stroke="#555" stroke-width="0.5"/>
<line x1="82.40" y1="202.10" x2="137.60" y2="202.10" stroke="#555" stroke-width="0.5"/>
<text x="100.90" y="173.20" font-size="4.6" text-anchor="middle" font-weight="normal" fill="#222" textLength="14.6" lengthAdjust="spacingAndGlyphs">Tertiary</text>
<text x="103.60" y="178.60" font-size="4.6" text-anchor="middle" font-weight="normal" fill="#222" textLength="19.4" lengthAdjust="spacingAndGlyphs">Transplant</text>
<text x="131.00" y="211.00" font-size="3.3" text-anchor="middle" font-weight="normal" fill="#333" textLength="8.2" lengthAdjust="spacingAndGlyphs" stroke="#333" stroke-width="0.20" text-rendering="geometricPrecision">3.33%</text>
<text transform="translate(15.80 175.80) rotate(50)" font-size="2.8" text-anchor="middle" dy="0.98" fill="#222" stroke="#222" stroke-width="0.2" text-rendering="geometricPrecision">10</text>
<text transform="translate(19.90 222.80) rotate(-50)" font-size="2.8" text-anchor="middle" dy="0.98" fill="#222" stroke="#222" stroke-width="0.2" text-rendering="geometricPrecision">10</text>
<text transform="translate(15.80 187.00) rotate(50)" font-size="2.8" text-anchor="middle" dy="0.98" fill="#222" stroke="#222" stroke-width="0.2" text-rendering="geometricPrecision">10</text>
<text transform="translate(33.12 222.80) rotate(-50)" font-size="2.8" text-anchor="middle" dy="0.98" fill="#222" stroke="#222" stroke-width="0.2" text-rendering="geometricPrecision">10</text>
<text transform="translate(15.80 198.20) rotate(50)" font-size="2.8" text-anchor="middle" dy="0.98" fill="#222" stroke="#222" stroke-width="0.2" text-rendering="geometricPrecision">10</text>
<text transform="translate(46.35 222.80) rotate(-50)" font-size="2.8" text-anchor="middle" dy="0.98" fill="#222" stroke="#222" stroke-width="0.2" text-rendering="geometricPrecision">10</text>
<text transform="translate(15.80 209.40) rotate(50)" font-size="2.8" text-anchor="middle" dy="0.98" fill="#222" stroke="#222" stroke-width="0.2" text-rendering="geometricPrecision">10</text>
<text transform="translate(59.57 222.80) rotate(-50)" font-size="2.8" text-anchor="middle" dy="0.98" fill="#222" stroke="#222" stroke-width="0.2" text-rendering="geometricPrecision">10</text>
<text transform="translate(15.80 220.60) rotate(50)" font-size="2.8" text-anchor="middle" dy="0.98" fill="#222" stroke="#222" stroke-width="0.2" text-rendering="geometricPrecision">10</text>
<text transform="translate(72.80 222.80) rotate(-50)" font-size="2.8" text-anchor="middle" dy="0.98" fill="#222" stroke="#222" stroke-width="0.2" text-rendering="geometricPrecision">10</text>
<text transform="translate(78.80 175.80) rotate(50)" font-size="2.8" text-anchor="middle" dy="0.98" fill="#222" stroke="#222" stroke-width="0.2" text-rendering="geometricPrecision">10</text>
<text transform="translate(82.90 222.80) rotate(-50)" font-size="2.8" text-anchor="middle" dy="0.98" fill="#222" stroke="#222" stroke-width="0.2" text-rendering="geometricPrecision">10</text>
<text transform="translate(78.80 187.00) rotate(50)" font-size="2.8" text-anchor="middle" dy="0.98" fill="#222" stroke="#222" stroke-width="0.2" text-rendering="geometricPrecision">10</text>
<text transform="translate(96.45 222.80) rotate(-50)" font-size="2.8" text-anchor="middle" dy="0.98" fill="#222" stroke="#222" stroke-width="0.2" text-rendering="geometricPrecision">10</text>
<text transform="translate(78.80 198.20) rotate(50)" font-size="2.8" text-anchor="middle" dy="0.98" fill="#222" stroke="#222" stroke-width="0.2" text-rendering="geometricPrecision">10</text>
<text transform="translate(110.00 222.80) rotate(-50)" font-size="2.8" text-anchor="middle" dy="0.98" fill="#222" stroke="#222" stroke-width="0.2" text-rendering="geometricPrecision">10</text>
<text transform="translate(78.80 209.40) rotate(50)" font-size="2.8" text-anchor="middle" dy="0.98" fill="#222" stroke="#222" stroke-width="0.2" text-rendering="geometricPrecision">10</text>
<text transform="translate(123.55 222.80) rotate(-50)" font-size="2.8" text-anchor="middle" dy="0.98" fill="#222" stroke="#222" stroke-width="0.2" text-rendering="geometricPrecision">10</text>
<text transform="translate(78.80 220.60) rotate(50)" font-size="2.8" text-anchor="middle" dy="0.98" fill="#222" stroke="#222" stroke-width="0.2" text-rendering="geometricPrecision">10</text>
<text transform="translate(137.10 222.80) rotate(-50)" font-size="2.8" text-anchor="middle" dy="0.98" fill="#222" stroke="#222" stroke-width="0.2" text-rendering="geometricPrecision">10</text>
<text transform="translate(6.20 201.40) rotate(-90)" font-size="5.2" text-anchor="middle" font-weight="normal" fill="#111" textLength="25.0" lengthAdjust="spacingAndGlyphs" stroke="#111" stroke-width="0.12">FL2-Height</text>
<text x="77.20" y="237.50" font-size="5.9" text-anchor="middle" font-weight="normal" fill="#111" textLength="14.8" lengthAdjust="spacingAndGlyphs" stroke="#111" stroke-width="0.12">CD45</text>
<text x="214.90" y="115.80" font-size="4.4" text-anchor="middle" font-weight="normal" fill="#111" textLength="52.5" lengthAdjust="spacingAndGlyphs" stroke="#111" stroke-width="0.11" text-rendering="geometricPrecision">Tertiary Transplant Lineages</text>
<path d="M151.1 167.20V167.2h0.5V167.2h0.5V165.8h0.5V166.4h0.5V165.2h0.5V165.2h0.5V165.9h0.5V165.3h0.5V166.3h0.5V165.3h0.5V165.3h0.5V165.5h0.5V166.7h0.5V166.1h0.5V165.6h0.5V165.3h0.5V165.8h0.5V165.5h0.5V165.9h0.5V165.7h0.5V166.1h0.5V166.2h0.5V165.2h0.5V165.7h0.5V166.1h0.5V166.1h0.5V166.0h0.5V165.8h0.5V166.3h0.5V165.9h0.5V166.0h0.5V166.0h0.5V166.0h0.5V166.4h0.5V165.2h0.5V166.1h0.5V165.4h0.5V165.1h0.5V166.0h0.5V166.0h0.5V165.5h0.5V165.1h0.5V165.8h0.5V165.6h0.5V166.3h0.5V166.1h0.5V165.9h0.5V165.6h0.5V166.0h0.5V165.4h0.5V165.3h0.5V166.2h0.5V165.8h0.5V166.3h0.5V165.3h0.5V164.7h0.5V164.0h0.5V165.6h0.5V164.1h0.5V164.4h0.5V162.7h0.5V165.8h0.5V164.8h0.5V165.7h0.5V165.4h0.5V165.5h0.5V166.2h0.5V165.0h0.5V165.2h0.5V166.0h0.5V166.2h0.5V165.4h0.5V166.0h0.5V165.2h0.5V165.2h0.5V163.6h0.5V165.0h0.5V164.4h0.5V165.1h0.5V164.3h0.5V165.7h0.5V164.9h0.5V165.0h0.5V164.3h0.5V163.6h0.5V164.5h0.5V163.0h0.5V165.3h0.5V163.6h0.5V164.6h0.5V165.1h0.5V164.7h0.5V164.5h0.5V164.0h0.5V163.9h0.5V162.6h0.5V162.5h0.5V163.9h0.5V162.2h0.5V162.8h0.5V166.7h0.5V161.3h0.5V160.7h0.5V161.8h0.5V162.3h0.5V159.7h0.5V158.9h0.5V161.1h0.5V159.2h0.5V161.0h0.5V162.8h0.5V160.9h0.5V159.6h0.5V162.1h0.5V162.9h0.5V159.7h0.5V157.9h0.5V159.1h0.5V156.2h0.5V154.1h0.5V154.2h0.5V160.1h0.5V159.0h0.5V157.7h0.5V160.9h0.5V153.9h0.5V155.7h0.5V153.6h0.5V159.5h0.5V158.5h0.5V158.4h0.5V161.9h0.5V155.2h0.5V157.6h0.5V155.2h0.5V162.6h0.5V160.9h0.5V159.7h0.5V160.7h0.5V161.9h0.5V162.7h0.5V162.0h0.5V163.6h0.5V162.6h0.5V163.8h0.5V159.3h0.5V161.1h0.5V162.2h0.5V163.3h0.5V161.7h0.5V163.5h0.5V161.3h0.5V161.5h0.5V164.3h0.5V161.7h0.5V164.1h0.5V161.8h0.5V164.7h0.5V166.7h0.5V164.9h0.5V162.5h0.5V163.8h0.5V163.5h0.5V164.3h0.5V163.7h0.5V164.6h0.5V164.4h0.5V164.0h0.5V163.6h0.5V163.2h0.5V167.2h0.5V167.2h0.5V167.2h0.5V167.2h0.5V167.2h0.5V167.2h0.5V167.2h0.5V167.2h0.5V167.2h0.5V167.2h0.5V167.2h0.5V167.2h0.5V167.2h0.5V167.2h0.5V167.2h0.5V167.2h0.5V167.2h0.5V167.2h0.5V167.2h0.5V167.2h0.5V167.2h0.5V167.2h0.5V167.2h0.5V167.2h0.5V167.2h0.5V167.2h0.5V167.2h0.5V167.2h0.5V167.2h0.5V167.2h0.5V167.2h0.5V167.2h0.5V167.2h0.5V167.2h0.5V167.2h0.5V167.2h0.5V167.2h0.5V167.2h0.5V167.2h0.5V167.2h0.5V167.2h0.5V167.2h0.5V167.2h0.5V167.2h0.5V167.2h0.5V167.2h0.5V167.2h0.5V167.2h0.5V167.2h0.5V167.2h0.5V167.2h0.5V167.2h0.5V167.2h0.5V167.2h0.5V167.2h0.5V167.2h0.5V167.2h0.5V167.2h0.5V167.2h0.5V167.2h0.5V167.2h0.5V167.2h0.5V167.2h0.5V167.2h0.5V167.2h0.5V167.2h0.5V167.2h0.5V167.2h0.5V167.2h0.5V167.2h0.5V167.2h0.5V167.2h0.5V167.2h0.5V167.2h0.5V167.2h0.5V167.2h0.5V167.2h0.5V167.2h0.5V167.2h0.5V167.20Z" fill="#1a1a1a" stroke="none"/>
<rect x="151.10" y="117.50" width="124.30" height="49.70" fill="none" stroke="#444" stroke-width="0.6"/>
<line x1="151.10" y1="141.20" x2="197.20" y2="141.20" stroke="#555" stroke-width="0.55"/>
<line x1="197.20" y1="139.20" x2="197.20" y2="149.30" stroke="#555" stroke-width="0.55"/>
<line x1="151.30" y1="140.00" x2="151.30" y2="142.40" stroke="#555" stroke-width="0.5"/>
<line x1="197.20" y1="146.50" x2="275.40" y2="146.50" stroke="#555" stroke-width="0.55"/>
<line x1="275.10" y1="145.00" x2="275.10" y2="148.00" stroke="#555" stroke-width="0.5"/>
<text x="176.40" y="144.60" font-size="2.3" text-anchor="middle" font-weight="normal" fill="#333" stroke="#333" stroke-width="0.14" text-rendering="geometricPrecision">M1</text>
<text x="237.90" y="149.80" font-size="2.3" text-anchor="middle" font-weight="normal" fill="#333" stroke="#333" stroke-width="0.14" text-rendering="geometricPrecision">M2</text>
<text x="211.80" y="124.20" font-size="4.2" text-anchor="middle" font-weight="normal" fill="#111" textLength="9.5" lengthAdjust="spacingAndGlyphs" stroke="#111" stroke-width="0.11" text-rendering="geometricPrecision">CD33</text>
<text x="211.00" y="144.70" font-size="4.0" text-anchor="middle" font-weight="normal" fill="#111" textLength="7.6" lengthAdjust="spacingAndGlyphs" stroke="#111" stroke-width="0.10" text-rendering="geometricPrecision">67%</text>
<text transform="translate(152.20 169.60) rotate(-50)" font-size="2.4" text-anchor="middle" dy="0.84" fill="#222" stroke="#222" stroke-width="0.2" text-rendering="geometricPrecision">10</text>
<text transform="translate(183.30 169.60) rotate(-50)" font-size="2.4" text-anchor="middle" dy="0.84" fill="#222" stroke="#222" stroke-width="0.2" text-rendering="geometricPrecision">10</text>
<text transform="translate(214.00 169.60) rotate(-50)" font-size="2.4" text-anchor="middle" dy="0.84" fill="#222" stroke="#222" stroke-width="0.2" text-rendering="geometricPrecision">10</text>
<text transform="translate(244.60 169.60) rotate(-50)" font-size="2.4" text-anchor="middle" dy="0.84" fill="#222" stroke="#222" stroke-width="0.2" text-rendering="geometricPrecision">10</text>
<text transform="translate(275.20 169.60) rotate(-50)" font-size="2.4" text-anchor="middle" dy="0.84" fill="#222" stroke="#222" stroke-width="0.2" text-rendering="geometricPrecision">10</text>
<line x1="150.20" y1="117.50" x2="151.10" y2="117.50" stroke="#555" stroke-width="0.35"/>
<line x1="150.50" y1="120.61" x2="151.10" y2="120.61" stroke="#555" stroke-width="0.35"/>
<line x1="150.50" y1="123.71" x2="151.10" y2="123.71" stroke="#555" stroke-width="0.35"/>
<line x1="150.50" y1="126.82" x2="151.10" y2="126.82" stroke="#555" stroke-width="0.35"/>
<line x1="150.20" y1="129.93" x2="151.10" y2="129.93" stroke="#555" stroke-width="0.35"/>
<line x1="150.50" y1="133.03" x2="151.10" y2="133.03" stroke="#555" stroke-width="0.35"/>
<line x1="150.50" y1="136.14" x2="151.10" y2="136.14" stroke="#555" stroke-width="0.35"/>
<line x1="150.50" y1="139.24" x2="151.10" y2="139.24" stroke="#555" stroke-width="0.35"/>
<line x1="150.20" y1="142.35" x2="151.10" y2="142.35" stroke="#555" stroke-width="0.35"/>
<line x1="150.50" y1="145.46" x2="151.10" y2="145.46" stroke="#555" stroke-width="0.35"/>
<line x1="150.50" y1="148.56" x2="151.10" y2="148.56" stroke="#555" stroke-width="0.35"/>
<line x1="150.50" y1="151.67" x2="151.10" y2="151.67" stroke="#555" stroke-width="0.35"/>
<line x1="150.20" y1="154.77" x2="151.10" y2="154.77" stroke="#555" stroke-width="0.35"/>
<line x1="150.50" y1="157.88" x2="151.10" y2="157.88" stroke="#555" stroke-width="0.35"/>
<line x1="150.50" y1="160.99" x2="151.10" y2="160.99" stroke="#555" stroke-width="0.35"/>
<line x1="150.50" y1="164.09" x2="151.10" y2="164.09" stroke="#555" stroke-width="0.35"/>
<line x1="150.20" y1="167.20" x2="151.10" y2="167.20" stroke="#555" stroke-width="0.35"/>
<text x="147.90" y="118.50" font-size="3.0" text-anchor="middle" font-weight="normal" fill="#333" stroke="#333" stroke-width="0.18" text-rendering="geometricPrecision">8</text>
<text x="147.90" y="130.93" font-size="3.0" text-anchor="middle" font-weight="normal" fill="#333" stroke="#333" stroke-width="0.18" text-rendering="geometricPrecision">6</text>
<text x="147.90" y="143.35" font-size="3.0" text-anchor="middle" font-weight="normal" fill="#333" stroke="#333" stroke-width="0.18" text-rendering="geometricPrecision">4</text>
<text x="147.90" y="155.77" font-size="3.0" text-anchor="middle" font-weight="normal" fill="#333" stroke="#333" stroke-width="0.18" text-rendering="geometricPrecision">2</text>
<text x="147.90" y="168.20" font-size="3.0" text-anchor="middle" font-weight="normal" fill="#333" stroke="#333" stroke-width="0.18" text-rendering="geometricPrecision">0</text>
<path d="M151.1 229.10V229.1h0.5V229.1h0.5V229.1h0.5V229.1h0.5V229.1h0.5V229.1h0.5V229.1h0.5V229.1h0.5V229.1h0.5V229.1h0.5V229.1h0.5V229.1h0.5V229.1h0.5V229.1h0.5V227.3h0.5V226.9h0.5V228.0h0.5V228.0h0.5V226.8h0.5V228.2h0.5V227.6h0.5V227.9h0.5V227.4h0.5V227.8h0.5V222.9h0.5V226.3h0.5V222.7h0.5V221.6h0.5V224.4h0.5V221.8h0.5V222.7h0.5V224.8h0.5V218.1h0.5V224.9h0.5V223.7h0.5V224.9h0.5V224.1h0.5V218.3h0.5V221.4h0.5V215.3h0.5V215.3h0.5V222.6h0.5V221.0h0.5V222.1h0.5V216.4h0.5V228.6h0.5V215.6h0.5V223.3h0.5V221.1h0.5V222.2h0.5V224.3h0.5V220.8h0.5V218.8h0.5V221.8h0.5V223.6h0.5V222.7h0.5V224.5h0.5V225.7h0.5V224.6h0.5V224.4h0.5V222.5h0.5V224.7h0.5V222.6h0.5V226.3h0.5V225.7h0.5V216.1h0.5V224.1h0.5V226.7h0.5V225.4h0.5V225.7h0.5V227.1h0.5V227.5h0.5V227.9h0.5V226.7h0.5V227.5h0.5V228.0h0.5V227.4h0.5V227.5h0.5V228.1h0.5V228.2h0.5V227.5h0.5V227.1h0.5V227.7h0.5V227.3h0.5V227.9h0.5V227.1h0.5V227.0h0.5V227.5h0.5V226.8h0.5V227.7h0.5V227.7h0.5V228.6h0.5V227.7h0.5V227.0h0.5V227.0h0.5V227.6h0.5V227.6h0.5V227.3h0.5V228.2h0.5V227.5h0.5V226.9h0.5V228.1h0.5V228.1h0.5V227.5h0.5V228.2h0.5V228.4h0.5V228.4h0.5V228.0h0.5V227.9h0.5V225.1h0.5V228.6h0.5V228.5h0.5V228.5h0.5V228.0h0.5V228.2h0.5V228.3h0.5V228.6h0.5V228.1h0.5V227.9h0.5V228.5h0.5V225.6h0.5V228.6h0.5V228.0h0.5V228.5h0.5V228.6h0.5V228.0h0.5V228.2h0.5V228.4h0.5V225.6h0.5V227.9h0.5V228.5h0.5V228.1h0.5V228.2h0.5V228.4h0.5V227.9h0.5V228.4h0.5V228.5h0.5V228.5h0.5V228.6h0.5V228.4h0.5V228.0h0.5V223.9h0.5V228.5h0.5V228.5h0.5V228.1h0.5V228.1h0.5V229.1h0.5V229.1h0.5V229.1h0.5V229.1h0.5V229.1h0.5V229.1h0.5V229.1h0.5V229.1h0.5V229.1h0.5V229.1h0.5V229.1h0.5V229.1h0.5V229.1h0.5V229.1h0.5V229.1h0.5V229.1h0.5V229.1h0.5V229.1h0.5V229.1h0.5V229.1h0.5V229.1h0.5V229.1h0.5V229.1h0.5V229.1h0.5V229.1h0.5V229.1h0.5V229.1h0.5V229.1h0.5V229.1h0.5V229.1h0.5V229.1h0.5V229.1h0.5V229.1h0.5V229.1h0.5V229.1h0.5V229.1h0.5V229.1h0.5V229.1h0.5V229.1h0.5V229.1h0.5V229.1h0.5V229.1h0.5V229.1h0.5V229.1h0.5V229.1h0.5V229.1h0.5V229.1h0.5V229.1h0.5V229.1h0.5V229.1h0.5V229.1h0.5V229.1h0.5V229.1h0.5V229.1h0.5V229.1h0.5V229.1h0.5V229.1h0.5V229.1h0.5V229.1h0.5V229.1h0.5V229.1h0.5V229.1h0.5V229.1h0.5V229.1h0.5V229.1h0.5V229.1h0.5V229.1h0.5V229.1h0.5V229.1h0.5V229.1h0.5V229.1h0.5V229.1h0.5V229.1h0.5V229.1h0.5V229.1h0.5V229.1h0.5V229.1h0.5V229.1h0.5V229.1h0.5V229.1h0.5V229.1h0.5V229.1h0.5V229.1h0.5V229.1h0.5V229.1h0.5V229.1h0.5V229.1h0.5V229.1h0.5V229.1h0.5V229.1h0.5V229.1h0.5V229.1h0.5V229.1h0.5V229.1h0.5V229.1h0.5V229.1h0.5V229.1h0.5V229.1h0.5V229.1h0.5V229.1h0.5V229.1h0.5V229.1h0.5V229.1h0.5V229.10Z" fill="#1a1a1a" stroke="none"/>
<rect x="151.10" y="176.40" width="124.30" height="52.70" fill="none" stroke="#444" stroke-width="0.6"/>
<line x1="151.10" y1="199.30" x2="185.60" y2="199.30" stroke="#555" stroke-width="0.55"/>
<line x1="185.60" y1="197.30" x2="185.60" y2="209.20" stroke="#555" stroke-width="0.55"/>
<line x1="151.30" y1="198.10" x2="151.30" y2="200.50" stroke="#555" stroke-width="0.5"/>
<line x1="185.60" y1="206.40" x2="275.40" y2="206.40" stroke="#555" stroke-width="0.55"/>
<line x1="275.10" y1="204.90" x2="275.10" y2="207.90" stroke="#555" stroke-width="0.5"/>
<text x="170.60" y="203.10" font-size="2.3" text-anchor="middle" font-weight="normal" fill="#333" stroke="#333" stroke-width="0.14" text-rendering="geometricPrecision">M1</text>
<text x="232.30" y="210.10" font-size="2.3" text-anchor="middle" font-weight="normal" fill="#333" stroke="#333" stroke-width="0.14" text-rendering="geometricPrecision">M2</text>
<text x="211.80" y="183.20" font-size="4.2" text-anchor="middle" font-weight="normal" fill="#111" textLength="9.5" lengthAdjust="spacingAndGlyphs" stroke="#111" stroke-width="0.11" text-rendering="geometricPrecision">CD19</text>
<text x="211.00" y="202.80" font-size="4.0" text-anchor="middle" font-weight="normal" fill="#111" textLength="7.6" lengthAdjust="spacingAndGlyphs" stroke="#111" stroke-width="0.10" text-rendering="geometricPrecision">21%</text>
<text transform="translate(152.20 231.50) rotate(-50)" font-size="2.4" text-anchor="middle" dy="0.84" fill="#222" stroke="#222" stroke-width="0.2" text-rendering="geometricPrecision">10</text>
<text transform="translate(183.30 231.50) rotate(-50)" font-size="2.4" text-anchor="middle" dy="0.84" fill="#222" stroke="#222" stroke-width="0.2" text-rendering="geometricPrecision">10</text>
<text transform="translate(214.00 231.50) rotate(-50)" font-size="2.4" text-anchor="middle" dy="0.84" fill="#222" stroke="#222" stroke-width="0.2" text-rendering="geometricPrecision">10</text>
<text transform="translate(244.60 231.50) rotate(-50)" font-size="2.4" text-anchor="middle" dy="0.84" fill="#222" stroke="#222" stroke-width="0.2" text-rendering="geometricPrecision">10</text>
<text transform="translate(275.20 231.50) rotate(-50)" font-size="2.4" text-anchor="middle" dy="0.84" fill="#222" stroke="#222" stroke-width="0.2" text-rendering="geometricPrecision">10</text>
<line x1="150.20" y1="176.40" x2="151.10" y2="176.40" stroke="#555" stroke-width="0.35"/>
<line x1="150.50" y1="179.69" x2="151.10" y2="179.69" stroke="#555" stroke-width="0.35"/>
<line x1="150.50" y1="182.99" x2="151.10" y2="182.99" stroke="#555" stroke-width="0.35"/>
<line x1="150.50" y1="186.28" x2="151.10" y2="186.28" stroke="#555" stroke-width="0.35"/>
<line x1="150.20" y1="189.57" x2="151.10" y2="189.57" stroke="#555" stroke-width="0.35"/>
<line x1="150.50" y1="192.87" x2="151.10" y2="192.87" stroke="#555" stroke-width="0.35"/>
<line x1="150.50" y1="196.16" x2="151.10" y2="196.16" stroke="#555" stroke-width="0.35"/>
<line x1="150.50" y1="199.46" x2="151.10" y2="199.46" stroke="#555" stroke-width="0.35"/>
<line x1="150.20" y1="202.75" x2="151.10" y2="202.75" stroke="#555" stroke-width="0.35"/>
<line x1="150.50" y1="206.04" x2="151.10" y2="206.04" stroke="#555" stroke-width="0.35"/>
<line x1="150.50" y1="209.34" x2="151.10" y2="209.34" stroke="#555" stroke-width="0.35"/>
<line x1="150.50" y1="212.63" x2="151.10" y2="212.63" stroke="#555" stroke-width="0.35"/>
<line x1="150.20" y1="215.93" x2="151.10" y2="215.93" stroke="#555" stroke-width="0.35"/>
<line x1="150.50" y1="219.22" x2="151.10" y2="219.22" stroke="#555" stroke-width="0.35"/>
<line x1="150.50" y1="222.51" x2="151.10" y2="222.51" stroke="#555" stroke-width="0.35"/>
<line x1="150.50" y1="225.81" x2="151.10" y2="225.81" stroke="#555" stroke-width="0.35"/>
<line x1="150.20" y1="229.10" x2="151.10" y2="229.10" stroke="#555" stroke-width="0.35"/>
<text x="147.90" y="177.40" font-size="3.0" text-anchor="middle" font-weight="normal" fill="#333" stroke="#333" stroke-width="0.18" text-rendering="geometricPrecision">8</text>
<text x="147.90" y="190.57" font-size="3.0" text-anchor="middle" font-weight="normal" fill="#333" stroke="#333" stroke-width="0.18" text-rendering="geometricPrecision">6</text>
<text x="147.90" y="203.75" font-size="3.0" text-anchor="middle" font-weight="normal" fill="#333" stroke="#333" stroke-width="0.18" text-rendering="geometricPrecision">4</text>
<text x="147.90" y="216.93" font-size="3.0" text-anchor="middle" font-weight="normal" fill="#333" stroke="#333" stroke-width="0.18" text-rendering="geometricPrecision">2</text>
<text x="147.90" y="230.10" font-size="3.0" text-anchor="middle" font-weight="normal" fill="#333" stroke="#333" stroke-width="0.18" text-rendering="geometricPrecision">0</text>
<path d="M151.1 294.60V294.6h0.5V291.8h0.5V292.0h0.5V292.0h0.5V289.9h0.5V291.2h0.5V290.4h0.5V290.4h0.5V289.9h0.5V291.0h0.5V294.1h0.5V290.5h0.5V292.0h0.5V289.7h0.5V290.8h0.5V290.4h0.5V290.4h0.5V286.3h0.5V289.8h0.5V289.4h0.5V289.8h0.5V291.9h0.5V290.1h0.5V291.6h0.5V290.0h0.5V290.8h0.5V287.6h0.5V292.4h0.5V292.1h0.5V292.2h0.5V292.3h0.5V289.2h0.5V289.0h0.5V291.3h0.5V290.8h0.5V290.3h0.5V289.7h0.5V292.1h0.5V288.1h0.5V294.1h0.5V291.9h0.5V289.1h0.5V290.9h0.5V286.0h0.5V289.6h0.5V290.0h0.5V289.7h0.5V288.0h0.5V290.1h0.5V288.1h0.5V287.1h0.5V287.2h0.5V291.3h0.5V290.4h0.5V294.1h0.5V294.1h0.5V289.0h0.5V289.5h0.5V284.6h0.5V291.0h0.5V290.8h0.5V286.9h0.5V289.0h0.5V289.8h0.5V289.0h0.5V289.8h0.5V289.6h0.5V281.6h0.5V286.9h0.5V289.3h0.5V288.6h0.5V287.7h0.5V291.7h0.5V285.6h0.5V291.4h0.5V291.6h0.5V291.6h0.5V290.8h0.5V288.9h0.5V286.6h0.5V289.6h0.5V290.6h0.5V288.8h0.5V289.1h0.5V293.4h0.5V292.3h0.5V291.7h0.5V292.0h0.5V292.6h0.5V292.9h0.5V293.4h0.5V293.1h0.5V293.4h0.5V293.5h0.5V292.1h0.5V292.7h0.5V293.0h0.5V292.3h0.5V293.1h0.5V291.8h0.5V293.2h0.5V293.3h0.5V293.2h0.5V291.7h0.5V291.9h0.5V293.3h0.5V291.8h0.5V294.1h0.5V292.3h0.5V292.8h0.5V293.2h0.5V292.5h0.5V293.2h0.5V292.6h0.5V292.2h0.5V292.9h0.5V294.6h0.5V294.6h0.5V294.6h0.5V294.6h0.5V294.6h0.5V294.6h0.5V294.6h0.5V294.6h0.5V294.6h0.5V294.6h0.5V294.6h0.5V294.6h0.5V294.6h0.5V294.6h0.5V294.6h0.5V294.6h0.5V294.6h0.5V294.6h0.5V294.6h0.5V294.6h0.5V294.6h0.5V294.6h0.5V294.6h0.5V294.6h0.5V294.6h0.5V294.6h0.5V294.6h0.5V294.6h0.5V294.6h0.5V294.6h0.5V294.6h0.5V294.6h0.5V294.6h0.5V294.6h0.5V294.6h0.5V294.6h0.5V294.6h0.5V294.6h0.5V294.6h0.5V294.6h0.5V294.6h0.5V294.6h0.5V294.6h0.5V294.6h0.5V294.6h0.5V294.6h0.5V294.6h0.5V294.6h0.5V294.6h0.5V294.6h0.5V294.6h0.5V294.6h0.5V294.6h0.5V294.6h0.5V294.6h0.5V294.6h0.5V294.6h0.5V294.6h0.5V294.6h0.5V294.6h0.5V294.6h0.5V294.6h0.5V294.6h0.5V294.6h0.5V294.6h0.5V294.6h0.5V294.6h0.5V294.6h0.5V294.6h0.5V294.6h0.5V294.6h0.5V294.6h0.5V294.6h0.5V294.6h0.5V294.6h0.5V294.6h0.5V294.6h0.5V294.6h0.5V294.6h0.5V294.6h0.5V294.6h0.5V294.6h0.5V294.6h0.5V294.6h0.5V294.6h0.5V294.6h0.5V294.6h0.5V294.6h0.5V294.6h0.5V294.6h0.5V294.6h0.5V294.6h0.5V294.6h0.5V294.6h0.5V294.6h0.5V294.6h0.5V294.6h0.5V294.6h0.5V294.6h0.5V294.6h0.5V294.6h0.5V294.6h0.5V294.6h0.5V294.6h0.5V294.6h0.5V294.6h0.5V294.6h0.5V294.6h0.5V294.6h0.5V294.6h0.5V294.6h0.5V294.6h0.5V294.6h0.5V294.6h0.5V294.6h0.5V294.6h0.5V294.6h0.5V294.6h0.5V294.6h0.5V294.6h0.5V294.6h0.5V294.6h0.5V294.6h0.5V294.6h0.5V294.6h0.5V294.6h0.5V294.6h0.5V294.6h0.5V294.6h0.5V294.6h0.5V294.6h0.5V294.6h0.5V294.6h0.5V294.60Z" fill="#1a1a1a" stroke="none"/>
<rect x="151.10" y="239.50" width="124.30" height="55.10" fill="none" stroke="#444" stroke-width="0.6"/>
<line x1="151.10" y1="265.70" x2="191.70" y2="265.70" stroke="#555" stroke-width="0.55"/>
<line x1="191.70" y1="263.70" x2="191.70" y2="271.20" stroke="#555" stroke-width="0.55"/>
<line x1="151.30" y1="264.50" x2="151.30" y2="266.90" stroke="#555" stroke-width="0.5"/>
<line x1="191.70" y1="268.40" x2="275.40" y2="268.40" stroke="#555" stroke-width="0.55"/>
<line x1="275.10" y1="266.90" x2="275.10" y2="269.90" stroke="#555" stroke-width="0.5"/>
<text x="172.50" y="269.30" font-size="2.3" text-anchor="middle" font-weight="normal" fill="#333" stroke="#333" stroke-width="0.14" text-rendering="geometricPrecision">M1</text>
<text x="234.70" y="272.30" font-size="2.3" text-anchor="middle" font-weight="normal" fill="#333" stroke="#333" stroke-width="0.14" text-rendering="geometricPrecision">M2</text>
<text x="211.80" y="244.80" font-size="4.2" text-anchor="middle" font-weight="normal" fill="#111" textLength="7.4" lengthAdjust="spacingAndGlyphs" stroke="#111" stroke-width="0.11" text-rendering="geometricPrecision">CD3</text>
<text x="211.00" y="266.00" font-size="4.0" text-anchor="middle" font-weight="normal" fill="#111" textLength="7.6" lengthAdjust="spacingAndGlyphs" stroke="#111" stroke-width="0.10" text-rendering="geometricPrecision">12%</text>
<text transform="translate(152.20 297.00) rotate(-50)" font-size="2.4" text-anchor="middle" dy="0.84" fill="#222" stroke="#222" stroke-width="0.2" text-rendering="geometricPrecision">10</text>
<text transform="translate(183.30 297.00) rotate(-50)" font-size="2.4" text-anchor="middle" dy="0.84" fill="#222" stroke="#222" stroke-width="0.2" text-rendering="geometricPrecision">10</text>
<text transform="translate(214.00 297.00) rotate(-50)" font-size="2.4" text-anchor="middle" dy="0.84" fill="#222" stroke="#222" stroke-width="0.2" text-rendering="geometricPrecision">10</text>
<text transform="translate(244.60 297.00) rotate(-50)" font-size="2.4" text-anchor="middle" dy="0.84" fill="#222" stroke="#222" stroke-width="0.2" text-rendering="geometricPrecision">10</text>
<text transform="translate(275.20 297.00) rotate(-50)" font-size="2.4" text-anchor="middle" dy="0.84" fill="#222" stroke="#222" stroke-width="0.2" text-rendering="geometricPrecision">10</text>
<line x1="150.20" y1="239.50" x2="151.10" y2="239.50" stroke="#555" stroke-width="0.35"/>
<line x1="150.50" y1="242.94" x2="151.10" y2="242.94" stroke="#555" stroke-width="0.35"/>
<line x1="150.50" y1="246.39" x2="151.10" y2="246.39" stroke="#555" stroke-width="0.35"/>
<line x1="150.50" y1="249.83" x2="151.10" y2="249.83" stroke="#555" stroke-width="0.35"/>
<line x1="150.20" y1="253.28" x2="151.10" y2="253.28" stroke="#555" stroke-width="0.35"/>
<line x1="150.50" y1="256.72" x2="151.10" y2="256.72" stroke="#555" stroke-width="0.35"/>
<line x1="150.50" y1="260.16" x2="151.10" y2="260.16" stroke="#555" stroke-width="0.35"/>
<line x1="150.50" y1="263.61" x2="151.10" y2="263.61" stroke="#555" stroke-width="0.35"/>
<line x1="150.20" y1="267.05" x2="151.10" y2="267.05" stroke="#555" stroke-width="0.35"/>
<line x1="150.50" y1="270.49" x2="151.10" y2="270.49" stroke="#555" stroke-width="0.35"/>
<line x1="150.50" y1="273.94" x2="151.10" y2="273.94" stroke="#555" stroke-width="0.35"/>
<line x1="150.50" y1="277.38" x2="151.10" y2="277.38" stroke="#555" stroke-width="0.35"/>
<line x1="150.20" y1="280.83" x2="151.10" y2="280.83" stroke="#555" stroke-width="0.35"/>
<line x1="150.50" y1="284.27" x2="151.10" y2="284.27" stroke="#555" stroke-width="0.35"/>
<line x1="150.50" y1="287.71" x2="151.10" y2="287.71" stroke="#555" stroke-width="0.35"/>
<line x1="150.50" y1="291.16" x2="151.10" y2="291.16" stroke="#555" stroke-width="0.35"/>
<line x1="150.20" y1="294.60" x2="151.10" y2="294.60" stroke="#555" stroke-width="0.35"/>
<text x="147.90" y="240.50" font-size="3.0" text-anchor="middle" font-weight="normal" fill="#333" stroke="#333" stroke-width="0.18" text-rendering="geometricPrecision">8</text>
<text x="147.90" y="254.28" font-size="3.0" text-anchor="middle" font-weight="normal" fill="#333" stroke="#333" stroke-width="0.18" text-rendering="geometricPrecision">6</text>
<text x="147.90" y="268.05" font-size="3.0" text-anchor="middle" font-weight="normal" fill="#333" stroke="#333" stroke-width="0.18" text-rendering="geometricPrecision">4</text>
<text x="147.90" y="281.83" font-size="3.0" text-anchor="middle" font-weight="normal" fill="#333" stroke="#333" stroke-width="0.18" text-rendering="geometricPrecision">2</text>
<text x="147.90" y="295.60" font-size="3.0" text-anchor="middle" font-weight="normal" fill="#333" stroke="#333" stroke-width="0.18" text-rendering="geometricPrecision">0</text>
<line x1="317.00" y1="112.80" x2="317.00" y2="190.30" stroke="#999" stroke-width="0.5"/>
<line x1="317.00" y1="190.30" x2="427.50" y2="190.30" stroke="#444" stroke-width="0.6"/>
<line x1="316.20" y1="190.30" x2="317.00" y2="190.30" stroke="#999" stroke-width="0.4"/>
<text x="313.80" y="191.60" font-size="3.7" text-anchor="end" font-weight="normal" fill="#444" stroke="#444" stroke-width="0.09" text-rendering="geometricPrecision">0</text>
<line x1="316.20" y1="180.10" x2="317.00" y2="180.10" stroke="#999" stroke-width="0.4"/>
<text x="313.80" y="181.40" font-size="3.7" text-anchor="end" font-weight="normal" fill="#444" stroke="#444" stroke-width="0.09" text-rendering="geometricPrecision">2</text>
<line x1="316.20" y1="169.90" x2="317.00" y2="169.90" stroke="#999" stroke-width="0.4"/>
<text x="313.80" y="171.20" font-size="3.7" text-anchor="end" font-weight="normal" fill="#444" stroke="#444" stroke-width="0.09" text-rendering="geometricPrecision">4</text>
<line x1="316.20" y1="159.70" x2="317.00" y2="159.70" stroke="#999" stroke-width="0.4"/>
<text x="313.80" y="161.00" font-size="3.7" text-anchor="end" font-weight="normal" fill="#444" stroke="#444" stroke-width="0.09" text-rendering="geometricPrecision">6</text>
<line x1="316.20" y1="149.50" x2="317.00" y2="149.50" stroke="#999" stroke-width="0.4"/>
<text x="313.80" y="150.80" font-size="3.7" text-anchor="end" font-weight="normal" fill="#444" stroke="#444" stroke-width="0.09" text-rendering="geometricPrecision">8</text>
<line x1="316.20" y1="139.30" x2="317.00" y2="139.30" stroke="#999" stroke-width="0.4"/>
<text x="313.80" y="140.60" font-size="3.7" text-anchor="end" font-weight="normal" fill="#444" stroke="#444" stroke-width="0.09" text-rendering="geometricPrecision">10</text>
<line x1="316.20" y1="129.10" x2="317.00" y2="129.10" stroke="#999" stroke-width="0.4"/>
<text x="313.80" y="130.40" font-size="3.7" text-anchor="end" font-weight="normal" fill="#444" stroke="#444" stroke-width="0.09" text-rendering="geometricPrecision">12</text>
<line x1="316.20" y1="118.90" x2="317.00" y2="118.90" stroke="#999" stroke-width="0.4"/>
<text x="313.80" y="120.20" font-size="3.7" text-anchor="end" font-weight="normal" fill="#444" stroke="#444" stroke-width="0.09" text-rendering="geometricPrecision">14</text>
<text transform="translate(304.60 150.90) rotate(-90)" font-size="4.2" text-anchor="middle" font-weight="normal" fill="#444" textLength="61.0" lengthAdjust="spacingAndGlyphs" stroke="#444" stroke-width="0.11" text-rendering="geometricPrecision">% of human CD45+ cells in mouse</text>
<polygon points="344.20,187.67 345.20,188.77 344.20,189.87 343.20,188.77" fill="#999" stroke="#666" stroke-width="0.35"/>
<polygon points="344.20,185.38 345.20,186.48 344.20,187.58 343.20,186.48" fill="#999" stroke="#666" stroke-width="0.35"/>
<polygon points="344.20,183.34 345.20,184.44 344.20,185.53 343.20,184.44" fill="#999" stroke="#666" stroke-width="0.35"/>
<line x1="340.60" y1="187.65" x2="347.80" y2="187.65" stroke="#000" stroke-width="0.7"/>
<text x="337.80" y="189.35" font-size="4.8" text-anchor="end" font-weight="normal" fill="#222" textLength="8.2" lengthAdjust="spacingAndGlyphs">0.52</text>
<text x="344.50" y="197.30" font-size="4.8" text-anchor="middle" font-weight="normal" fill="#222" textLength="7.4" lengthAdjust="spacingAndGlyphs">GFP</text>
<text x="344.70" y="203.60" font-size="4.8" text-anchor="middle" font-weight="normal" fill="#222" textLength="14.0" lengthAdjust="spacingAndGlyphs">control</text>
<rect x="370.35" y="123.11" width="2.90" height="2.80" fill="#fff" stroke="#555" stroke-width="0.5"/>
<rect x="370.35" y="156.26" width="2.90" height="2.80" fill="#fff" stroke="#555" stroke-width="0.5"/>
<rect x="370.50" y="167.17" width="2.60" height="2.40" fill="#fff" stroke="#aaa" stroke-width="0.45"/>
<rect x="370.50" y="168.70" width="2.60" height="2.40" fill="#fff" stroke="#aaa" stroke-width="0.45"/>
<rect x="370.50" y="173.19" width="2.60" height="2.60" fill="#555" stroke="#555" stroke-width="0.2"/>
<rect x="370.50" y="176.76" width="2.60" height="2.60" fill="#555" stroke="#555" stroke-width="0.2"/>
<rect x="370.50" y="180.33" width="2.60" height="2.60" fill="#555" stroke="#555" stroke-width="0.2"/>
<rect x="370.50" y="187.47" width="2.60" height="2.60" fill="#555" stroke="#555" stroke-width="0.2"/>
<line x1="368.30" y1="170.72" x2="375.80" y2="170.72" stroke="#000" stroke-width="0.7"/>
<text x="367.40" y="172.42" font-size="4.8" text-anchor="end" font-weight="normal" fill="#111" textLength="8.0" lengthAdjust="spacingAndGlyphs">3.84</text>
<text x="372.70" y="197.30" font-size="4.8" text-anchor="middle" font-weight="normal" fill="#222" textLength="15.6" lengthAdjust="spacingAndGlyphs">SALL4A</text>
<polygon points="399.40,140.96 398.10,143.36 400.70,143.36" fill="#ccc" stroke="#888" stroke-width="0.35"/>
<polygon points="399.40,167.48 398.10,169.88 400.70,169.88" fill="#ccc" stroke="#888" stroke-width="0.35"/>
<polygon points="399.40,169.52 398.10,171.92 400.70,171.92" fill="#ccc" stroke="#888" stroke-width="0.35"/>
<polygon points="399.40,177.68 398.10,180.08 400.70,180.08" fill="#999" stroke="#888" stroke-width="0.35"/>
<polygon points="399.40,181.76 398.10,184.16 400.70,184.16" fill="#999" stroke="#888" stroke-width="0.35"/>
<polygon points="399.40,187.12 398.10,189.52 400.70,189.52" fill="#aaa" stroke="#888" stroke-width="0.35"/>
<line x1="396.20" y1="175.10" x2="402.80" y2="175.10" stroke="#000" stroke-width="0.7"/>
<text x="395.00" y="176.80" font-size="4.8" text-anchor="end" font-weight="normal" fill="#111" textLength="8.2" lengthAdjust="spacingAndGlyphs">2.98</text>
<text x="399.60" y="197.30" font-size="4.8" text-anchor="middle" font-weight="normal" fill="#222" textLength="15.4" lengthAdjust="spacingAndGlyphs">SALL4B</text>
<line x1="313.30" y1="226.30" x2="313.30" y2="303.30" stroke="#000" stroke-width="0.6"/>
<line x1="313.30" y1="303.30" x2="432.00" y2="303.30" stroke="#000" stroke-width="0.6"/>
<line x1="312.40" y1="303.30" x2="313.30" y2="303.30" stroke="#000" stroke-width="0.35"/>
<line x1="312.40" y1="281.42" x2="313.30" y2="281.42" stroke="#000" stroke-width="0.35"/>
<line x1="312.40" y1="268.61" x2="313.30" y2="268.61" stroke="#000" stroke-width="0.35"/>
<line x1="312.40" y1="259.53" x2="313.30" y2="259.53" stroke="#000" stroke-width="0.35"/>
<line x1="312.40" y1="252.48" x2="313.30" y2="252.48" stroke="#000" stroke-width="0.35"/>
<line x1="312.40" y1="246.73" x2="313.30" y2="246.73" stroke="#000" stroke-width="0.35"/>
<line x1="312.40" y1="241.86" x2="313.30" y2="241.86" stroke="#000" stroke-width="0.35"/>
<line x1="312.40" y1="237.65" x2="313.30" y2="237.65" stroke="#000" stroke-width="0.35"/>
<line x1="312.40" y1="233.93" x2="313.30" y2="233.93" stroke="#000" stroke-width="0.35"/>
<line x1="312.40" y1="230.60" x2="313.30" y2="230.60" stroke="#000" stroke-width="0.35"/>
<text x="311.80" y="231.50" font-size="2.6" text-anchor="end" font-weight="normal" fill="#222" stroke="#222" stroke-width="0.16" text-rendering="geometricPrecision">100</text>
<text x="311.80" y="263.90" font-size="2.6" text-anchor="end" font-weight="normal" fill="#222" stroke="#222" stroke-width="0.16" text-rendering="geometricPrecision">37</text>
<text x="311.80" y="304.20" font-size="2.6" text-anchor="end" font-weight="normal" fill="#222" stroke="#222" stroke-width="0.16" text-rendering="geometricPrecision">10</text>
<line x1="313.50" y1="303.30" x2="313.50" y2="304.20" stroke="#000" stroke-width="0.35"/>
<text x="313.50" y="307.30" font-size="2.7" text-anchor="middle" font-weight="normal" fill="#222" stroke="#222" stroke-width="0.16" text-rendering="geometricPrecision">0</text>
<line x1="340.80" y1="303.30" x2="340.80" y2="304.20" stroke="#000" stroke-width="0.35"/>
<text x="340.80" y="307.30" font-size="2.7" text-anchor="middle" font-weight="normal" fill="#222" stroke="#222" stroke-width="0.16" text-rendering="geometricPrecision">5,000</text>
<line x1="368.10" y1="303.30" x2="368.10" y2="304.20" stroke="#000" stroke-width="0.35"/>
<text x="368.10" y="307.30" font-size="2.7" text-anchor="middle" font-weight="normal" fill="#222" stroke="#222" stroke-width="0.16" text-rendering="geometricPrecision">10,000</text>
<line x1="395.40" y1="303.30" x2="395.40" y2="304.20" stroke="#000" stroke-width="0.35"/>
<text x="395.40" y="307.30" font-size="2.7" text-anchor="middle" font-weight="normal" fill="#222" stroke="#222" stroke-width="0.16" text-rendering="geometricPrecision">15,000</text>
<line x1="422.70" y1="303.30" x2="422.70" y2="304.20" stroke="#000" stroke-width="0.35"/>
<text x="422.70" y="307.30" font-size="2.7" text-anchor="middle" font-weight="normal" fill="#222" stroke="#222" stroke-width="0.16" text-rendering="geometricPrecision">20,000</text>
<text x="373.60" y="313.80" font-size="4.2" text-anchor="middle" font-weight="bold" fill="#111" textLength="22.5" lengthAdjust="spacingAndGlyphs" text-rendering="geometricPrecision">CD34+ cells</text>
<text transform="translate(305.00 266.40) rotate(-90)" font-size="3.8" text-anchor="middle" font-weight="normal" fill="#444" textLength="52.0" lengthAdjust="spacingAndGlyphs" stroke="#444" stroke-width="0.10" text-rendering="geometricPrecision">% of NOD-SCID negative mice</text>
<line x1="313.30" y1="263.00" x2="427.20" y2="263.00" stroke="#555" stroke-width="0.7"/>
<line x1="313.30" y1="230.60" x2="424.00" y2="263.50" stroke="#222" stroke-width="0.6"/>
<line x1="313.30" y1="230.60" x2="399.00" y2="284.00" stroke="#222" stroke-width="0.6"/>
<line x1="313.30" y1="230.60" x2="390.50" y2="292.10" stroke="#222" stroke-width="0.6"/>
<line x1="353.60" y1="263.00" x2="353.60" y2="287.50" stroke="#222" stroke-width="0.5"/>
<polygon points="353.60,289.00 352.70,287.00 354.50,287.00" fill="#222" stroke="none" stroke-width="0.6"/>
<line x1="364.60" y1="263.00" x2="364.60" y2="280.50" stroke="#222" stroke-width="0.5"/>
<polygon points="364.60,282.00 363.70,280.00 365.50,280.00" fill="#222" stroke="none" stroke-width="0.6"/>
<line x1="420.30" y1="263.00" x2="420.30" y2="282.00" stroke="#222" stroke-width="0.5"/>
<polygon points="420.30,283.50 419.40,281.50 421.20,281.50" fill="#222" stroke="none" stroke-width="0.6"/>
<text x="353.40" y="293.20" font-size="2.5" text-anchor="middle" font-weight="normal" fill="#222" stroke="#222" stroke-width="0.15" text-rendering="geometricPrecision">1/7,500</text>
<text x="368.30" y="285.20" font-size="2.5" text-anchor="middle" font-weight="normal" fill="#222" stroke="#222" stroke-width="0.15" text-rendering="geometricPrecision">1/11,500</text>
<text x="420.00" y="287.20" font-size="2.5" text-anchor="middle" font-weight="normal" fill="#222" stroke="#222" stroke-width="0.15" text-rendering="geometricPrecision">1/23,000</text>
<circle cx="333.20" cy="232.00" r="1.6" fill="#fff" stroke="#111" stroke-width="0.65"/>
<circle cx="358.30" cy="245.90" r="1.6" fill="#fff" stroke="#111" stroke-width="0.65"/>
<circle cx="423.20" cy="258.10" r="1.6" fill="#fff" stroke="#111" stroke-width="0.65"/>
<polygon points="333.20,247.00 331.40,250.30 335.00,250.30" fill="#000" stroke="none" stroke-width="0.6"/>
<polygon points="358.30,257.60 356.50,260.90 360.10,260.90" fill="#000" stroke="none" stroke-width="0.6"/>
<polygon points="423.20,273.00 421.40,276.30 425.00,276.30" fill="#000" stroke="none" stroke-width="0.6"/>
<rect x="331.70" y="250.50" width="3.00" height="3.00" fill="#fff" stroke="#111" stroke-width="0.65"/>
<rect x="356.20" y="279.80" width="3.00" height="3.00" fill="#fff" stroke="#111" stroke-width="0.65"/>
<rect x="421.50" y="290.30" width="3.00" height="3.00" fill="#fff" stroke="#111" stroke-width="0.65"/>
</svg>
</body></html>
